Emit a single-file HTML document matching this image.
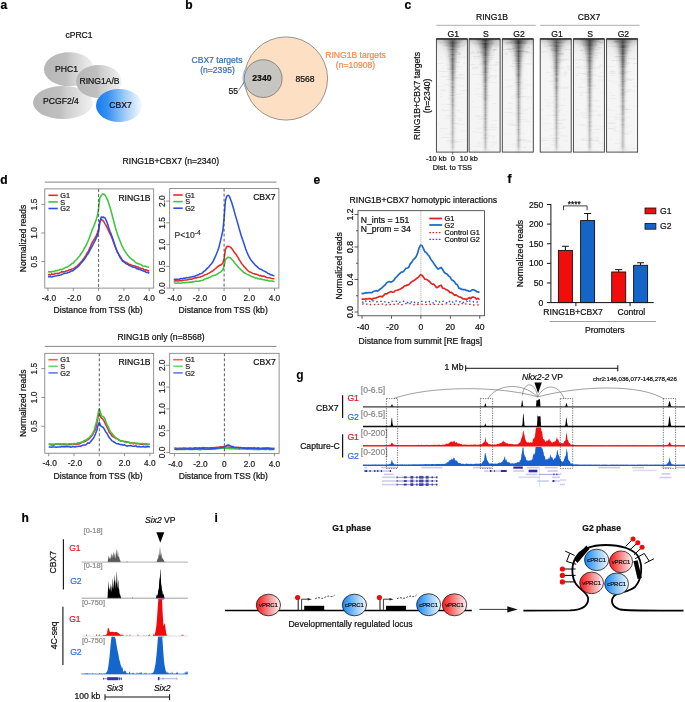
<!DOCTYPE html>
<html><head><meta charset="utf-8"><title>Figure</title>
<style>
html,body{margin:0;padding:0;background:#fff;}
svg{display:block;font-family:"Liberation Sans",sans-serif;will-change:transform;}
</style></head><body>
<svg width="685" height="702" viewBox="0 0 685 702">

<defs>
 <linearGradient id="gGray" x1="0" y1="0" x2="1" y2="0">
  <stop offset="0" stop-color="#b6b6b6"/>
  <stop offset="0.45" stop-color="#bfbfbf"/>
  <stop offset="0.55" stop-color="#cdcdcd"/>
  <stop offset="1" stop-color="#f2f2f2"/>
 </linearGradient>
 <linearGradient id="gBlue" x1="0" y1="0" x2="1" y2="0">
  <stop offset="0" stop-color="#157cf0"/>
  <stop offset="0.25" stop-color="#3590f2"/>
  <stop offset="0.65" stop-color="#a6cff8"/>
  <stop offset="1" stop-color="#f6faff"/>
 </linearGradient>
 <linearGradient id="gRedC" x1="0" y1="0" x2="1" y2="0">
  <stop offset="0" stop-color="#ff1a1a"/>
  <stop offset="0.12" stop-color="#fb2d2d"/>
  <stop offset="0.55" stop-color="#f49494"/>
  <stop offset="1" stop-color="#fff4f4"/>
 </linearGradient>
 <linearGradient id="gBlueC" x1="0" y1="0" x2="1" y2="0">
  <stop offset="0" stop-color="#1586f5"/>
  <stop offset="0.12" stop-color="#2a92f5"/>
  <stop offset="0.55" stop-color="#92c8f6"/>
  <stop offset="1" stop-color="#f2f9ff"/>
 </linearGradient>
 <linearGradient id="hmTop" x1="0" y1="0" x2="0" y2="1">
  <stop offset="0" stop-color="#555" stop-opacity="0.6"/>
  <stop offset="0.06" stop-color="#777" stop-opacity="0.3"/>
  <stop offset="0.3" stop-color="#999" stop-opacity="0.1"/>
  <stop offset="1" stop-color="#aaa" stop-opacity="0"/>
 </linearGradient>
 <linearGradient id="hmBand" x1="0" y1="0" x2="1" y2="0">
  <stop offset="0" stop-color="#333" stop-opacity="0"/>
  <stop offset="0.2" stop-color="#333" stop-opacity="0.1"/>
  <stop offset="0.35" stop-color="#2a2a2a" stop-opacity="0.45"/>
  <stop offset="0.5" stop-color="#1a1a1a" stop-opacity="0.92"/>
  <stop offset="0.65" stop-color="#2a2a2a" stop-opacity="0.45"/>
  <stop offset="0.8" stop-color="#333" stop-opacity="0.1"/>
  <stop offset="1" stop-color="#333" stop-opacity="0"/>
 </linearGradient>
 <linearGradient id="hmV" x1="0" y1="0" x2="0" y2="1">
  <stop offset="0" stop-color="#fff" stop-opacity="0"/>
  <stop offset="0.6" stop-color="#fff" stop-opacity="0.15"/>
  <stop offset="1" stop-color="#fff" stop-opacity="0.55"/>
 </linearGradient>
</defs>

<rect x="0" y="0" width="685" height="702" fill="#fff"/>
<text x="0.50" y="9.30" font-size="12" fill="#000" stroke="#000" stroke-width="0.22" font-weight="bold">a</text>
<text x="79.00" y="37.50" font-size="8.6" fill="#111" stroke="#111" stroke-width="0.22" text-anchor="middle">cPRC1</text>
<ellipse cx="69" cy="69.3" rx="25" ry="17" fill="url(#gGray)"/>
<ellipse cx="63" cy="102.5" rx="30" ry="16.5" fill="url(#gGray)"/>
<ellipse cx="98.8" cy="81.5" rx="22.8" ry="16.5" fill="url(#gGray)"/>
<ellipse cx="119" cy="105.5" rx="23" ry="16.5" fill="url(#gBlue)"/>
<text x="66.50" y="72.30" font-size="8.6" fill="#111" stroke="#111" stroke-width="0.22" text-anchor="middle">PHC1</text>
<text x="99.50" y="83.50" font-size="8.6" fill="#111" stroke="#111" stroke-width="0.22" text-anchor="middle">RING1A/B</text>
<text x="61.00" y="104.30" font-size="8.6" fill="#111" stroke="#111" stroke-width="0.22" text-anchor="middle">PCGF2/4</text>
<text x="120.60" y="107.60" font-size="8.6" fill="#111" stroke="#111" stroke-width="0.22" text-anchor="middle">CBX7</text>
<text x="185.20" y="9.30" font-size="12" fill="#000" stroke="#000" stroke-width="0.22" font-weight="bold">b</text>
<circle cx="286" cy="78.5" r="41.6" fill="#fddfc4" stroke="#555" stroke-width="0.6"/>
<path d="M 246 67.6 A 21 21 0 0 0 246 89" fill="#c2dcf0" stroke="#6f93b8" stroke-width="0.6"/>
<circle cx="263.2" cy="78.6" r="18.9" fill="#c6c5c1" stroke="#555" stroke-width="0.6"/>
<text x="261.90" y="80.90" font-size="8.6" fill="#111" stroke="#111" stroke-width="0.22" text-anchor="middle" font-weight="bold">2340</text>
<text x="305.00" y="81.80" font-size="8.6" fill="#111" stroke="#111" stroke-width="0.22" text-anchor="middle">8568</text>
<text x="233.30" y="93.70" font-size="8.6" fill="#111" stroke="#111" stroke-width="0.22" text-anchor="middle">55</text>
<line x1="238.60" y1="90.50" x2="244.20" y2="82.00" stroke="#333" stroke-width="0.6"/>
<text x="217.00" y="62.60" font-size="8.6" fill="#3a6fb5" stroke="#3a6fb5" stroke-width="0.22" text-anchor="middle">CBX7 targets</text>
<text x="217.50" y="73.30" font-size="8.6" fill="#3a6fb5" stroke="#3a6fb5" stroke-width="0.22" text-anchor="middle">(n=2395)</text>
<text x="355.50" y="57.50" font-size="8.6" fill="#f58a4a" stroke="#f58a4a" stroke-width="0.22" text-anchor="middle">RING1B targets</text>
<text x="355.50" y="68.30" font-size="8.6" fill="#f58a4a" stroke="#f58a4a" stroke-width="0.22" text-anchor="middle">(n=10908)</text>
<text x="404.50" y="9.30" font-size="12" fill="#000" stroke="#000" stroke-width="0.22" font-weight="bold">c</text>
<text x="492.00" y="19.80" font-size="8.6" fill="#111" stroke="#111" stroke-width="0.22" text-anchor="middle">RING1B</text>
<text x="589.00" y="19.80" font-size="8.6" fill="#111" stroke="#111" stroke-width="0.22" text-anchor="middle">CBX7</text>
<line x1="436.30" y1="25.30" x2="535.80" y2="25.30" stroke="#999" stroke-width="0.8"/>
<line x1="540.20" y1="25.30" x2="639.60" y2="25.30" stroke="#999" stroke-width="0.8"/>
<rect x="436.40" y="38.90" width="31.00" height="113.20" fill="#f5f5f5"/>
<rect x="446.4" y="133.8" width="7.3" height="0.8" fill="#666" opacity="0.04"/>
<rect x="456.6" y="96.8" width="4.8" height="0.8" fill="#666" opacity="0.05"/>
<rect x="458.6" y="92.9" width="6.1" height="0.8" fill="#666" opacity="0.06"/>
<rect x="450.9" y="71.2" width="7.3" height="0.8" fill="#666" opacity="0.07"/>
<rect x="454.0" y="141.1" width="8.9" height="0.8" fill="#666" opacity="0.08"/>
<rect x="457.5" y="74.4" width="7.1" height="0.8" fill="#666" opacity="0.09"/>
<rect x="448.8" y="92.4" width="2.7" height="0.8" fill="#666" opacity="0.06"/>
<rect x="447.0" y="141.4" width="8.8" height="0.8" fill="#666" opacity="0.07"/>
<rect x="449.2" y="68.9" width="7.6" height="0.8" fill="#666" opacity="0.06"/>
<rect x="457.7" y="119.9" width="4.8" height="0.8" fill="#666" opacity="0.06"/>
<rect x="458.2" y="40.0" width="5.5" height="0.8" fill="#666" opacity="0.14"/>
<rect x="441.1" y="76.1" width="8.1" height="0.8" fill="#666" opacity="0.08"/>
<rect x="453.9" y="66.4" width="8.8" height="0.8" fill="#666" opacity="0.09"/>
<rect x="450.0" y="48.8" width="4.2" height="0.8" fill="#666" opacity="0.15"/>
<rect x="454.0" y="52.0" width="5.9" height="0.8" fill="#666" opacity="0.13"/>
<rect x="460.2" y="130.5" width="5.8" height="0.8" fill="#666" opacity="0.06"/>
<rect x="451.7" y="105.2" width="5.1" height="0.8" fill="#666" opacity="0.05"/>
<rect x="441.8" y="103.9" width="4.0" height="0.8" fill="#666" opacity="0.04"/>
<rect x="448.1" y="108.0" width="6.6" height="0.8" fill="#666" opacity="0.03"/>
<rect x="457.1" y="124.1" width="8.1" height="0.8" fill="#666" opacity="0.07"/>
<rect x="448.5" y="139.8" width="8.5" height="0.8" fill="#666" opacity="0.05"/>
<rect x="458.1" y="118.3" width="3.9" height="0.8" fill="#666" opacity="0.07"/>
<rect x="459.6" y="139.4" width="6.1" height="0.8" fill="#666" opacity="0.06"/>
<rect x="460.2" y="90.0" width="6.6" height="0.8" fill="#666" opacity="0.08"/>
<rect x="453.7" y="128.1" width="2.6" height="0.8" fill="#666" opacity="0.05"/>
<rect x="442.3" y="110.0" width="7.9" height="0.8" fill="#666" opacity="0.07"/>
<rect x="457.9" y="52.9" width="3.5" height="0.8" fill="#666" opacity="0.12"/>
<rect x="440.9" y="130.6" width="2.7" height="0.8" fill="#666" opacity="0.06"/>
<rect x="458.7" y="44.9" width="6.0" height="0.8" fill="#666" opacity="0.14"/>
<rect x="454.6" y="115.6" width="2.2" height="0.8" fill="#666" opacity="0.06"/>
<rect x="446.3" y="103.9" width="4.7" height="0.8" fill="#666" opacity="0.08"/>
<rect x="463.7" y="43.9" width="2.2" height="0.8" fill="#666" opacity="0.13"/>
<rect x="458.1" y="53.7" width="3.5" height="0.8" fill="#666" opacity="0.14"/>
<rect x="439.4" y="42.4" width="5.0" height="0.8" fill="#666" opacity="0.14"/>
<rect x="445.1" y="64.5" width="6.5" height="0.8" fill="#666" opacity="0.08"/>
<rect x="439.7" y="95.9" width="2.3" height="0.8" fill="#666" opacity="0.08"/>
<rect x="455.5" y="62.1" width="4.5" height="0.8" fill="#666" opacity="0.12"/>
<rect x="454.9" y="142.0" width="3.2" height="0.8" fill="#666" opacity="0.08"/>
<rect x="456.6" y="46.4" width="6.7" height="0.8" fill="#666" opacity="0.13"/>
<rect x="447.4" y="67.8" width="6.2" height="0.8" fill="#666" opacity="0.07"/>
<rect x="451.2" y="92.3" width="4.9" height="0.8" fill="#666" opacity="0.06"/>
<rect x="458.3" y="74.5" width="4.5" height="0.8" fill="#666" opacity="0.06"/>
<rect x="457.6" y="102.2" width="2.1" height="0.8" fill="#666" opacity="0.05"/>
<rect x="443.2" y="45.0" width="4.0" height="0.8" fill="#666" opacity="0.16"/>
<rect x="446.2" y="79.1" width="4.0" height="0.8" fill="#666" opacity="0.09"/>
<rect x="453.8" y="110.4" width="6.3" height="0.8" fill="#666" opacity="0.05"/>
<rect x="436.9" y="86.0" width="6.6" height="0.8" fill="#666" opacity="0.04"/>
<rect x="453.7" y="77.1" width="3.7" height="0.8" fill="#666" opacity="0.06"/>
<rect x="446.9" y="137.2" width="6.0" height="0.8" fill="#666" opacity="0.05"/>
<rect x="453.5" y="117.9" width="4.9" height="0.8" fill="#666" opacity="0.03"/>
<rect x="441.0" y="89.4" width="3.8" height="0.8" fill="#666" opacity="0.06"/>
<rect x="455.1" y="94.1" width="5.9" height="0.8" fill="#666" opacity="0.07"/>
<rect x="449.0" y="94.9" width="4.2" height="0.8" fill="#666" opacity="0.07"/>
<rect x="441.1" y="137.2" width="7.7" height="0.8" fill="#666" opacity="0.08"/>
<rect x="456.8" y="110.3" width="2.6" height="0.8" fill="#666" opacity="0.08"/>
<rect x="444.3" y="84.6" width="6.7" height="0.8" fill="#666" opacity="0.04"/>
<rect x="459.9" y="119.7" width="2.0" height="0.8" fill="#666" opacity="0.06"/>
<rect x="454.5" y="50.8" width="2.8" height="0.8" fill="#666" opacity="0.15"/>
<rect x="439.0" y="71.0" width="8.8" height="0.8" fill="#666" opacity="0.10"/>
<rect x="444.4" y="84.0" width="2.6" height="0.8" fill="#666" opacity="0.05"/>
<rect x="439.8" y="128.0" width="8.0" height="0.8" fill="#666" opacity="0.06"/>
<rect x="459.2" y="112.3" width="4.4" height="0.8" fill="#666" opacity="0.04"/>
<rect x="455.8" y="42.0" width="2.3" height="0.8" fill="#666" opacity="0.15"/>
<rect x="456.4" y="145.2" width="8.6" height="0.8" fill="#666" opacity="0.03"/>
<rect x="452.0" y="123.2" width="6.9" height="0.8" fill="#666" opacity="0.07"/>
<rect x="445.7" y="140.3" width="6.5" height="0.8" fill="#666" opacity="0.06"/>
<rect x="437.1" y="63.0" width="6.1" height="0.8" fill="#666" opacity="0.08"/>
<rect x="453.0" y="77.0" width="7.5" height="0.8" fill="#666" opacity="0.06"/>
<rect x="441.4" y="108.9" width="2.3" height="0.8" fill="#666" opacity="0.08"/>
<rect x="450.7" y="72.1" width="4.8" height="0.8" fill="#666" opacity="0.07"/>
<rect x="438.2" y="93.1" width="3.7" height="0.8" fill="#666" opacity="0.04"/>
<rect x="448.0" y="98.1" width="2.5" height="0.8" fill="#666" opacity="0.05"/>
<rect x="461.7" y="86.0" width="2.7" height="0.8" fill="#666" opacity="0.05"/>
<rect x="444.2" y="133.4" width="8.8" height="0.8" fill="#666" opacity="0.05"/>
<rect x="444.5" y="117.7" width="5.0" height="0.8" fill="#666" opacity="0.07"/>
<rect x="450.4" y="139.4" width="8.4" height="0.8" fill="#666" opacity="0.05"/>
<rect x="438.4" y="148.3" width="6.5" height="0.8" fill="#666" opacity="0.03"/>
<rect x="437.1" y="123.3" width="2.4" height="0.8" fill="#666" opacity="0.05"/>
<rect x="449.0" y="97.6" width="5.1" height="0.8" fill="#666" opacity="0.06"/>
<rect x="446.1" y="115.4" width="5.0" height="0.8" fill="#666" opacity="0.08"/>
<rect x="446.6" y="68.9" width="7.4" height="0.8" fill="#666" opacity="0.08"/>
<rect x="452.3" y="47.0" width="8.0" height="0.8" fill="#666" opacity="0.16"/>
<rect x="439.7" y="90.1" width="6.7" height="0.8" fill="#666" opacity="0.05"/>
<rect x="463.2" y="62.9" width="2.3" height="0.8" fill="#666" opacity="0.09"/>
<rect x="447.0" y="56.2" width="3.4" height="0.8" fill="#666" opacity="0.12"/>
<rect x="457.6" y="56.7" width="8.9" height="0.8" fill="#666" opacity="0.10"/>
<rect x="457.3" y="85.0" width="6.8" height="0.8" fill="#666" opacity="0.05"/>
<rect x="449.7" y="141.9" width="4.3" height="0.8" fill="#666" opacity="0.05"/>
<rect x="453.1" y="114.4" width="3.4" height="0.8" fill="#666" opacity="0.04"/>
<rect x="456.0" y="77.7" width="8.7" height="0.8" fill="#666" opacity="0.09"/>
<rect x="436.40" y="38.90" width="31.00" height="24.90" fill="url(#hmTop)" opacity="0.90"/>
<rect x="433.20" y="38.90" width="39.00" height="1.05" fill="url(#hmBand)" opacity="0.71"/>
<rect x="434.48" y="39.90" width="36.44" height="1.05" fill="url(#hmBand)" opacity="0.73"/>
<rect x="435.64" y="40.90" width="34.13" height="1.05" fill="url(#hmBand)" opacity="0.75"/>
<rect x="436.68" y="41.90" width="32.04" height="1.05" fill="url(#hmBand)" opacity="0.86"/>
<rect x="437.63" y="42.90" width="30.14" height="1.05" fill="url(#hmBand)" opacity="0.86"/>
<rect x="438.48" y="43.90" width="28.43" height="1.05" fill="url(#hmBand)" opacity="0.79"/>
<rect x="439.26" y="44.90" width="26.88" height="1.05" fill="url(#hmBand)" opacity="0.81"/>
<rect x="439.96" y="45.90" width="25.48" height="1.05" fill="url(#hmBand)" opacity="0.82"/>
<rect x="440.60" y="46.90" width="24.21" height="1.05" fill="url(#hmBand)" opacity="0.64"/>
<rect x="441.18" y="47.90" width="23.05" height="1.05" fill="url(#hmBand)" opacity="0.64"/>
<rect x="441.70" y="48.90" width="22.00" height="1.05" fill="url(#hmBand)" opacity="0.80"/>
<rect x="442.18" y="49.90" width="21.04" height="1.05" fill="url(#hmBand)" opacity="0.61"/>
<rect x="442.62" y="50.90" width="20.17" height="1.05" fill="url(#hmBand)" opacity="0.64"/>
<rect x="443.01" y="51.90" width="19.37" height="1.05" fill="url(#hmBand)" opacity="0.60"/>
<rect x="443.38" y="52.90" width="18.65" height="1.05" fill="url(#hmBand)" opacity="0.58"/>
<rect x="443.71" y="53.90" width="17.98" height="1.05" fill="url(#hmBand)" opacity="0.74"/>
<rect x="444.01" y="54.90" width="17.38" height="1.05" fill="url(#hmBand)" opacity="0.63"/>
<rect x="444.29" y="55.90" width="16.82" height="1.05" fill="url(#hmBand)" opacity="0.59"/>
<rect x="444.54" y="56.90" width="16.31" height="1.05" fill="url(#hmBand)" opacity="0.58"/>
<rect x="444.78" y="57.90" width="15.84" height="1.05" fill="url(#hmBand)" opacity="0.67"/>
<rect x="444.99" y="58.90" width="15.41" height="1.05" fill="url(#hmBand)" opacity="0.72"/>
<rect x="445.19" y="59.90" width="15.01" height="1.05" fill="url(#hmBand)" opacity="0.62"/>
<rect x="445.38" y="60.90" width="14.65" height="1.05" fill="url(#hmBand)" opacity="0.69"/>
<rect x="445.55" y="61.90" width="14.31" height="1.05" fill="url(#hmBand)" opacity="0.61"/>
<rect x="445.70" y="62.90" width="13.99" height="1.05" fill="url(#hmBand)" opacity="0.61"/>
<rect x="445.85" y="63.90" width="13.70" height="1.05" fill="url(#hmBand)" opacity="0.62"/>
<rect x="445.98" y="64.90" width="13.43" height="1.05" fill="url(#hmBand)" opacity="0.64"/>
<rect x="446.11" y="65.90" width="13.18" height="1.05" fill="url(#hmBand)" opacity="0.62"/>
<rect x="446.23" y="66.90" width="12.95" height="1.05" fill="url(#hmBand)" opacity="0.65"/>
<rect x="446.34" y="67.90" width="12.73" height="1.05" fill="url(#hmBand)" opacity="0.60"/>
<rect x="446.44" y="68.90" width="12.52" height="1.05" fill="url(#hmBand)" opacity="0.62"/>
<rect x="446.54" y="69.90" width="12.33" height="1.05" fill="url(#hmBand)" opacity="0.50"/>
<rect x="446.62" y="70.90" width="12.15" height="1.05" fill="url(#hmBand)" opacity="0.54"/>
<rect x="446.71" y="71.90" width="11.98" height="1.05" fill="url(#hmBand)" opacity="0.55"/>
<rect x="446.79" y="72.90" width="11.82" height="1.05" fill="url(#hmBand)" opacity="0.58"/>
<rect x="446.86" y="73.90" width="11.67" height="1.05" fill="url(#hmBand)" opacity="0.52"/>
<rect x="446.93" y="74.90" width="11.53" height="1.05" fill="url(#hmBand)" opacity="0.56"/>
<rect x="447.00" y="75.90" width="11.40" height="1.05" fill="url(#hmBand)" opacity="0.49"/>
<rect x="447.06" y="76.90" width="11.27" height="1.05" fill="url(#hmBand)" opacity="0.51"/>
<rect x="447.12" y="77.90" width="11.15" height="1.05" fill="url(#hmBand)" opacity="0.54"/>
<rect x="447.18" y="78.90" width="11.04" height="1.05" fill="url(#hmBand)" opacity="0.53"/>
<rect x="447.24" y="79.90" width="10.93" height="1.05" fill="url(#hmBand)" opacity="0.50"/>
<rect x="447.29" y="80.90" width="10.83" height="1.05" fill="url(#hmBand)" opacity="0.40"/>
<rect x="447.34" y="81.90" width="10.73" height="1.05" fill="url(#hmBand)" opacity="0.42"/>
<rect x="447.38" y="82.90" width="10.63" height="1.05" fill="url(#hmBand)" opacity="0.46"/>
<rect x="447.43" y="83.90" width="10.54" height="1.05" fill="url(#hmBand)" opacity="0.42"/>
<rect x="447.47" y="84.90" width="10.46" height="1.05" fill="url(#hmBand)" opacity="0.39"/>
<rect x="447.51" y="85.90" width="10.38" height="1.05" fill="url(#hmBand)" opacity="0.49"/>
<rect x="447.55" y="86.90" width="10.30" height="1.05" fill="url(#hmBand)" opacity="0.50"/>
<rect x="447.59" y="87.90" width="10.22" height="1.05" fill="url(#hmBand)" opacity="0.41"/>
<rect x="447.62" y="88.90" width="10.15" height="1.05" fill="url(#hmBand)" opacity="0.42"/>
<rect x="447.66" y="89.90" width="10.08" height="1.05" fill="url(#hmBand)" opacity="0.46"/>
<rect x="447.69" y="90.90" width="10.02" height="1.05" fill="url(#hmBand)" opacity="0.37"/>
<rect x="447.72" y="91.90" width="9.95" height="1.05" fill="url(#hmBand)" opacity="0.43"/>
<rect x="447.75" y="92.90" width="9.89" height="1.05" fill="url(#hmBand)" opacity="0.36"/>
<rect x="447.78" y="93.90" width="9.83" height="1.05" fill="url(#hmBand)" opacity="0.38"/>
<rect x="447.81" y="94.90" width="9.78" height="1.05" fill="url(#hmBand)" opacity="0.44"/>
<rect x="447.84" y="95.90" width="9.72" height="1.05" fill="url(#hmBand)" opacity="0.34"/>
<rect x="447.87" y="96.90" width="9.67" height="1.05" fill="url(#hmBand)" opacity="0.34"/>
<rect x="447.89" y="97.90" width="9.62" height="1.05" fill="url(#hmBand)" opacity="0.38"/>
<rect x="447.92" y="98.90" width="9.57" height="1.05" fill="url(#hmBand)" opacity="0.38"/>
<rect x="447.94" y="99.90" width="9.52" height="1.05" fill="url(#hmBand)" opacity="0.42"/>
<rect x="447.96" y="100.90" width="9.47" height="1.05" fill="url(#hmBand)" opacity="0.40"/>
<rect x="447.99" y="101.90" width="9.43" height="1.05" fill="url(#hmBand)" opacity="0.39"/>
<rect x="448.01" y="102.90" width="9.39" height="1.05" fill="url(#hmBand)" opacity="0.33"/>
<rect x="448.03" y="103.90" width="9.34" height="1.05" fill="url(#hmBand)" opacity="0.41"/>
<rect x="448.05" y="104.90" width="9.30" height="1.05" fill="url(#hmBand)" opacity="0.35"/>
<rect x="448.07" y="105.90" width="9.26" height="1.05" fill="url(#hmBand)" opacity="0.37"/>
<rect x="448.09" y="106.90" width="9.23" height="1.05" fill="url(#hmBand)" opacity="0.34"/>
<rect x="448.10" y="107.90" width="9.19" height="1.05" fill="url(#hmBand)" opacity="0.30"/>
<rect x="448.12" y="108.90" width="9.16" height="1.05" fill="url(#hmBand)" opacity="0.34"/>
<rect x="448.14" y="109.90" width="9.12" height="1.05" fill="url(#hmBand)" opacity="0.30"/>
<rect x="448.16" y="110.90" width="9.09" height="1.05" fill="url(#hmBand)" opacity="0.29"/>
<rect x="448.17" y="111.90" width="9.06" height="1.05" fill="url(#hmBand)" opacity="0.34"/>
<rect x="448.19" y="112.90" width="9.02" height="1.05" fill="url(#hmBand)" opacity="0.34"/>
<rect x="448.20" y="113.90" width="8.99" height="1.05" fill="url(#hmBand)" opacity="0.29"/>
<rect x="448.22" y="114.90" width="8.97" height="1.05" fill="url(#hmBand)" opacity="0.33"/>
<rect x="448.23" y="115.90" width="8.94" height="1.05" fill="url(#hmBand)" opacity="0.30"/>
<rect x="448.25" y="116.90" width="8.91" height="1.05" fill="url(#hmBand)" opacity="0.30"/>
<rect x="448.26" y="117.90" width="8.88" height="1.05" fill="url(#hmBand)" opacity="0.34"/>
<rect x="448.27" y="118.90" width="8.86" height="1.05" fill="url(#hmBand)" opacity="0.31"/>
<rect x="448.28" y="119.90" width="8.83" height="1.05" fill="url(#hmBand)" opacity="0.34"/>
<rect x="448.30" y="120.90" width="8.81" height="1.05" fill="url(#hmBand)" opacity="0.31"/>
<rect x="448.31" y="121.90" width="8.78" height="1.05" fill="url(#hmBand)" opacity="0.29"/>
<rect x="448.32" y="122.90" width="8.76" height="1.05" fill="url(#hmBand)" opacity="0.31"/>
<rect x="448.33" y="123.90" width="8.74" height="1.05" fill="url(#hmBand)" opacity="0.28"/>
<rect x="448.34" y="124.90" width="8.72" height="1.05" fill="url(#hmBand)" opacity="0.26"/>
<rect x="448.35" y="125.90" width="8.70" height="1.05" fill="url(#hmBand)" opacity="0.30"/>
<rect x="448.36" y="126.90" width="8.68" height="1.05" fill="url(#hmBand)" opacity="0.29"/>
<rect x="448.37" y="127.90" width="8.66" height="1.05" fill="url(#hmBand)" opacity="0.30"/>
<rect x="448.38" y="128.90" width="8.64" height="1.05" fill="url(#hmBand)" opacity="0.25"/>
<rect x="448.39" y="129.90" width="8.62" height="1.05" fill="url(#hmBand)" opacity="0.31"/>
<rect x="448.40" y="130.90" width="8.60" height="1.05" fill="url(#hmBand)" opacity="0.30"/>
<rect x="448.41" y="131.90" width="8.58" height="1.05" fill="url(#hmBand)" opacity="0.30"/>
<rect x="448.42" y="132.90" width="8.57" height="1.05" fill="url(#hmBand)" opacity="0.30"/>
<rect x="448.43" y="133.90" width="8.55" height="1.05" fill="url(#hmBand)" opacity="0.28"/>
<rect x="448.43" y="134.90" width="8.53" height="1.05" fill="url(#hmBand)" opacity="0.29"/>
<rect x="448.44" y="135.90" width="8.52" height="1.05" fill="url(#hmBand)" opacity="0.26"/>
<rect x="448.45" y="136.90" width="8.50" height="1.05" fill="url(#hmBand)" opacity="0.28"/>
<rect x="448.46" y="137.90" width="8.49" height="1.05" fill="url(#hmBand)" opacity="0.23"/>
<rect x="448.46" y="138.90" width="8.47" height="1.05" fill="url(#hmBand)" opacity="0.27"/>
<rect x="448.47" y="139.90" width="8.46" height="1.05" fill="url(#hmBand)" opacity="0.25"/>
<rect x="448.48" y="140.90" width="8.45" height="1.05" fill="url(#hmBand)" opacity="0.27"/>
<rect x="448.48" y="141.90" width="8.43" height="1.05" fill="url(#hmBand)" opacity="0.24"/>
<rect x="448.49" y="142.90" width="8.42" height="1.05" fill="url(#hmBand)" opacity="0.26"/>
<rect x="448.50" y="143.90" width="8.41" height="1.05" fill="url(#hmBand)" opacity="0.21"/>
<rect x="448.50" y="144.90" width="8.40" height="1.05" fill="url(#hmBand)" opacity="0.21"/>
<rect x="448.51" y="145.90" width="8.39" height="1.05" fill="url(#hmBand)" opacity="0.26"/>
<rect x="448.51" y="146.90" width="8.37" height="1.05" fill="url(#hmBand)" opacity="0.20"/>
<rect x="448.52" y="147.90" width="8.36" height="1.05" fill="url(#hmBand)" opacity="0.19"/>
<rect x="448.52" y="148.90" width="8.35" height="1.05" fill="url(#hmBand)" opacity="0.16"/>
<rect x="448.53" y="149.90" width="8.34" height="1.05" fill="url(#hmBand)" opacity="0.11"/>
<rect x="448.53" y="150.90" width="8.33" height="1.05" fill="url(#hmBand)" opacity="0.08"/>
<rect x="448.54" y="151.90" width="8.32" height="1.05" fill="url(#hmBand)" opacity="0.05"/>
<rect x="436.40" y="38.90" width="31.00" height="113.20" fill="none" stroke="#3a3a3a" stroke-width="0.9"/>
<line x1="436.40" y1="38.90" x2="467.40" y2="38.90" stroke="#222" stroke-width="1.2"/>
<text x="453.20" y="36.80" font-size="8.6" fill="#111" stroke="#111" stroke-width="0.22" text-anchor="middle">G1</text>
<rect x="469.10" y="38.90" width="31.00" height="113.20" fill="#f5f5f5"/>
<rect x="486.5" y="54.8" width="7.9" height="0.8" fill="#666" opacity="0.11"/>
<rect x="485.8" y="95.0" width="5.1" height="0.8" fill="#666" opacity="0.07"/>
<rect x="492.8" y="50.3" width="2.2" height="0.8" fill="#666" opacity="0.13"/>
<rect x="482.1" y="124.7" width="2.0" height="0.8" fill="#666" opacity="0.07"/>
<rect x="488.9" y="65.3" width="8.6" height="0.8" fill="#666" opacity="0.07"/>
<rect x="492.3" y="42.7" width="5.8" height="0.8" fill="#666" opacity="0.14"/>
<rect x="470.3" y="64.0" width="5.0" height="0.8" fill="#666" opacity="0.09"/>
<rect x="475.3" y="88.6" width="5.5" height="0.8" fill="#666" opacity="0.04"/>
<rect x="476.8" y="64.2" width="5.2" height="0.8" fill="#666" opacity="0.08"/>
<rect x="485.1" y="133.0" width="5.9" height="0.8" fill="#666" opacity="0.04"/>
<rect x="472.3" y="150.3" width="8.0" height="0.8" fill="#666" opacity="0.05"/>
<rect x="491.2" y="120.1" width="7.0" height="0.8" fill="#666" opacity="0.05"/>
<rect x="476.7" y="132.2" width="6.7" height="0.8" fill="#666" opacity="0.06"/>
<rect x="480.8" y="138.0" width="7.9" height="0.8" fill="#666" opacity="0.06"/>
<rect x="490.6" y="43.7" width="3.7" height="0.8" fill="#666" opacity="0.14"/>
<rect x="486.6" y="59.1" width="5.8" height="0.8" fill="#666" opacity="0.12"/>
<rect x="482.3" y="81.6" width="5.1" height="0.8" fill="#666" opacity="0.07"/>
<rect x="482.0" y="97.8" width="4.8" height="0.8" fill="#666" opacity="0.03"/>
<rect x="492.3" y="44.7" width="6.9" height="0.8" fill="#666" opacity="0.15"/>
<rect x="483.1" y="83.7" width="3.2" height="0.8" fill="#666" opacity="0.08"/>
<rect x="490.4" y="125.6" width="5.8" height="0.8" fill="#666" opacity="0.04"/>
<rect x="481.9" y="97.0" width="8.7" height="0.8" fill="#666" opacity="0.05"/>
<rect x="492.7" y="69.8" width="5.8" height="0.8" fill="#666" opacity="0.06"/>
<rect x="489.3" y="127.0" width="7.7" height="0.8" fill="#666" opacity="0.07"/>
<rect x="483.3" y="129.9" width="5.6" height="0.8" fill="#666" opacity="0.05"/>
<rect x="482.1" y="46.1" width="8.1" height="0.8" fill="#666" opacity="0.12"/>
<rect x="478.4" y="96.0" width="5.4" height="0.8" fill="#666" opacity="0.05"/>
<rect x="484.1" y="99.8" width="6.4" height="0.8" fill="#666" opacity="0.05"/>
<rect x="474.3" y="43.0" width="3.6" height="0.8" fill="#666" opacity="0.15"/>
<rect x="487.5" y="135.6" width="7.6" height="0.8" fill="#666" opacity="0.07"/>
<rect x="484.5" y="68.3" width="7.9" height="0.8" fill="#666" opacity="0.07"/>
<rect x="490.7" y="41.8" width="2.1" height="0.8" fill="#666" opacity="0.14"/>
<rect x="477.7" y="52.1" width="6.4" height="0.8" fill="#666" opacity="0.10"/>
<rect x="473.7" y="57.7" width="5.7" height="0.8" fill="#666" opacity="0.10"/>
<rect x="477.6" y="119.0" width="5.2" height="0.8" fill="#666" opacity="0.05"/>
<rect x="480.2" y="42.5" width="4.7" height="0.8" fill="#666" opacity="0.13"/>
<rect x="480.7" y="52.0" width="8.3" height="0.8" fill="#666" opacity="0.11"/>
<rect x="470.1" y="107.2" width="7.7" height="0.8" fill="#666" opacity="0.03"/>
<rect x="473.3" y="56.2" width="7.0" height="0.8" fill="#666" opacity="0.13"/>
<rect x="474.9" y="115.3" width="5.8" height="0.8" fill="#666" opacity="0.08"/>
<rect x="475.0" y="128.6" width="5.6" height="0.8" fill="#666" opacity="0.06"/>
<rect x="477.3" y="83.8" width="6.0" height="0.8" fill="#666" opacity="0.06"/>
<rect x="494.7" y="46.4" width="4.1" height="0.8" fill="#666" opacity="0.16"/>
<rect x="476.4" y="74.0" width="8.0" height="0.8" fill="#666" opacity="0.10"/>
<rect x="475.9" y="122.6" width="4.9" height="0.8" fill="#666" opacity="0.03"/>
<rect x="492.3" y="137.6" width="2.3" height="0.8" fill="#666" opacity="0.08"/>
<rect x="492.9" y="103.3" width="3.2" height="0.8" fill="#666" opacity="0.08"/>
<rect x="478.8" y="118.2" width="5.6" height="0.8" fill="#666" opacity="0.05"/>
<rect x="479.7" y="62.8" width="6.7" height="0.8" fill="#666" opacity="0.09"/>
<rect x="476.5" y="51.5" width="6.7" height="0.8" fill="#666" opacity="0.13"/>
<rect x="489.3" y="76.1" width="8.1" height="0.8" fill="#666" opacity="0.05"/>
<rect x="495.0" y="62.2" width="4.3" height="0.8" fill="#666" opacity="0.12"/>
<rect x="487.5" y="77.6" width="3.5" height="0.8" fill="#666" opacity="0.09"/>
<rect x="492.2" y="143.6" width="4.4" height="0.8" fill="#666" opacity="0.06"/>
<rect x="474.6" y="93.8" width="8.9" height="0.8" fill="#666" opacity="0.07"/>
<rect x="494.0" y="49.3" width="3.2" height="0.8" fill="#666" opacity="0.12"/>
<rect x="489.6" y="124.3" width="6.2" height="0.8" fill="#666" opacity="0.05"/>
<rect x="492.1" y="77.7" width="4.0" height="0.8" fill="#666" opacity="0.07"/>
<rect x="472.5" y="146.0" width="8.2" height="0.8" fill="#666" opacity="0.06"/>
<rect x="471.6" y="51.5" width="2.3" height="0.8" fill="#666" opacity="0.15"/>
<rect x="477.2" y="127.5" width="7.8" height="0.8" fill="#666" opacity="0.06"/>
<rect x="484.1" y="126.8" width="4.6" height="0.8" fill="#666" opacity="0.04"/>
<rect x="492.9" y="49.0" width="3.9" height="0.8" fill="#666" opacity="0.14"/>
<rect x="476.5" y="142.8" width="5.2" height="0.8" fill="#666" opacity="0.07"/>
<rect x="488.3" y="131.9" width="2.1" height="0.8" fill="#666" opacity="0.03"/>
<rect x="470.5" y="52.7" width="8.2" height="0.8" fill="#666" opacity="0.11"/>
<rect x="472.5" y="149.8" width="4.9" height="0.8" fill="#666" opacity="0.04"/>
<rect x="471.9" y="66.7" width="7.2" height="0.8" fill="#666" opacity="0.11"/>
<rect x="488.9" y="82.0" width="8.8" height="0.8" fill="#666" opacity="0.05"/>
<rect x="472.1" y="68.1" width="5.3" height="0.8" fill="#666" opacity="0.10"/>
<rect x="497.0" y="44.3" width="2.1" height="0.8" fill="#666" opacity="0.13"/>
<rect x="477.4" y="106.2" width="5.1" height="0.8" fill="#666" opacity="0.03"/>
<rect x="490.2" y="141.5" width="8.8" height="0.8" fill="#666" opacity="0.04"/>
<rect x="492.8" y="63.8" width="6.3" height="0.8" fill="#666" opacity="0.10"/>
<rect x="475.7" y="116.4" width="6.6" height="0.8" fill="#666" opacity="0.06"/>
<rect x="471.7" y="74.1" width="3.7" height="0.8" fill="#666" opacity="0.07"/>
<rect x="485.8" y="149.3" width="5.1" height="0.8" fill="#666" opacity="0.06"/>
<rect x="477.4" y="144.5" width="4.7" height="0.8" fill="#666" opacity="0.05"/>
<rect x="489.3" y="75.1" width="7.9" height="0.8" fill="#666" opacity="0.07"/>
<rect x="483.6" y="77.1" width="5.8" height="0.8" fill="#666" opacity="0.08"/>
<rect x="476.4" y="67.2" width="2.1" height="0.8" fill="#666" opacity="0.07"/>
<rect x="471.7" y="101.2" width="2.5" height="0.8" fill="#666" opacity="0.06"/>
<rect x="480.7" y="72.2" width="7.5" height="0.8" fill="#666" opacity="0.10"/>
<rect x="489.1" y="57.0" width="5.5" height="0.8" fill="#666" opacity="0.09"/>
<rect x="490.4" y="145.5" width="3.2" height="0.8" fill="#666" opacity="0.08"/>
<rect x="472.4" y="131.3" width="4.2" height="0.8" fill="#666" opacity="0.06"/>
<rect x="492.8" y="142.1" width="4.1" height="0.8" fill="#666" opacity="0.04"/>
<rect x="478.4" y="141.1" width="2.2" height="0.8" fill="#666" opacity="0.08"/>
<rect x="487.8" y="129.3" width="8.4" height="0.8" fill="#666" opacity="0.07"/>
<rect x="481.2" y="116.6" width="3.2" height="0.8" fill="#666" opacity="0.04"/>
<rect x="469.10" y="38.90" width="31.00" height="24.90" fill="url(#hmTop)" opacity="1.00"/>
<rect x="465.90" y="38.90" width="39.00" height="1.05" fill="url(#hmBand)" opacity="0.98"/>
<rect x="467.18" y="39.90" width="36.44" height="1.05" fill="url(#hmBand)" opacity="0.95"/>
<rect x="468.34" y="40.90" width="34.13" height="1.05" fill="url(#hmBand)" opacity="0.83"/>
<rect x="469.38" y="41.90" width="32.04" height="1.05" fill="url(#hmBand)" opacity="0.77"/>
<rect x="470.33" y="42.90" width="30.14" height="1.05" fill="url(#hmBand)" opacity="0.99"/>
<rect x="471.18" y="43.90" width="28.43" height="1.05" fill="url(#hmBand)" opacity="0.94"/>
<rect x="471.96" y="44.90" width="26.88" height="1.05" fill="url(#hmBand)" opacity="0.86"/>
<rect x="472.66" y="45.90" width="25.48" height="1.05" fill="url(#hmBand)" opacity="0.85"/>
<rect x="473.30" y="46.90" width="24.21" height="1.05" fill="url(#hmBand)" opacity="0.91"/>
<rect x="473.88" y="47.90" width="23.05" height="1.05" fill="url(#hmBand)" opacity="0.80"/>
<rect x="474.40" y="48.90" width="22.00" height="1.05" fill="url(#hmBand)" opacity="0.78"/>
<rect x="474.88" y="49.90" width="21.04" height="1.05" fill="url(#hmBand)" opacity="0.75"/>
<rect x="475.32" y="50.90" width="20.17" height="1.05" fill="url(#hmBand)" opacity="0.72"/>
<rect x="475.71" y="51.90" width="19.37" height="1.05" fill="url(#hmBand)" opacity="0.66"/>
<rect x="476.08" y="52.90" width="18.65" height="1.05" fill="url(#hmBand)" opacity="0.79"/>
<rect x="476.41" y="53.90" width="17.98" height="1.05" fill="url(#hmBand)" opacity="0.73"/>
<rect x="476.71" y="54.90" width="17.38" height="1.05" fill="url(#hmBand)" opacity="0.75"/>
<rect x="476.99" y="55.90" width="16.82" height="1.05" fill="url(#hmBand)" opacity="0.63"/>
<rect x="477.24" y="56.90" width="16.31" height="1.05" fill="url(#hmBand)" opacity="0.69"/>
<rect x="477.48" y="57.90" width="15.84" height="1.05" fill="url(#hmBand)" opacity="0.63"/>
<rect x="477.69" y="58.90" width="15.41" height="1.05" fill="url(#hmBand)" opacity="0.62"/>
<rect x="477.89" y="59.90" width="15.01" height="1.05" fill="url(#hmBand)" opacity="0.64"/>
<rect x="478.08" y="60.90" width="14.65" height="1.05" fill="url(#hmBand)" opacity="0.75"/>
<rect x="478.25" y="61.90" width="14.31" height="1.05" fill="url(#hmBand)" opacity="0.65"/>
<rect x="478.40" y="62.90" width="13.99" height="1.05" fill="url(#hmBand)" opacity="0.64"/>
<rect x="478.55" y="63.90" width="13.70" height="1.05" fill="url(#hmBand)" opacity="0.68"/>
<rect x="478.68" y="64.90" width="13.43" height="1.05" fill="url(#hmBand)" opacity="0.60"/>
<rect x="478.81" y="65.90" width="13.18" height="1.05" fill="url(#hmBand)" opacity="0.54"/>
<rect x="478.93" y="66.90" width="12.95" height="1.05" fill="url(#hmBand)" opacity="0.64"/>
<rect x="479.04" y="67.90" width="12.73" height="1.05" fill="url(#hmBand)" opacity="0.62"/>
<rect x="479.14" y="68.90" width="12.52" height="1.05" fill="url(#hmBand)" opacity="0.64"/>
<rect x="479.24" y="69.90" width="12.33" height="1.05" fill="url(#hmBand)" opacity="0.60"/>
<rect x="479.32" y="70.90" width="12.15" height="1.05" fill="url(#hmBand)" opacity="0.63"/>
<rect x="479.41" y="71.90" width="11.98" height="1.05" fill="url(#hmBand)" opacity="0.63"/>
<rect x="479.49" y="72.90" width="11.82" height="1.05" fill="url(#hmBand)" opacity="0.54"/>
<rect x="479.56" y="73.90" width="11.67" height="1.05" fill="url(#hmBand)" opacity="0.58"/>
<rect x="479.63" y="74.90" width="11.53" height="1.05" fill="url(#hmBand)" opacity="0.57"/>
<rect x="479.70" y="75.90" width="11.40" height="1.05" fill="url(#hmBand)" opacity="0.52"/>
<rect x="479.76" y="76.90" width="11.27" height="1.05" fill="url(#hmBand)" opacity="0.54"/>
<rect x="479.82" y="77.90" width="11.15" height="1.05" fill="url(#hmBand)" opacity="0.56"/>
<rect x="479.88" y="78.90" width="11.04" height="1.05" fill="url(#hmBand)" opacity="0.61"/>
<rect x="479.94" y="79.90" width="10.93" height="1.05" fill="url(#hmBand)" opacity="0.60"/>
<rect x="479.99" y="80.90" width="10.83" height="1.05" fill="url(#hmBand)" opacity="0.49"/>
<rect x="480.04" y="81.90" width="10.73" height="1.05" fill="url(#hmBand)" opacity="0.54"/>
<rect x="480.08" y="82.90" width="10.63" height="1.05" fill="url(#hmBand)" opacity="0.44"/>
<rect x="480.13" y="83.90" width="10.54" height="1.05" fill="url(#hmBand)" opacity="0.44"/>
<rect x="480.17" y="84.90" width="10.46" height="1.05" fill="url(#hmBand)" opacity="0.50"/>
<rect x="480.21" y="85.90" width="10.38" height="1.05" fill="url(#hmBand)" opacity="0.55"/>
<rect x="480.25" y="86.90" width="10.30" height="1.05" fill="url(#hmBand)" opacity="0.44"/>
<rect x="480.29" y="87.90" width="10.22" height="1.05" fill="url(#hmBand)" opacity="0.52"/>
<rect x="480.32" y="88.90" width="10.15" height="1.05" fill="url(#hmBand)" opacity="0.53"/>
<rect x="480.36" y="89.90" width="10.08" height="1.05" fill="url(#hmBand)" opacity="0.45"/>
<rect x="480.39" y="90.90" width="10.02" height="1.05" fill="url(#hmBand)" opacity="0.49"/>
<rect x="480.42" y="91.90" width="9.95" height="1.05" fill="url(#hmBand)" opacity="0.51"/>
<rect x="480.45" y="92.90" width="9.89" height="1.05" fill="url(#hmBand)" opacity="0.44"/>
<rect x="480.48" y="93.90" width="9.83" height="1.05" fill="url(#hmBand)" opacity="0.48"/>
<rect x="480.51" y="94.90" width="9.78" height="1.05" fill="url(#hmBand)" opacity="0.48"/>
<rect x="480.54" y="95.90" width="9.72" height="1.05" fill="url(#hmBand)" opacity="0.45"/>
<rect x="480.57" y="96.90" width="9.67" height="1.05" fill="url(#hmBand)" opacity="0.48"/>
<rect x="480.59" y="97.90" width="9.62" height="1.05" fill="url(#hmBand)" opacity="0.48"/>
<rect x="480.62" y="98.90" width="9.57" height="1.05" fill="url(#hmBand)" opacity="0.48"/>
<rect x="480.64" y="99.90" width="9.52" height="1.05" fill="url(#hmBand)" opacity="0.43"/>
<rect x="480.66" y="100.90" width="9.47" height="1.05" fill="url(#hmBand)" opacity="0.38"/>
<rect x="480.69" y="101.90" width="9.43" height="1.05" fill="url(#hmBand)" opacity="0.38"/>
<rect x="480.71" y="102.90" width="9.39" height="1.05" fill="url(#hmBand)" opacity="0.37"/>
<rect x="480.73" y="103.90" width="9.34" height="1.05" fill="url(#hmBand)" opacity="0.41"/>
<rect x="480.75" y="104.90" width="9.30" height="1.05" fill="url(#hmBand)" opacity="0.43"/>
<rect x="480.77" y="105.90" width="9.26" height="1.05" fill="url(#hmBand)" opacity="0.34"/>
<rect x="480.79" y="106.90" width="9.23" height="1.05" fill="url(#hmBand)" opacity="0.41"/>
<rect x="480.80" y="107.90" width="9.19" height="1.05" fill="url(#hmBand)" opacity="0.41"/>
<rect x="480.82" y="108.90" width="9.16" height="1.05" fill="url(#hmBand)" opacity="0.36"/>
<rect x="480.84" y="109.90" width="9.12" height="1.05" fill="url(#hmBand)" opacity="0.38"/>
<rect x="480.86" y="110.90" width="9.09" height="1.05" fill="url(#hmBand)" opacity="0.33"/>
<rect x="480.87" y="111.90" width="9.06" height="1.05" fill="url(#hmBand)" opacity="0.39"/>
<rect x="480.89" y="112.90" width="9.02" height="1.05" fill="url(#hmBand)" opacity="0.31"/>
<rect x="480.90" y="113.90" width="8.99" height="1.05" fill="url(#hmBand)" opacity="0.41"/>
<rect x="480.92" y="114.90" width="8.97" height="1.05" fill="url(#hmBand)" opacity="0.39"/>
<rect x="480.93" y="115.90" width="8.94" height="1.05" fill="url(#hmBand)" opacity="0.37"/>
<rect x="480.95" y="116.90" width="8.91" height="1.05" fill="url(#hmBand)" opacity="0.32"/>
<rect x="480.96" y="117.90" width="8.88" height="1.05" fill="url(#hmBand)" opacity="0.39"/>
<rect x="480.97" y="118.90" width="8.86" height="1.05" fill="url(#hmBand)" opacity="0.39"/>
<rect x="480.98" y="119.90" width="8.83" height="1.05" fill="url(#hmBand)" opacity="0.30"/>
<rect x="481.00" y="120.90" width="8.81" height="1.05" fill="url(#hmBand)" opacity="0.36"/>
<rect x="481.01" y="121.90" width="8.78" height="1.05" fill="url(#hmBand)" opacity="0.36"/>
<rect x="481.02" y="122.90" width="8.76" height="1.05" fill="url(#hmBand)" opacity="0.34"/>
<rect x="481.03" y="123.90" width="8.74" height="1.05" fill="url(#hmBand)" opacity="0.34"/>
<rect x="481.04" y="124.90" width="8.72" height="1.05" fill="url(#hmBand)" opacity="0.32"/>
<rect x="481.05" y="125.90" width="8.70" height="1.05" fill="url(#hmBand)" opacity="0.36"/>
<rect x="481.06" y="126.90" width="8.68" height="1.05" fill="url(#hmBand)" opacity="0.36"/>
<rect x="481.07" y="127.90" width="8.66" height="1.05" fill="url(#hmBand)" opacity="0.30"/>
<rect x="481.08" y="128.90" width="8.64" height="1.05" fill="url(#hmBand)" opacity="0.34"/>
<rect x="481.09" y="129.90" width="8.62" height="1.05" fill="url(#hmBand)" opacity="0.30"/>
<rect x="481.10" y="130.90" width="8.60" height="1.05" fill="url(#hmBand)" opacity="0.27"/>
<rect x="481.11" y="131.90" width="8.58" height="1.05" fill="url(#hmBand)" opacity="0.28"/>
<rect x="481.12" y="132.90" width="8.57" height="1.05" fill="url(#hmBand)" opacity="0.26"/>
<rect x="481.13" y="133.90" width="8.55" height="1.05" fill="url(#hmBand)" opacity="0.33"/>
<rect x="481.13" y="134.90" width="8.53" height="1.05" fill="url(#hmBand)" opacity="0.33"/>
<rect x="481.14" y="135.90" width="8.52" height="1.05" fill="url(#hmBand)" opacity="0.26"/>
<rect x="481.15" y="136.90" width="8.50" height="1.05" fill="url(#hmBand)" opacity="0.29"/>
<rect x="481.16" y="137.90" width="8.49" height="1.05" fill="url(#hmBand)" opacity="0.28"/>
<rect x="481.16" y="138.90" width="8.47" height="1.05" fill="url(#hmBand)" opacity="0.25"/>
<rect x="481.17" y="139.90" width="8.46" height="1.05" fill="url(#hmBand)" opacity="0.26"/>
<rect x="481.18" y="140.90" width="8.45" height="1.05" fill="url(#hmBand)" opacity="0.25"/>
<rect x="481.18" y="141.90" width="8.43" height="1.05" fill="url(#hmBand)" opacity="0.29"/>
<rect x="481.19" y="142.90" width="8.42" height="1.05" fill="url(#hmBand)" opacity="0.23"/>
<rect x="481.20" y="143.90" width="8.41" height="1.05" fill="url(#hmBand)" opacity="0.24"/>
<rect x="481.20" y="144.90" width="8.40" height="1.05" fill="url(#hmBand)" opacity="0.26"/>
<rect x="481.21" y="145.90" width="8.39" height="1.05" fill="url(#hmBand)" opacity="0.22"/>
<rect x="481.21" y="146.90" width="8.37" height="1.05" fill="url(#hmBand)" opacity="0.23"/>
<rect x="481.22" y="147.90" width="8.36" height="1.05" fill="url(#hmBand)" opacity="0.20"/>
<rect x="481.22" y="148.90" width="8.35" height="1.05" fill="url(#hmBand)" opacity="0.17"/>
<rect x="481.23" y="149.90" width="8.34" height="1.05" fill="url(#hmBand)" opacity="0.11"/>
<rect x="481.23" y="150.90" width="8.33" height="1.05" fill="url(#hmBand)" opacity="0.08"/>
<rect x="481.24" y="151.90" width="8.32" height="1.05" fill="url(#hmBand)" opacity="0.06"/>
<rect x="469.10" y="38.90" width="31.00" height="113.20" fill="none" stroke="#3a3a3a" stroke-width="0.9"/>
<line x1="469.10" y1="38.90" x2="500.10" y2="38.90" stroke="#222" stroke-width="1.2"/>
<text x="485.90" y="36.80" font-size="8.6" fill="#111" stroke="#111" stroke-width="0.22" text-anchor="middle">S</text>
<rect x="502.30" y="38.90" width="31.00" height="113.20" fill="#f5f5f5"/>
<rect x="504.0" y="146.2" width="8.6" height="0.8" fill="#666" opacity="0.03"/>
<rect x="518.1" y="132.8" width="7.2" height="0.8" fill="#666" opacity="0.05"/>
<rect x="516.6" y="107.3" width="6.2" height="0.8" fill="#666" opacity="0.04"/>
<rect x="521.1" y="87.8" width="4.8" height="0.8" fill="#666" opacity="0.08"/>
<rect x="513.6" y="145.5" width="5.8" height="0.8" fill="#666" opacity="0.04"/>
<rect x="515.7" y="43.9" width="2.2" height="0.8" fill="#666" opacity="0.13"/>
<rect x="514.2" y="82.2" width="8.2" height="0.8" fill="#666" opacity="0.06"/>
<rect x="511.8" y="66.2" width="2.2" height="0.8" fill="#666" opacity="0.08"/>
<rect x="517.0" y="96.6" width="9.0" height="0.8" fill="#666" opacity="0.04"/>
<rect x="519.3" y="139.3" width="7.6" height="0.8" fill="#666" opacity="0.08"/>
<rect x="510.8" y="124.7" width="7.5" height="0.8" fill="#666" opacity="0.08"/>
<rect x="523.1" y="146.9" width="3.1" height="0.8" fill="#666" opacity="0.07"/>
<rect x="514.7" y="91.2" width="5.7" height="0.8" fill="#666" opacity="0.08"/>
<rect x="510.6" y="95.6" width="7.8" height="0.8" fill="#666" opacity="0.07"/>
<rect x="516.9" y="139.9" width="5.2" height="0.8" fill="#666" opacity="0.08"/>
<rect x="508.3" y="120.4" width="5.4" height="0.8" fill="#666" opacity="0.05"/>
<rect x="527.2" y="117.7" width="3.2" height="0.8" fill="#666" opacity="0.04"/>
<rect x="527.5" y="141.2" width="4.2" height="0.8" fill="#666" opacity="0.07"/>
<rect x="518.7" y="96.0" width="5.6" height="0.8" fill="#666" opacity="0.06"/>
<rect x="516.4" y="74.6" width="3.5" height="0.8" fill="#666" opacity="0.10"/>
<rect x="525.3" y="109.2" width="2.5" height="0.8" fill="#666" opacity="0.07"/>
<rect x="522.7" y="140.8" width="3.3" height="0.8" fill="#666" opacity="0.03"/>
<rect x="508.7" y="112.5" width="3.9" height="0.8" fill="#666" opacity="0.07"/>
<rect x="523.6" y="51.7" width="5.7" height="0.8" fill="#666" opacity="0.11"/>
<rect x="512.0" y="63.3" width="8.2" height="0.8" fill="#666" opacity="0.11"/>
<rect x="507.2" y="43.4" width="4.5" height="0.8" fill="#666" opacity="0.15"/>
<rect x="503.3" y="49.1" width="8.7" height="0.8" fill="#666" opacity="0.14"/>
<rect x="524.1" y="42.3" width="3.8" height="0.8" fill="#666" opacity="0.13"/>
<rect x="511.7" y="60.3" width="6.8" height="0.8" fill="#666" opacity="0.08"/>
<rect x="503.8" y="150.0" width="3.1" height="0.8" fill="#666" opacity="0.05"/>
<rect x="505.4" y="108.3" width="7.2" height="0.8" fill="#666" opacity="0.05"/>
<rect x="521.8" y="43.3" width="5.1" height="0.8" fill="#666" opacity="0.16"/>
<rect x="522.4" y="140.2" width="7.3" height="0.8" fill="#666" opacity="0.07"/>
<rect x="520.3" y="92.5" width="3.6" height="0.8" fill="#666" opacity="0.05"/>
<rect x="524.6" y="51.2" width="5.1" height="0.8" fill="#666" opacity="0.11"/>
<rect x="515.8" y="104.9" width="4.8" height="0.8" fill="#666" opacity="0.04"/>
<rect x="518.7" y="146.6" width="3.8" height="0.8" fill="#666" opacity="0.05"/>
<rect x="506.2" y="41.9" width="5.9" height="0.8" fill="#666" opacity="0.13"/>
<rect x="505.4" y="43.6" width="3.1" height="0.8" fill="#666" opacity="0.15"/>
<rect x="522.5" y="96.4" width="8.9" height="0.8" fill="#666" opacity="0.08"/>
<rect x="509.0" y="65.8" width="5.1" height="0.8" fill="#666" opacity="0.10"/>
<rect x="518.7" y="109.3" width="7.6" height="0.8" fill="#666" opacity="0.04"/>
<rect x="502.9" y="86.9" width="5.7" height="0.8" fill="#666" opacity="0.03"/>
<rect x="522.5" y="85.4" width="2.8" height="0.8" fill="#666" opacity="0.04"/>
<rect x="509.0" y="51.0" width="3.3" height="0.8" fill="#666" opacity="0.11"/>
<rect x="510.5" y="97.8" width="5.3" height="0.8" fill="#666" opacity="0.06"/>
<rect x="523.7" y="63.5" width="8.3" height="0.8" fill="#666" opacity="0.11"/>
<rect x="517.0" y="88.1" width="5.6" height="0.8" fill="#666" opacity="0.03"/>
<rect x="507.2" y="86.4" width="5.7" height="0.8" fill="#666" opacity="0.03"/>
<rect x="516.0" y="129.2" width="4.6" height="0.8" fill="#666" opacity="0.08"/>
<rect x="528.3" y="107.8" width="4.0" height="0.8" fill="#666" opacity="0.05"/>
<rect x="505.1" y="42.0" width="6.8" height="0.8" fill="#666" opacity="0.14"/>
<rect x="503.2" y="133.4" width="6.7" height="0.8" fill="#666" opacity="0.05"/>
<rect x="507.9" y="85.6" width="5.4" height="0.8" fill="#666" opacity="0.06"/>
<rect x="512.5" y="48.1" width="4.0" height="0.8" fill="#666" opacity="0.16"/>
<rect x="507.2" y="48.4" width="7.3" height="0.8" fill="#666" opacity="0.14"/>
<rect x="521.5" y="83.5" width="5.2" height="0.8" fill="#666" opacity="0.05"/>
<rect x="505.0" y="53.4" width="2.9" height="0.8" fill="#666" opacity="0.14"/>
<rect x="517.5" y="111.2" width="8.7" height="0.8" fill="#666" opacity="0.03"/>
<rect x="519.1" y="113.2" width="7.4" height="0.8" fill="#666" opacity="0.05"/>
<rect x="522.6" y="79.7" width="5.2" height="0.8" fill="#666" opacity="0.05"/>
<rect x="526.3" y="98.4" width="5.3" height="0.8" fill="#666" opacity="0.07"/>
<rect x="509.4" y="143.5" width="7.9" height="0.8" fill="#666" opacity="0.04"/>
<rect x="514.0" y="94.3" width="3.8" height="0.8" fill="#666" opacity="0.06"/>
<rect x="522.3" y="142.0" width="6.1" height="0.8" fill="#666" opacity="0.03"/>
<rect x="505.9" y="79.5" width="9.0" height="0.8" fill="#666" opacity="0.06"/>
<rect x="527.3" y="47.3" width="2.6" height="0.8" fill="#666" opacity="0.16"/>
<rect x="510.8" y="112.0" width="2.9" height="0.8" fill="#666" opacity="0.04"/>
<rect x="513.0" y="114.5" width="6.8" height="0.8" fill="#666" opacity="0.06"/>
<rect x="525.8" y="52.4" width="5.8" height="0.8" fill="#666" opacity="0.14"/>
<rect x="520.2" y="50.6" width="5.6" height="0.8" fill="#666" opacity="0.12"/>
<rect x="520.2" y="139.4" width="5.2" height="0.8" fill="#666" opacity="0.05"/>
<rect x="515.7" y="150.6" width="7.5" height="0.8" fill="#666" opacity="0.04"/>
<rect x="519.3" y="89.0" width="2.2" height="0.8" fill="#666" opacity="0.07"/>
<rect x="514.6" y="60.0" width="5.6" height="0.8" fill="#666" opacity="0.10"/>
<rect x="517.9" y="118.9" width="8.6" height="0.8" fill="#666" opacity="0.05"/>
<rect x="522.0" y="146.9" width="4.3" height="0.8" fill="#666" opacity="0.06"/>
<rect x="507.8" y="124.6" width="8.0" height="0.8" fill="#666" opacity="0.06"/>
<rect x="525.6" y="84.7" width="6.7" height="0.8" fill="#666" opacity="0.06"/>
<rect x="520.4" y="41.2" width="5.3" height="0.8" fill="#666" opacity="0.17"/>
<rect x="503.2" y="112.2" width="7.7" height="0.8" fill="#666" opacity="0.08"/>
<rect x="524.3" y="121.0" width="6.2" height="0.8" fill="#666" opacity="0.07"/>
<rect x="519.9" y="51.1" width="7.7" height="0.8" fill="#666" opacity="0.11"/>
<rect x="507.4" y="122.7" width="6.1" height="0.8" fill="#666" opacity="0.07"/>
<rect x="513.1" y="55.2" width="6.3" height="0.8" fill="#666" opacity="0.11"/>
<rect x="507.9" y="102.8" width="5.3" height="0.8" fill="#666" opacity="0.08"/>
<rect x="516.4" y="48.0" width="2.0" height="0.8" fill="#666" opacity="0.15"/>
<rect x="513.8" y="113.1" width="7.3" height="0.8" fill="#666" opacity="0.06"/>
<rect x="515.9" y="77.1" width="3.9" height="0.8" fill="#666" opacity="0.05"/>
<rect x="506.7" y="48.8" width="7.3" height="0.8" fill="#666" opacity="0.15"/>
<rect x="502.30" y="38.90" width="31.00" height="24.90" fill="url(#hmTop)" opacity="1.00"/>
<rect x="499.10" y="38.90" width="39.00" height="1.05" fill="url(#hmBand)" opacity="1.00"/>
<rect x="500.38" y="39.90" width="36.44" height="1.05" fill="url(#hmBand)" opacity="0.88"/>
<rect x="501.54" y="40.90" width="34.13" height="1.05" fill="url(#hmBand)" opacity="0.94"/>
<rect x="502.58" y="41.90" width="32.04" height="1.05" fill="url(#hmBand)" opacity="0.96"/>
<rect x="503.53" y="42.90" width="30.14" height="1.05" fill="url(#hmBand)" opacity="0.97"/>
<rect x="504.38" y="43.90" width="28.43" height="1.05" fill="url(#hmBand)" opacity="0.76"/>
<rect x="505.16" y="44.90" width="26.88" height="1.05" fill="url(#hmBand)" opacity="0.76"/>
<rect x="505.86" y="45.90" width="25.48" height="1.05" fill="url(#hmBand)" opacity="0.81"/>
<rect x="506.50" y="46.90" width="24.21" height="1.05" fill="url(#hmBand)" opacity="0.81"/>
<rect x="507.08" y="47.90" width="23.05" height="1.05" fill="url(#hmBand)" opacity="0.76"/>
<rect x="507.60" y="48.90" width="22.00" height="1.05" fill="url(#hmBand)" opacity="0.68"/>
<rect x="508.08" y="49.90" width="21.04" height="1.05" fill="url(#hmBand)" opacity="0.80"/>
<rect x="508.52" y="50.90" width="20.17" height="1.05" fill="url(#hmBand)" opacity="0.89"/>
<rect x="508.91" y="51.90" width="19.37" height="1.05" fill="url(#hmBand)" opacity="0.74"/>
<rect x="509.28" y="52.90" width="18.65" height="1.05" fill="url(#hmBand)" opacity="0.77"/>
<rect x="509.61" y="53.90" width="17.98" height="1.05" fill="url(#hmBand)" opacity="0.72"/>
<rect x="509.91" y="54.90" width="17.38" height="1.05" fill="url(#hmBand)" opacity="0.73"/>
<rect x="510.19" y="55.90" width="16.82" height="1.05" fill="url(#hmBand)" opacity="0.81"/>
<rect x="510.44" y="56.90" width="16.31" height="1.05" fill="url(#hmBand)" opacity="0.68"/>
<rect x="510.68" y="57.90" width="15.84" height="1.05" fill="url(#hmBand)" opacity="0.74"/>
<rect x="510.89" y="58.90" width="15.41" height="1.05" fill="url(#hmBand)" opacity="0.70"/>
<rect x="511.09" y="59.90" width="15.01" height="1.05" fill="url(#hmBand)" opacity="0.70"/>
<rect x="511.28" y="60.90" width="14.65" height="1.05" fill="url(#hmBand)" opacity="0.77"/>
<rect x="511.45" y="61.90" width="14.31" height="1.05" fill="url(#hmBand)" opacity="0.59"/>
<rect x="511.60" y="62.90" width="13.99" height="1.05" fill="url(#hmBand)" opacity="0.73"/>
<rect x="511.75" y="63.90" width="13.70" height="1.05" fill="url(#hmBand)" opacity="0.62"/>
<rect x="511.88" y="64.90" width="13.43" height="1.05" fill="url(#hmBand)" opacity="0.68"/>
<rect x="512.01" y="65.90" width="13.18" height="1.05" fill="url(#hmBand)" opacity="0.70"/>
<rect x="512.13" y="66.90" width="12.95" height="1.05" fill="url(#hmBand)" opacity="0.66"/>
<rect x="512.24" y="67.90" width="12.73" height="1.05" fill="url(#hmBand)" opacity="0.60"/>
<rect x="512.34" y="68.90" width="12.52" height="1.05" fill="url(#hmBand)" opacity="0.68"/>
<rect x="512.44" y="69.90" width="12.33" height="1.05" fill="url(#hmBand)" opacity="0.53"/>
<rect x="512.52" y="70.90" width="12.15" height="1.05" fill="url(#hmBand)" opacity="0.62"/>
<rect x="512.61" y="71.90" width="11.98" height="1.05" fill="url(#hmBand)" opacity="0.57"/>
<rect x="512.69" y="72.90" width="11.82" height="1.05" fill="url(#hmBand)" opacity="0.59"/>
<rect x="512.76" y="73.90" width="11.67" height="1.05" fill="url(#hmBand)" opacity="0.64"/>
<rect x="512.83" y="74.90" width="11.53" height="1.05" fill="url(#hmBand)" opacity="0.62"/>
<rect x="512.90" y="75.90" width="11.40" height="1.05" fill="url(#hmBand)" opacity="0.58"/>
<rect x="512.96" y="76.90" width="11.27" height="1.05" fill="url(#hmBand)" opacity="0.52"/>
<rect x="513.02" y="77.90" width="11.15" height="1.05" fill="url(#hmBand)" opacity="0.50"/>
<rect x="513.08" y="78.90" width="11.04" height="1.05" fill="url(#hmBand)" opacity="0.53"/>
<rect x="513.14" y="79.90" width="10.93" height="1.05" fill="url(#hmBand)" opacity="0.49"/>
<rect x="513.19" y="80.90" width="10.83" height="1.05" fill="url(#hmBand)" opacity="0.49"/>
<rect x="513.24" y="81.90" width="10.73" height="1.05" fill="url(#hmBand)" opacity="0.59"/>
<rect x="513.28" y="82.90" width="10.63" height="1.05" fill="url(#hmBand)" opacity="0.45"/>
<rect x="513.33" y="83.90" width="10.54" height="1.05" fill="url(#hmBand)" opacity="0.56"/>
<rect x="513.37" y="84.90" width="10.46" height="1.05" fill="url(#hmBand)" opacity="0.48"/>
<rect x="513.41" y="85.90" width="10.38" height="1.05" fill="url(#hmBand)" opacity="0.48"/>
<rect x="513.45" y="86.90" width="10.30" height="1.05" fill="url(#hmBand)" opacity="0.46"/>
<rect x="513.49" y="87.90" width="10.22" height="1.05" fill="url(#hmBand)" opacity="0.42"/>
<rect x="513.52" y="88.90" width="10.15" height="1.05" fill="url(#hmBand)" opacity="0.47"/>
<rect x="513.56" y="89.90" width="10.08" height="1.05" fill="url(#hmBand)" opacity="0.43"/>
<rect x="513.59" y="90.90" width="10.02" height="1.05" fill="url(#hmBand)" opacity="0.46"/>
<rect x="513.62" y="91.90" width="9.95" height="1.05" fill="url(#hmBand)" opacity="0.43"/>
<rect x="513.65" y="92.90" width="9.89" height="1.05" fill="url(#hmBand)" opacity="0.51"/>
<rect x="513.68" y="93.90" width="9.83" height="1.05" fill="url(#hmBand)" opacity="0.51"/>
<rect x="513.71" y="94.90" width="9.78" height="1.05" fill="url(#hmBand)" opacity="0.44"/>
<rect x="513.74" y="95.90" width="9.72" height="1.05" fill="url(#hmBand)" opacity="0.46"/>
<rect x="513.77" y="96.90" width="9.67" height="1.05" fill="url(#hmBand)" opacity="0.49"/>
<rect x="513.79" y="97.90" width="9.62" height="1.05" fill="url(#hmBand)" opacity="0.41"/>
<rect x="513.82" y="98.90" width="9.57" height="1.05" fill="url(#hmBand)" opacity="0.37"/>
<rect x="513.84" y="99.90" width="9.52" height="1.05" fill="url(#hmBand)" opacity="0.39"/>
<rect x="513.86" y="100.90" width="9.47" height="1.05" fill="url(#hmBand)" opacity="0.38"/>
<rect x="513.89" y="101.90" width="9.43" height="1.05" fill="url(#hmBand)" opacity="0.43"/>
<rect x="513.91" y="102.90" width="9.39" height="1.05" fill="url(#hmBand)" opacity="0.39"/>
<rect x="513.93" y="103.90" width="9.34" height="1.05" fill="url(#hmBand)" opacity="0.38"/>
<rect x="513.95" y="104.90" width="9.30" height="1.05" fill="url(#hmBand)" opacity="0.43"/>
<rect x="513.97" y="105.90" width="9.26" height="1.05" fill="url(#hmBand)" opacity="0.36"/>
<rect x="513.99" y="106.90" width="9.23" height="1.05" fill="url(#hmBand)" opacity="0.42"/>
<rect x="514.00" y="107.90" width="9.19" height="1.05" fill="url(#hmBand)" opacity="0.40"/>
<rect x="514.02" y="108.90" width="9.16" height="1.05" fill="url(#hmBand)" opacity="0.37"/>
<rect x="514.04" y="109.90" width="9.12" height="1.05" fill="url(#hmBand)" opacity="0.41"/>
<rect x="514.06" y="110.90" width="9.09" height="1.05" fill="url(#hmBand)" opacity="0.35"/>
<rect x="514.07" y="111.90" width="9.06" height="1.05" fill="url(#hmBand)" opacity="0.41"/>
<rect x="514.09" y="112.90" width="9.02" height="1.05" fill="url(#hmBand)" opacity="0.41"/>
<rect x="514.10" y="113.90" width="8.99" height="1.05" fill="url(#hmBand)" opacity="0.36"/>
<rect x="514.12" y="114.90" width="8.97" height="1.05" fill="url(#hmBand)" opacity="0.38"/>
<rect x="514.13" y="115.90" width="8.94" height="1.05" fill="url(#hmBand)" opacity="0.40"/>
<rect x="514.15" y="116.90" width="8.91" height="1.05" fill="url(#hmBand)" opacity="0.37"/>
<rect x="514.16" y="117.90" width="8.88" height="1.05" fill="url(#hmBand)" opacity="0.37"/>
<rect x="514.17" y="118.90" width="8.86" height="1.05" fill="url(#hmBand)" opacity="0.38"/>
<rect x="514.18" y="119.90" width="8.83" height="1.05" fill="url(#hmBand)" opacity="0.38"/>
<rect x="514.20" y="120.90" width="8.81" height="1.05" fill="url(#hmBand)" opacity="0.36"/>
<rect x="514.21" y="121.90" width="8.78" height="1.05" fill="url(#hmBand)" opacity="0.38"/>
<rect x="514.22" y="122.90" width="8.76" height="1.05" fill="url(#hmBand)" opacity="0.31"/>
<rect x="514.23" y="123.90" width="8.74" height="1.05" fill="url(#hmBand)" opacity="0.34"/>
<rect x="514.24" y="124.90" width="8.72" height="1.05" fill="url(#hmBand)" opacity="0.34"/>
<rect x="514.25" y="125.90" width="8.70" height="1.05" fill="url(#hmBand)" opacity="0.31"/>
<rect x="514.26" y="126.90" width="8.68" height="1.05" fill="url(#hmBand)" opacity="0.30"/>
<rect x="514.27" y="127.90" width="8.66" height="1.05" fill="url(#hmBand)" opacity="0.28"/>
<rect x="514.28" y="128.90" width="8.64" height="1.05" fill="url(#hmBand)" opacity="0.35"/>
<rect x="514.29" y="129.90" width="8.62" height="1.05" fill="url(#hmBand)" opacity="0.29"/>
<rect x="514.30" y="130.90" width="8.60" height="1.05" fill="url(#hmBand)" opacity="0.30"/>
<rect x="514.31" y="131.90" width="8.58" height="1.05" fill="url(#hmBand)" opacity="0.34"/>
<rect x="514.32" y="132.90" width="8.57" height="1.05" fill="url(#hmBand)" opacity="0.27"/>
<rect x="514.33" y="133.90" width="8.55" height="1.05" fill="url(#hmBand)" opacity="0.33"/>
<rect x="514.33" y="134.90" width="8.53" height="1.05" fill="url(#hmBand)" opacity="0.26"/>
<rect x="514.34" y="135.90" width="8.52" height="1.05" fill="url(#hmBand)" opacity="0.25"/>
<rect x="514.35" y="136.90" width="8.50" height="1.05" fill="url(#hmBand)" opacity="0.27"/>
<rect x="514.36" y="137.90" width="8.49" height="1.05" fill="url(#hmBand)" opacity="0.27"/>
<rect x="514.36" y="138.90" width="8.47" height="1.05" fill="url(#hmBand)" opacity="0.32"/>
<rect x="514.37" y="139.90" width="8.46" height="1.05" fill="url(#hmBand)" opacity="0.31"/>
<rect x="514.38" y="140.90" width="8.45" height="1.05" fill="url(#hmBand)" opacity="0.30"/>
<rect x="514.38" y="141.90" width="8.43" height="1.05" fill="url(#hmBand)" opacity="0.27"/>
<rect x="514.39" y="142.90" width="8.42" height="1.05" fill="url(#hmBand)" opacity="0.27"/>
<rect x="514.40" y="143.90" width="8.41" height="1.05" fill="url(#hmBand)" opacity="0.25"/>
<rect x="514.40" y="144.90" width="8.40" height="1.05" fill="url(#hmBand)" opacity="0.29"/>
<rect x="514.41" y="145.90" width="8.39" height="1.05" fill="url(#hmBand)" opacity="0.25"/>
<rect x="514.41" y="146.90" width="8.37" height="1.05" fill="url(#hmBand)" opacity="0.21"/>
<rect x="514.42" y="147.90" width="8.36" height="1.05" fill="url(#hmBand)" opacity="0.20"/>
<rect x="514.42" y="148.90" width="8.35" height="1.05" fill="url(#hmBand)" opacity="0.14"/>
<rect x="514.43" y="149.90" width="8.34" height="1.05" fill="url(#hmBand)" opacity="0.11"/>
<rect x="514.43" y="150.90" width="8.33" height="1.05" fill="url(#hmBand)" opacity="0.10"/>
<rect x="514.44" y="151.90" width="8.32" height="1.05" fill="url(#hmBand)" opacity="0.05"/>
<rect x="502.30" y="38.90" width="31.00" height="113.20" fill="none" stroke="#3a3a3a" stroke-width="0.9"/>
<line x1="502.30" y1="38.90" x2="533.30" y2="38.90" stroke="#222" stroke-width="1.2"/>
<text x="519.10" y="36.80" font-size="8.6" fill="#111" stroke="#111" stroke-width="0.22" text-anchor="middle">G2</text>
<rect x="540.20" y="38.90" width="31.00" height="113.20" fill="#f5f5f5"/>
<rect x="549.6" y="66.4" width="5.8" height="0.8" fill="#666" opacity="0.10"/>
<rect x="541.1" y="109.5" width="2.5" height="0.8" fill="#666" opacity="0.07"/>
<rect x="566.9" y="68.7" width="3.6" height="0.8" fill="#666" opacity="0.09"/>
<rect x="556.5" y="132.9" width="5.3" height="0.8" fill="#666" opacity="0.04"/>
<rect x="552.2" y="110.5" width="8.1" height="0.8" fill="#666" opacity="0.07"/>
<rect x="561.6" y="114.6" width="2.4" height="0.8" fill="#666" opacity="0.06"/>
<rect x="564.7" y="73.4" width="2.2" height="0.8" fill="#666" opacity="0.08"/>
<rect x="556.3" y="119.8" width="8.2" height="0.8" fill="#666" opacity="0.08"/>
<rect x="550.7" y="83.8" width="7.6" height="0.8" fill="#666" opacity="0.08"/>
<rect x="544.4" y="137.6" width="2.7" height="0.8" fill="#666" opacity="0.04"/>
<rect x="556.3" y="147.3" width="5.1" height="0.8" fill="#666" opacity="0.05"/>
<rect x="549.6" y="96.3" width="4.7" height="0.8" fill="#666" opacity="0.06"/>
<rect x="555.5" y="104.9" width="8.3" height="0.8" fill="#666" opacity="0.08"/>
<rect x="554.8" y="135.1" width="8.9" height="0.8" fill="#666" opacity="0.04"/>
<rect x="559.9" y="135.6" width="8.8" height="0.8" fill="#666" opacity="0.06"/>
<rect x="562.8" y="119.3" width="3.5" height="0.8" fill="#666" opacity="0.06"/>
<rect x="564.2" y="71.6" width="2.4" height="0.8" fill="#666" opacity="0.11"/>
<rect x="549.9" y="49.7" width="7.6" height="0.8" fill="#666" opacity="0.11"/>
<rect x="560.4" y="72.6" width="7.4" height="0.8" fill="#666" opacity="0.06"/>
<rect x="560.6" y="108.2" width="2.3" height="0.8" fill="#666" opacity="0.05"/>
<rect x="551.4" y="137.9" width="8.9" height="0.8" fill="#666" opacity="0.08"/>
<rect x="557.2" y="74.3" width="2.5" height="0.8" fill="#666" opacity="0.05"/>
<rect x="556.0" y="61.8" width="4.9" height="0.8" fill="#666" opacity="0.09"/>
<rect x="547.6" y="44.6" width="8.1" height="0.8" fill="#666" opacity="0.17"/>
<rect x="552.4" y="139.6" width="4.6" height="0.8" fill="#666" opacity="0.06"/>
<rect x="554.0" y="111.5" width="6.2" height="0.8" fill="#666" opacity="0.06"/>
<rect x="551.2" y="144.5" width="5.5" height="0.8" fill="#666" opacity="0.07"/>
<rect x="566.0" y="66.3" width="4.1" height="0.8" fill="#666" opacity="0.10"/>
<rect x="552.3" y="100.9" width="2.1" height="0.8" fill="#666" opacity="0.06"/>
<rect x="555.7" y="42.1" width="6.3" height="0.8" fill="#666" opacity="0.13"/>
<rect x="557.5" y="109.7" width="5.3" height="0.8" fill="#666" opacity="0.05"/>
<rect x="541.2" y="118.5" width="7.2" height="0.8" fill="#666" opacity="0.03"/>
<rect x="546.0" y="115.1" width="8.7" height="0.8" fill="#666" opacity="0.05"/>
<rect x="550.1" y="105.8" width="4.2" height="0.8" fill="#666" opacity="0.05"/>
<rect x="547.9" y="80.9" width="6.2" height="0.8" fill="#666" opacity="0.06"/>
<rect x="556.5" y="125.8" width="2.2" height="0.8" fill="#666" opacity="0.07"/>
<rect x="562.0" y="74.4" width="3.6" height="0.8" fill="#666" opacity="0.06"/>
<rect x="558.1" y="60.7" width="5.0" height="0.8" fill="#666" opacity="0.09"/>
<rect x="562.1" y="75.7" width="4.3" height="0.8" fill="#666" opacity="0.07"/>
<rect x="549.7" y="135.0" width="3.2" height="0.8" fill="#666" opacity="0.06"/>
<rect x="546.3" y="138.3" width="5.2" height="0.8" fill="#666" opacity="0.04"/>
<rect x="562.2" y="98.8" width="3.3" height="0.8" fill="#666" opacity="0.07"/>
<rect x="561.7" y="60.3" width="4.0" height="0.8" fill="#666" opacity="0.11"/>
<rect x="544.0" y="129.6" width="4.4" height="0.8" fill="#666" opacity="0.04"/>
<rect x="549.7" y="128.2" width="3.9" height="0.8" fill="#666" opacity="0.05"/>
<rect x="563.8" y="86.6" width="4.9" height="0.8" fill="#666" opacity="0.04"/>
<rect x="559.5" y="40.4" width="8.6" height="0.8" fill="#666" opacity="0.18"/>
<rect x="560.5" y="88.2" width="8.7" height="0.8" fill="#666" opacity="0.04"/>
<rect x="555.4" y="122.8" width="7.9" height="0.8" fill="#666" opacity="0.06"/>
<rect x="546.5" y="72.0" width="4.4" height="0.8" fill="#666" opacity="0.06"/>
<rect x="561.8" y="105.4" width="4.0" height="0.8" fill="#666" opacity="0.03"/>
<rect x="562.1" y="140.4" width="6.9" height="0.8" fill="#666" opacity="0.07"/>
<rect x="541.0" y="139.9" width="6.0" height="0.8" fill="#666" opacity="0.07"/>
<rect x="557.9" y="59.0" width="4.1" height="0.8" fill="#666" opacity="0.11"/>
<rect x="553.8" y="85.9" width="8.6" height="0.8" fill="#666" opacity="0.05"/>
<rect x="551.2" y="68.0" width="8.0" height="0.8" fill="#666" opacity="0.10"/>
<rect x="554.9" y="79.0" width="3.4" height="0.8" fill="#666" opacity="0.08"/>
<rect x="561.4" y="58.9" width="7.5" height="0.8" fill="#666" opacity="0.13"/>
<rect x="558.3" y="131.5" width="2.1" height="0.8" fill="#666" opacity="0.07"/>
<rect x="547.7" y="45.5" width="3.9" height="0.8" fill="#666" opacity="0.14"/>
<rect x="559.9" y="86.9" width="5.3" height="0.8" fill="#666" opacity="0.03"/>
<rect x="544.1" y="46.0" width="2.9" height="0.8" fill="#666" opacity="0.12"/>
<rect x="542.6" y="148.3" width="8.0" height="0.8" fill="#666" opacity="0.06"/>
<rect x="549.8" y="75.0" width="4.2" height="0.8" fill="#666" opacity="0.08"/>
<rect x="545.6" y="105.1" width="4.5" height="0.8" fill="#666" opacity="0.05"/>
<rect x="558.0" y="53.7" width="5.9" height="0.8" fill="#666" opacity="0.12"/>
<rect x="550.7" y="48.8" width="3.2" height="0.8" fill="#666" opacity="0.14"/>
<rect x="561.0" y="126.9" width="4.7" height="0.8" fill="#666" opacity="0.06"/>
<rect x="553.3" y="87.9" width="4.6" height="0.8" fill="#666" opacity="0.07"/>
<rect x="551.4" y="86.7" width="6.9" height="0.8" fill="#666" opacity="0.04"/>
<rect x="542.4" y="99.5" width="6.9" height="0.8" fill="#666" opacity="0.05"/>
<rect x="561.2" y="87.3" width="8.2" height="0.8" fill="#666" opacity="0.05"/>
<rect x="546.6" y="139.7" width="7.5" height="0.8" fill="#666" opacity="0.05"/>
<rect x="555.5" y="53.6" width="7.7" height="0.8" fill="#666" opacity="0.14"/>
<rect x="557.8" y="128.0" width="6.7" height="0.8" fill="#666" opacity="0.06"/>
<rect x="540.8" y="51.4" width="6.1" height="0.8" fill="#666" opacity="0.11"/>
<rect x="543.2" y="126.0" width="2.3" height="0.8" fill="#666" opacity="0.03"/>
<rect x="541.3" y="137.8" width="3.3" height="0.8" fill="#666" opacity="0.07"/>
<rect x="555.6" y="53.4" width="7.9" height="0.8" fill="#666" opacity="0.14"/>
<rect x="559.8" y="145.8" width="6.1" height="0.8" fill="#666" opacity="0.03"/>
<rect x="558.2" y="125.2" width="5.6" height="0.8" fill="#666" opacity="0.04"/>
<rect x="542.0" y="123.2" width="8.5" height="0.8" fill="#666" opacity="0.05"/>
<rect x="546.1" y="102.6" width="7.8" height="0.8" fill="#666" opacity="0.04"/>
<rect x="558.6" y="67.7" width="6.3" height="0.8" fill="#666" opacity="0.09"/>
<rect x="549.5" y="80.8" width="4.8" height="0.8" fill="#666" opacity="0.06"/>
<rect x="564.5" y="49.2" width="5.5" height="0.8" fill="#666" opacity="0.13"/>
<rect x="559.3" y="123.0" width="3.1" height="0.8" fill="#666" opacity="0.07"/>
<rect x="552.5" y="114.8" width="5.6" height="0.8" fill="#666" opacity="0.06"/>
<rect x="543.3" y="139.7" width="3.0" height="0.8" fill="#666" opacity="0.07"/>
<rect x="551.5" y="141.8" width="5.6" height="0.8" fill="#666" opacity="0.07"/>
<rect x="540.20" y="38.90" width="31.00" height="24.90" fill="url(#hmTop)" opacity="0.85"/>
<rect x="537.00" y="38.90" width="39.00" height="1.05" fill="url(#hmBand)" opacity="0.71"/>
<rect x="538.28" y="39.90" width="36.44" height="1.05" fill="url(#hmBand)" opacity="0.72"/>
<rect x="539.44" y="40.90" width="34.13" height="1.05" fill="url(#hmBand)" opacity="0.69"/>
<rect x="540.48" y="41.90" width="32.04" height="1.05" fill="url(#hmBand)" opacity="0.77"/>
<rect x="541.43" y="42.90" width="30.14" height="1.05" fill="url(#hmBand)" opacity="0.70"/>
<rect x="542.28" y="43.90" width="28.43" height="1.05" fill="url(#hmBand)" opacity="0.67"/>
<rect x="543.06" y="44.90" width="26.88" height="1.05" fill="url(#hmBand)" opacity="0.76"/>
<rect x="543.76" y="45.90" width="25.48" height="1.05" fill="url(#hmBand)" opacity="0.81"/>
<rect x="544.40" y="46.90" width="24.21" height="1.05" fill="url(#hmBand)" opacity="0.66"/>
<rect x="544.98" y="47.90" width="23.05" height="1.05" fill="url(#hmBand)" opacity="0.73"/>
<rect x="545.50" y="48.90" width="22.00" height="1.05" fill="url(#hmBand)" opacity="0.66"/>
<rect x="545.98" y="49.90" width="21.04" height="1.05" fill="url(#hmBand)" opacity="0.74"/>
<rect x="546.42" y="50.90" width="20.17" height="1.05" fill="url(#hmBand)" opacity="0.68"/>
<rect x="546.81" y="51.90" width="19.37" height="1.05" fill="url(#hmBand)" opacity="0.61"/>
<rect x="547.18" y="52.90" width="18.65" height="1.05" fill="url(#hmBand)" opacity="0.59"/>
<rect x="547.51" y="53.90" width="17.98" height="1.05" fill="url(#hmBand)" opacity="0.55"/>
<rect x="547.81" y="54.90" width="17.38" height="1.05" fill="url(#hmBand)" opacity="0.62"/>
<rect x="548.09" y="55.90" width="16.82" height="1.05" fill="url(#hmBand)" opacity="0.60"/>
<rect x="548.34" y="56.90" width="16.31" height="1.05" fill="url(#hmBand)" opacity="0.55"/>
<rect x="548.58" y="57.90" width="15.84" height="1.05" fill="url(#hmBand)" opacity="0.58"/>
<rect x="548.79" y="58.90" width="15.41" height="1.05" fill="url(#hmBand)" opacity="0.56"/>
<rect x="548.99" y="59.90" width="15.01" height="1.05" fill="url(#hmBand)" opacity="0.64"/>
<rect x="549.18" y="60.90" width="14.65" height="1.05" fill="url(#hmBand)" opacity="0.52"/>
<rect x="549.35" y="61.90" width="14.31" height="1.05" fill="url(#hmBand)" opacity="0.66"/>
<rect x="549.50" y="62.90" width="13.99" height="1.05" fill="url(#hmBand)" opacity="0.56"/>
<rect x="549.65" y="63.90" width="13.70" height="1.05" fill="url(#hmBand)" opacity="0.57"/>
<rect x="549.78" y="64.90" width="13.43" height="1.05" fill="url(#hmBand)" opacity="0.54"/>
<rect x="549.91" y="65.90" width="13.18" height="1.05" fill="url(#hmBand)" opacity="0.60"/>
<rect x="550.03" y="66.90" width="12.95" height="1.05" fill="url(#hmBand)" opacity="0.59"/>
<rect x="550.14" y="67.90" width="12.73" height="1.05" fill="url(#hmBand)" opacity="0.54"/>
<rect x="550.24" y="68.90" width="12.52" height="1.05" fill="url(#hmBand)" opacity="0.52"/>
<rect x="550.34" y="69.90" width="12.33" height="1.05" fill="url(#hmBand)" opacity="0.55"/>
<rect x="550.42" y="70.90" width="12.15" height="1.05" fill="url(#hmBand)" opacity="0.56"/>
<rect x="550.51" y="71.90" width="11.98" height="1.05" fill="url(#hmBand)" opacity="0.49"/>
<rect x="550.59" y="72.90" width="11.82" height="1.05" fill="url(#hmBand)" opacity="0.53"/>
<rect x="550.66" y="73.90" width="11.67" height="1.05" fill="url(#hmBand)" opacity="0.56"/>
<rect x="550.73" y="74.90" width="11.53" height="1.05" fill="url(#hmBand)" opacity="0.48"/>
<rect x="550.80" y="75.90" width="11.40" height="1.05" fill="url(#hmBand)" opacity="0.44"/>
<rect x="550.86" y="76.90" width="11.27" height="1.05" fill="url(#hmBand)" opacity="0.43"/>
<rect x="550.92" y="77.90" width="11.15" height="1.05" fill="url(#hmBand)" opacity="0.50"/>
<rect x="550.98" y="78.90" width="11.04" height="1.05" fill="url(#hmBand)" opacity="0.48"/>
<rect x="551.04" y="79.90" width="10.93" height="1.05" fill="url(#hmBand)" opacity="0.52"/>
<rect x="551.09" y="80.90" width="10.83" height="1.05" fill="url(#hmBand)" opacity="0.50"/>
<rect x="551.14" y="81.90" width="10.73" height="1.05" fill="url(#hmBand)" opacity="0.41"/>
<rect x="551.18" y="82.90" width="10.63" height="1.05" fill="url(#hmBand)" opacity="0.40"/>
<rect x="551.23" y="83.90" width="10.54" height="1.05" fill="url(#hmBand)" opacity="0.40"/>
<rect x="551.27" y="84.90" width="10.46" height="1.05" fill="url(#hmBand)" opacity="0.39"/>
<rect x="551.31" y="85.90" width="10.38" height="1.05" fill="url(#hmBand)" opacity="0.45"/>
<rect x="551.35" y="86.90" width="10.30" height="1.05" fill="url(#hmBand)" opacity="0.46"/>
<rect x="551.39" y="87.90" width="10.22" height="1.05" fill="url(#hmBand)" opacity="0.46"/>
<rect x="551.42" y="88.90" width="10.15" height="1.05" fill="url(#hmBand)" opacity="0.38"/>
<rect x="551.46" y="89.90" width="10.08" height="1.05" fill="url(#hmBand)" opacity="0.45"/>
<rect x="551.49" y="90.90" width="10.02" height="1.05" fill="url(#hmBand)" opacity="0.37"/>
<rect x="551.52" y="91.90" width="9.95" height="1.05" fill="url(#hmBand)" opacity="0.38"/>
<rect x="551.55" y="92.90" width="9.89" height="1.05" fill="url(#hmBand)" opacity="0.41"/>
<rect x="551.58" y="93.90" width="9.83" height="1.05" fill="url(#hmBand)" opacity="0.34"/>
<rect x="551.61" y="94.90" width="9.78" height="1.05" fill="url(#hmBand)" opacity="0.33"/>
<rect x="551.64" y="95.90" width="9.72" height="1.05" fill="url(#hmBand)" opacity="0.41"/>
<rect x="551.67" y="96.90" width="9.67" height="1.05" fill="url(#hmBand)" opacity="0.35"/>
<rect x="551.69" y="97.90" width="9.62" height="1.05" fill="url(#hmBand)" opacity="0.35"/>
<rect x="551.72" y="98.90" width="9.57" height="1.05" fill="url(#hmBand)" opacity="0.37"/>
<rect x="551.74" y="99.90" width="9.52" height="1.05" fill="url(#hmBand)" opacity="0.38"/>
<rect x="551.76" y="100.90" width="9.47" height="1.05" fill="url(#hmBand)" opacity="0.30"/>
<rect x="551.79" y="101.90" width="9.43" height="1.05" fill="url(#hmBand)" opacity="0.33"/>
<rect x="551.81" y="102.90" width="9.39" height="1.05" fill="url(#hmBand)" opacity="0.34"/>
<rect x="551.83" y="103.90" width="9.34" height="1.05" fill="url(#hmBand)" opacity="0.34"/>
<rect x="551.85" y="104.90" width="9.30" height="1.05" fill="url(#hmBand)" opacity="0.31"/>
<rect x="551.87" y="105.90" width="9.26" height="1.05" fill="url(#hmBand)" opacity="0.34"/>
<rect x="551.89" y="106.90" width="9.23" height="1.05" fill="url(#hmBand)" opacity="0.38"/>
<rect x="551.90" y="107.90" width="9.19" height="1.05" fill="url(#hmBand)" opacity="0.32"/>
<rect x="551.92" y="108.90" width="9.16" height="1.05" fill="url(#hmBand)" opacity="0.33"/>
<rect x="551.94" y="109.90" width="9.12" height="1.05" fill="url(#hmBand)" opacity="0.28"/>
<rect x="551.96" y="110.90" width="9.09" height="1.05" fill="url(#hmBand)" opacity="0.29"/>
<rect x="551.97" y="111.90" width="9.06" height="1.05" fill="url(#hmBand)" opacity="0.33"/>
<rect x="551.99" y="112.90" width="9.02" height="1.05" fill="url(#hmBand)" opacity="0.27"/>
<rect x="552.00" y="113.90" width="8.99" height="1.05" fill="url(#hmBand)" opacity="0.34"/>
<rect x="552.02" y="114.90" width="8.97" height="1.05" fill="url(#hmBand)" opacity="0.34"/>
<rect x="552.03" y="115.90" width="8.94" height="1.05" fill="url(#hmBand)" opacity="0.26"/>
<rect x="552.05" y="116.90" width="8.91" height="1.05" fill="url(#hmBand)" opacity="0.34"/>
<rect x="552.06" y="117.90" width="8.88" height="1.05" fill="url(#hmBand)" opacity="0.28"/>
<rect x="552.07" y="118.90" width="8.86" height="1.05" fill="url(#hmBand)" opacity="0.31"/>
<rect x="552.08" y="119.90" width="8.83" height="1.05" fill="url(#hmBand)" opacity="0.31"/>
<rect x="552.10" y="120.90" width="8.81" height="1.05" fill="url(#hmBand)" opacity="0.27"/>
<rect x="552.11" y="121.90" width="8.78" height="1.05" fill="url(#hmBand)" opacity="0.30"/>
<rect x="552.12" y="122.90" width="8.76" height="1.05" fill="url(#hmBand)" opacity="0.29"/>
<rect x="552.13" y="123.90" width="8.74" height="1.05" fill="url(#hmBand)" opacity="0.30"/>
<rect x="552.14" y="124.90" width="8.72" height="1.05" fill="url(#hmBand)" opacity="0.25"/>
<rect x="552.15" y="125.90" width="8.70" height="1.05" fill="url(#hmBand)" opacity="0.29"/>
<rect x="552.16" y="126.90" width="8.68" height="1.05" fill="url(#hmBand)" opacity="0.30"/>
<rect x="552.17" y="127.90" width="8.66" height="1.05" fill="url(#hmBand)" opacity="0.28"/>
<rect x="552.18" y="128.90" width="8.64" height="1.05" fill="url(#hmBand)" opacity="0.27"/>
<rect x="552.19" y="129.90" width="8.62" height="1.05" fill="url(#hmBand)" opacity="0.23"/>
<rect x="552.20" y="130.90" width="8.60" height="1.05" fill="url(#hmBand)" opacity="0.26"/>
<rect x="552.21" y="131.90" width="8.58" height="1.05" fill="url(#hmBand)" opacity="0.24"/>
<rect x="552.22" y="132.90" width="8.57" height="1.05" fill="url(#hmBand)" opacity="0.27"/>
<rect x="552.23" y="133.90" width="8.55" height="1.05" fill="url(#hmBand)" opacity="0.26"/>
<rect x="552.23" y="134.90" width="8.53" height="1.05" fill="url(#hmBand)" opacity="0.25"/>
<rect x="552.24" y="135.90" width="8.52" height="1.05" fill="url(#hmBand)" opacity="0.22"/>
<rect x="552.25" y="136.90" width="8.50" height="1.05" fill="url(#hmBand)" opacity="0.25"/>
<rect x="552.26" y="137.90" width="8.49" height="1.05" fill="url(#hmBand)" opacity="0.25"/>
<rect x="552.26" y="138.90" width="8.47" height="1.05" fill="url(#hmBand)" opacity="0.22"/>
<rect x="552.27" y="139.90" width="8.46" height="1.05" fill="url(#hmBand)" opacity="0.26"/>
<rect x="552.28" y="140.90" width="8.45" height="1.05" fill="url(#hmBand)" opacity="0.25"/>
<rect x="552.28" y="141.90" width="8.43" height="1.05" fill="url(#hmBand)" opacity="0.21"/>
<rect x="552.29" y="142.90" width="8.42" height="1.05" fill="url(#hmBand)" opacity="0.26"/>
<rect x="552.30" y="143.90" width="8.41" height="1.05" fill="url(#hmBand)" opacity="0.20"/>
<rect x="552.30" y="144.90" width="8.40" height="1.05" fill="url(#hmBand)" opacity="0.21"/>
<rect x="552.31" y="145.90" width="8.39" height="1.05" fill="url(#hmBand)" opacity="0.23"/>
<rect x="552.31" y="146.90" width="8.37" height="1.05" fill="url(#hmBand)" opacity="0.20"/>
<rect x="552.32" y="147.90" width="8.36" height="1.05" fill="url(#hmBand)" opacity="0.16"/>
<rect x="552.32" y="148.90" width="8.35" height="1.05" fill="url(#hmBand)" opacity="0.14"/>
<rect x="552.33" y="149.90" width="8.34" height="1.05" fill="url(#hmBand)" opacity="0.10"/>
<rect x="552.33" y="150.90" width="8.33" height="1.05" fill="url(#hmBand)" opacity="0.07"/>
<rect x="552.34" y="151.90" width="8.32" height="1.05" fill="url(#hmBand)" opacity="0.04"/>
<rect x="540.20" y="38.90" width="31.00" height="113.20" fill="none" stroke="#3a3a3a" stroke-width="0.9"/>
<line x1="540.20" y1="38.90" x2="571.20" y2="38.90" stroke="#222" stroke-width="1.2"/>
<text x="557.00" y="36.80" font-size="8.6" fill="#111" stroke="#111" stroke-width="0.22" text-anchor="middle">G1</text>
<rect x="573.40" y="38.90" width="31.00" height="113.20" fill="#f5f5f5"/>
<rect x="584.7" y="66.1" width="2.7" height="0.8" fill="#666" opacity="0.08"/>
<rect x="597.0" y="47.3" width="4.8" height="0.8" fill="#666" opacity="0.15"/>
<rect x="588.1" y="125.0" width="3.6" height="0.8" fill="#666" opacity="0.04"/>
<rect x="579.7" y="59.1" width="2.7" height="0.8" fill="#666" opacity="0.13"/>
<rect x="591.8" y="132.1" width="7.6" height="0.8" fill="#666" opacity="0.04"/>
<rect x="591.2" y="74.4" width="6.4" height="0.8" fill="#666" opacity="0.09"/>
<rect x="590.5" y="137.8" width="2.6" height="0.8" fill="#666" opacity="0.06"/>
<rect x="586.6" y="96.2" width="3.2" height="0.8" fill="#666" opacity="0.03"/>
<rect x="585.9" y="143.8" width="8.1" height="0.8" fill="#666" opacity="0.05"/>
<rect x="595.1" y="141.0" width="6.0" height="0.8" fill="#666" opacity="0.07"/>
<rect x="588.9" y="96.4" width="4.9" height="0.8" fill="#666" opacity="0.05"/>
<rect x="594.9" y="57.8" width="4.1" height="0.8" fill="#666" opacity="0.09"/>
<rect x="580.5" y="45.1" width="6.4" height="0.8" fill="#666" opacity="0.14"/>
<rect x="599.4" y="92.3" width="4.4" height="0.8" fill="#666" opacity="0.04"/>
<rect x="590.7" y="85.8" width="3.4" height="0.8" fill="#666" opacity="0.04"/>
<rect x="581.2" y="79.5" width="7.2" height="0.8" fill="#666" opacity="0.07"/>
<rect x="575.6" y="140.5" width="2.7" height="0.8" fill="#666" opacity="0.04"/>
<rect x="579.5" y="125.0" width="6.3" height="0.8" fill="#666" opacity="0.05"/>
<rect x="575.0" y="59.6" width="5.2" height="0.8" fill="#666" opacity="0.12"/>
<rect x="589.6" y="139.5" width="8.7" height="0.8" fill="#666" opacity="0.08"/>
<rect x="599.0" y="41.9" width="4.0" height="0.8" fill="#666" opacity="0.16"/>
<rect x="587.2" y="85.5" width="8.6" height="0.8" fill="#666" opacity="0.07"/>
<rect x="585.7" y="72.5" width="3.3" height="0.8" fill="#666" opacity="0.06"/>
<rect x="580.9" y="82.3" width="8.7" height="0.8" fill="#666" opacity="0.03"/>
<rect x="594.9" y="44.9" width="3.2" height="0.8" fill="#666" opacity="0.13"/>
<rect x="600.7" y="72.2" width="2.7" height="0.8" fill="#666" opacity="0.08"/>
<rect x="575.4" y="63.0" width="2.4" height="0.8" fill="#666" opacity="0.09"/>
<rect x="575.0" y="115.2" width="3.0" height="0.8" fill="#666" opacity="0.05"/>
<rect x="576.5" y="67.6" width="9.0" height="0.8" fill="#666" opacity="0.09"/>
<rect x="598.7" y="125.9" width="4.9" height="0.8" fill="#666" opacity="0.05"/>
<rect x="574.8" y="66.8" width="4.9" height="0.8" fill="#666" opacity="0.09"/>
<rect x="592.0" y="67.5" width="8.2" height="0.8" fill="#666" opacity="0.09"/>
<rect x="580.3" y="43.4" width="3.8" height="0.8" fill="#666" opacity="0.13"/>
<rect x="577.0" y="65.6" width="8.1" height="0.8" fill="#666" opacity="0.07"/>
<rect x="597.7" y="143.1" width="6.0" height="0.8" fill="#666" opacity="0.05"/>
<rect x="592.4" y="140.1" width="6.6" height="0.8" fill="#666" opacity="0.07"/>
<rect x="579.7" y="94.9" width="2.7" height="0.8" fill="#666" opacity="0.07"/>
<rect x="581.1" y="140.0" width="8.5" height="0.8" fill="#666" opacity="0.06"/>
<rect x="593.1" y="128.8" width="6.5" height="0.8" fill="#666" opacity="0.06"/>
<rect x="580.1" y="112.7" width="6.8" height="0.8" fill="#666" opacity="0.08"/>
<rect x="600.6" y="146.2" width="2.5" height="0.8" fill="#666" opacity="0.08"/>
<rect x="598.8" y="114.2" width="2.3" height="0.8" fill="#666" opacity="0.04"/>
<rect x="575.3" y="147.6" width="6.7" height="0.8" fill="#666" opacity="0.04"/>
<rect x="591.8" y="110.5" width="6.0" height="0.8" fill="#666" opacity="0.08"/>
<rect x="599.7" y="64.2" width="2.0" height="0.8" fill="#666" opacity="0.07"/>
<rect x="595.9" y="137.4" width="2.8" height="0.8" fill="#666" opacity="0.07"/>
<rect x="595.1" y="137.5" width="5.9" height="0.8" fill="#666" opacity="0.04"/>
<rect x="596.8" y="114.6" width="4.3" height="0.8" fill="#666" opacity="0.07"/>
<rect x="574.5" y="92.3" width="5.7" height="0.8" fill="#666" opacity="0.03"/>
<rect x="595.2" y="106.0" width="5.4" height="0.8" fill="#666" opacity="0.06"/>
<rect x="593.4" y="55.3" width="4.5" height="0.8" fill="#666" opacity="0.12"/>
<rect x="592.2" y="41.1" width="7.9" height="0.8" fill="#666" opacity="0.13"/>
<rect x="593.8" y="100.3" width="4.7" height="0.8" fill="#666" opacity="0.05"/>
<rect x="597.7" y="65.9" width="5.4" height="0.8" fill="#666" opacity="0.08"/>
<rect x="594.8" y="52.6" width="6.3" height="0.8" fill="#666" opacity="0.13"/>
<rect x="591.0" y="88.2" width="8.0" height="0.8" fill="#666" opacity="0.03"/>
<rect x="582.0" y="137.9" width="3.4" height="0.8" fill="#666" opacity="0.07"/>
<rect x="577.7" y="86.9" width="7.6" height="0.8" fill="#666" opacity="0.07"/>
<rect x="587.2" y="59.5" width="3.0" height="0.8" fill="#666" opacity="0.10"/>
<rect x="589.3" y="100.2" width="8.3" height="0.8" fill="#666" opacity="0.03"/>
<rect x="585.7" y="74.6" width="5.8" height="0.8" fill="#666" opacity="0.09"/>
<rect x="580.6" y="93.7" width="2.5" height="0.8" fill="#666" opacity="0.07"/>
<rect x="596.2" y="79.6" width="7.4" height="0.8" fill="#666" opacity="0.07"/>
<rect x="581.3" y="115.2" width="6.3" height="0.8" fill="#666" opacity="0.08"/>
<rect x="580.5" y="91.8" width="8.4" height="0.8" fill="#666" opacity="0.07"/>
<rect x="584.4" y="127.4" width="6.3" height="0.8" fill="#666" opacity="0.04"/>
<rect x="590.8" y="125.6" width="4.5" height="0.8" fill="#666" opacity="0.04"/>
<rect x="595.7" y="49.1" width="3.0" height="0.8" fill="#666" opacity="0.12"/>
<rect x="588.5" y="140.2" width="4.6" height="0.8" fill="#666" opacity="0.05"/>
<rect x="584.9" y="108.9" width="2.7" height="0.8" fill="#666" opacity="0.08"/>
<rect x="581.6" y="59.9" width="6.6" height="0.8" fill="#666" opacity="0.10"/>
<rect x="600.3" y="42.5" width="2.1" height="0.8" fill="#666" opacity="0.16"/>
<rect x="595.2" y="129.0" width="7.7" height="0.8" fill="#666" opacity="0.04"/>
<rect x="588.0" y="104.9" width="5.5" height="0.8" fill="#666" opacity="0.08"/>
<rect x="576.4" y="124.4" width="8.8" height="0.8" fill="#666" opacity="0.06"/>
<rect x="588.0" y="115.0" width="7.2" height="0.8" fill="#666" opacity="0.07"/>
<rect x="582.6" y="73.6" width="8.5" height="0.8" fill="#666" opacity="0.08"/>
<rect x="581.0" y="139.6" width="6.9" height="0.8" fill="#666" opacity="0.04"/>
<rect x="597.4" y="76.2" width="6.4" height="0.8" fill="#666" opacity="0.09"/>
<rect x="594.5" y="84.4" width="4.8" height="0.8" fill="#666" opacity="0.04"/>
<rect x="579.0" y="85.7" width="2.1" height="0.8" fill="#666" opacity="0.06"/>
<rect x="582.5" y="117.0" width="6.3" height="0.8" fill="#666" opacity="0.08"/>
<rect x="575.7" y="109.2" width="3.1" height="0.8" fill="#666" opacity="0.08"/>
<rect x="586.9" y="149.7" width="8.4" height="0.8" fill="#666" opacity="0.05"/>
<rect x="579.7" y="50.1" width="3.8" height="0.8" fill="#666" opacity="0.15"/>
<rect x="577.3" y="139.2" width="7.4" height="0.8" fill="#666" opacity="0.04"/>
<rect x="577.4" y="73.2" width="8.6" height="0.8" fill="#666" opacity="0.09"/>
<rect x="597.1" y="115.6" width="5.8" height="0.8" fill="#666" opacity="0.04"/>
<rect x="576.5" y="98.2" width="3.1" height="0.8" fill="#666" opacity="0.03"/>
<rect x="575.6" y="75.1" width="2.9" height="0.8" fill="#666" opacity="0.10"/>
<rect x="573.40" y="38.90" width="31.00" height="24.90" fill="url(#hmTop)" opacity="0.90"/>
<rect x="570.20" y="38.90" width="39.00" height="1.05" fill="url(#hmBand)" opacity="0.78"/>
<rect x="571.48" y="39.90" width="36.44" height="1.05" fill="url(#hmBand)" opacity="0.91"/>
<rect x="572.64" y="40.90" width="34.13" height="1.05" fill="url(#hmBand)" opacity="0.85"/>
<rect x="573.68" y="41.90" width="32.04" height="1.05" fill="url(#hmBand)" opacity="0.85"/>
<rect x="574.63" y="42.90" width="30.14" height="1.05" fill="url(#hmBand)" opacity="0.82"/>
<rect x="575.48" y="43.90" width="28.43" height="1.05" fill="url(#hmBand)" opacity="0.88"/>
<rect x="576.26" y="44.90" width="26.88" height="1.05" fill="url(#hmBand)" opacity="0.85"/>
<rect x="576.96" y="45.90" width="25.48" height="1.05" fill="url(#hmBand)" opacity="0.80"/>
<rect x="577.60" y="46.90" width="24.21" height="1.05" fill="url(#hmBand)" opacity="0.75"/>
<rect x="578.18" y="47.90" width="23.05" height="1.05" fill="url(#hmBand)" opacity="0.77"/>
<rect x="578.70" y="48.90" width="22.00" height="1.05" fill="url(#hmBand)" opacity="0.77"/>
<rect x="579.18" y="49.90" width="21.04" height="1.05" fill="url(#hmBand)" opacity="0.72"/>
<rect x="579.62" y="50.90" width="20.17" height="1.05" fill="url(#hmBand)" opacity="0.70"/>
<rect x="580.01" y="51.90" width="19.37" height="1.05" fill="url(#hmBand)" opacity="0.62"/>
<rect x="580.38" y="52.90" width="18.65" height="1.05" fill="url(#hmBand)" opacity="0.75"/>
<rect x="580.71" y="53.90" width="17.98" height="1.05" fill="url(#hmBand)" opacity="0.67"/>
<rect x="581.01" y="54.90" width="17.38" height="1.05" fill="url(#hmBand)" opacity="0.58"/>
<rect x="581.29" y="55.90" width="16.82" height="1.05" fill="url(#hmBand)" opacity="0.59"/>
<rect x="581.54" y="56.90" width="16.31" height="1.05" fill="url(#hmBand)" opacity="0.72"/>
<rect x="581.78" y="57.90" width="15.84" height="1.05" fill="url(#hmBand)" opacity="0.59"/>
<rect x="581.99" y="58.90" width="15.41" height="1.05" fill="url(#hmBand)" opacity="0.61"/>
<rect x="582.19" y="59.90" width="15.01" height="1.05" fill="url(#hmBand)" opacity="0.66"/>
<rect x="582.38" y="60.90" width="14.65" height="1.05" fill="url(#hmBand)" opacity="0.68"/>
<rect x="582.55" y="61.90" width="14.31" height="1.05" fill="url(#hmBand)" opacity="0.57"/>
<rect x="582.70" y="62.90" width="13.99" height="1.05" fill="url(#hmBand)" opacity="0.58"/>
<rect x="582.85" y="63.90" width="13.70" height="1.05" fill="url(#hmBand)" opacity="0.58"/>
<rect x="582.98" y="64.90" width="13.43" height="1.05" fill="url(#hmBand)" opacity="0.50"/>
<rect x="583.11" y="65.90" width="13.18" height="1.05" fill="url(#hmBand)" opacity="0.64"/>
<rect x="583.23" y="66.90" width="12.95" height="1.05" fill="url(#hmBand)" opacity="0.49"/>
<rect x="583.34" y="67.90" width="12.73" height="1.05" fill="url(#hmBand)" opacity="0.64"/>
<rect x="583.44" y="68.90" width="12.52" height="1.05" fill="url(#hmBand)" opacity="0.50"/>
<rect x="583.54" y="69.90" width="12.33" height="1.05" fill="url(#hmBand)" opacity="0.49"/>
<rect x="583.62" y="70.90" width="12.15" height="1.05" fill="url(#hmBand)" opacity="0.59"/>
<rect x="583.71" y="71.90" width="11.98" height="1.05" fill="url(#hmBand)" opacity="0.58"/>
<rect x="583.79" y="72.90" width="11.82" height="1.05" fill="url(#hmBand)" opacity="0.48"/>
<rect x="583.86" y="73.90" width="11.67" height="1.05" fill="url(#hmBand)" opacity="0.53"/>
<rect x="583.93" y="74.90" width="11.53" height="1.05" fill="url(#hmBand)" opacity="0.51"/>
<rect x="584.00" y="75.90" width="11.40" height="1.05" fill="url(#hmBand)" opacity="0.54"/>
<rect x="584.06" y="76.90" width="11.27" height="1.05" fill="url(#hmBand)" opacity="0.45"/>
<rect x="584.12" y="77.90" width="11.15" height="1.05" fill="url(#hmBand)" opacity="0.54"/>
<rect x="584.18" y="78.90" width="11.04" height="1.05" fill="url(#hmBand)" opacity="0.56"/>
<rect x="584.24" y="79.90" width="10.93" height="1.05" fill="url(#hmBand)" opacity="0.51"/>
<rect x="584.29" y="80.90" width="10.83" height="1.05" fill="url(#hmBand)" opacity="0.53"/>
<rect x="584.34" y="81.90" width="10.73" height="1.05" fill="url(#hmBand)" opacity="0.53"/>
<rect x="584.38" y="82.90" width="10.63" height="1.05" fill="url(#hmBand)" opacity="0.45"/>
<rect x="584.43" y="83.90" width="10.54" height="1.05" fill="url(#hmBand)" opacity="0.51"/>
<rect x="584.47" y="84.90" width="10.46" height="1.05" fill="url(#hmBand)" opacity="0.50"/>
<rect x="584.51" y="85.90" width="10.38" height="1.05" fill="url(#hmBand)" opacity="0.46"/>
<rect x="584.55" y="86.90" width="10.30" height="1.05" fill="url(#hmBand)" opacity="0.39"/>
<rect x="584.59" y="87.90" width="10.22" height="1.05" fill="url(#hmBand)" opacity="0.45"/>
<rect x="584.62" y="88.90" width="10.15" height="1.05" fill="url(#hmBand)" opacity="0.48"/>
<rect x="584.66" y="89.90" width="10.08" height="1.05" fill="url(#hmBand)" opacity="0.40"/>
<rect x="584.69" y="90.90" width="10.02" height="1.05" fill="url(#hmBand)" opacity="0.44"/>
<rect x="584.72" y="91.90" width="9.95" height="1.05" fill="url(#hmBand)" opacity="0.46"/>
<rect x="584.75" y="92.90" width="9.89" height="1.05" fill="url(#hmBand)" opacity="0.42"/>
<rect x="584.78" y="93.90" width="9.83" height="1.05" fill="url(#hmBand)" opacity="0.35"/>
<rect x="584.81" y="94.90" width="9.78" height="1.05" fill="url(#hmBand)" opacity="0.42"/>
<rect x="584.84" y="95.90" width="9.72" height="1.05" fill="url(#hmBand)" opacity="0.37"/>
<rect x="584.87" y="96.90" width="9.67" height="1.05" fill="url(#hmBand)" opacity="0.43"/>
<rect x="584.89" y="97.90" width="9.62" height="1.05" fill="url(#hmBand)" opacity="0.41"/>
<rect x="584.92" y="98.90" width="9.57" height="1.05" fill="url(#hmBand)" opacity="0.36"/>
<rect x="584.94" y="99.90" width="9.52" height="1.05" fill="url(#hmBand)" opacity="0.42"/>
<rect x="584.96" y="100.90" width="9.47" height="1.05" fill="url(#hmBand)" opacity="0.39"/>
<rect x="584.99" y="101.90" width="9.43" height="1.05" fill="url(#hmBand)" opacity="0.35"/>
<rect x="585.01" y="102.90" width="9.39" height="1.05" fill="url(#hmBand)" opacity="0.40"/>
<rect x="585.03" y="103.90" width="9.34" height="1.05" fill="url(#hmBand)" opacity="0.40"/>
<rect x="585.05" y="104.90" width="9.30" height="1.05" fill="url(#hmBand)" opacity="0.40"/>
<rect x="585.07" y="105.90" width="9.26" height="1.05" fill="url(#hmBand)" opacity="0.39"/>
<rect x="585.09" y="106.90" width="9.23" height="1.05" fill="url(#hmBand)" opacity="0.37"/>
<rect x="585.10" y="107.90" width="9.19" height="1.05" fill="url(#hmBand)" opacity="0.37"/>
<rect x="585.12" y="108.90" width="9.16" height="1.05" fill="url(#hmBand)" opacity="0.35"/>
<rect x="585.14" y="109.90" width="9.12" height="1.05" fill="url(#hmBand)" opacity="0.34"/>
<rect x="585.16" y="110.90" width="9.09" height="1.05" fill="url(#hmBand)" opacity="0.38"/>
<rect x="585.17" y="111.90" width="9.06" height="1.05" fill="url(#hmBand)" opacity="0.32"/>
<rect x="585.19" y="112.90" width="9.02" height="1.05" fill="url(#hmBand)" opacity="0.29"/>
<rect x="585.20" y="113.90" width="8.99" height="1.05" fill="url(#hmBand)" opacity="0.34"/>
<rect x="585.22" y="114.90" width="8.97" height="1.05" fill="url(#hmBand)" opacity="0.32"/>
<rect x="585.23" y="115.90" width="8.94" height="1.05" fill="url(#hmBand)" opacity="0.32"/>
<rect x="585.25" y="116.90" width="8.91" height="1.05" fill="url(#hmBand)" opacity="0.32"/>
<rect x="585.26" y="117.90" width="8.88" height="1.05" fill="url(#hmBand)" opacity="0.29"/>
<rect x="585.27" y="118.90" width="8.86" height="1.05" fill="url(#hmBand)" opacity="0.28"/>
<rect x="585.28" y="119.90" width="8.83" height="1.05" fill="url(#hmBand)" opacity="0.26"/>
<rect x="585.30" y="120.90" width="8.81" height="1.05" fill="url(#hmBand)" opacity="0.33"/>
<rect x="585.31" y="121.90" width="8.78" height="1.05" fill="url(#hmBand)" opacity="0.33"/>
<rect x="585.32" y="122.90" width="8.76" height="1.05" fill="url(#hmBand)" opacity="0.31"/>
<rect x="585.33" y="123.90" width="8.74" height="1.05" fill="url(#hmBand)" opacity="0.26"/>
<rect x="585.34" y="124.90" width="8.72" height="1.05" fill="url(#hmBand)" opacity="0.33"/>
<rect x="585.35" y="125.90" width="8.70" height="1.05" fill="url(#hmBand)" opacity="0.31"/>
<rect x="585.36" y="126.90" width="8.68" height="1.05" fill="url(#hmBand)" opacity="0.28"/>
<rect x="585.37" y="127.90" width="8.66" height="1.05" fill="url(#hmBand)" opacity="0.24"/>
<rect x="585.38" y="128.90" width="8.64" height="1.05" fill="url(#hmBand)" opacity="0.31"/>
<rect x="585.39" y="129.90" width="8.62" height="1.05" fill="url(#hmBand)" opacity="0.29"/>
<rect x="585.40" y="130.90" width="8.60" height="1.05" fill="url(#hmBand)" opacity="0.28"/>
<rect x="585.41" y="131.90" width="8.58" height="1.05" fill="url(#hmBand)" opacity="0.23"/>
<rect x="585.42" y="132.90" width="8.57" height="1.05" fill="url(#hmBand)" opacity="0.29"/>
<rect x="585.43" y="133.90" width="8.55" height="1.05" fill="url(#hmBand)" opacity="0.23"/>
<rect x="585.43" y="134.90" width="8.53" height="1.05" fill="url(#hmBand)" opacity="0.26"/>
<rect x="585.44" y="135.90" width="8.52" height="1.05" fill="url(#hmBand)" opacity="0.23"/>
<rect x="585.45" y="136.90" width="8.50" height="1.05" fill="url(#hmBand)" opacity="0.25"/>
<rect x="585.46" y="137.90" width="8.49" height="1.05" fill="url(#hmBand)" opacity="0.28"/>
<rect x="585.46" y="138.90" width="8.47" height="1.05" fill="url(#hmBand)" opacity="0.27"/>
<rect x="585.47" y="139.90" width="8.46" height="1.05" fill="url(#hmBand)" opacity="0.27"/>
<rect x="585.48" y="140.90" width="8.45" height="1.05" fill="url(#hmBand)" opacity="0.23"/>
<rect x="585.48" y="141.90" width="8.43" height="1.05" fill="url(#hmBand)" opacity="0.24"/>
<rect x="585.49" y="142.90" width="8.42" height="1.05" fill="url(#hmBand)" opacity="0.25"/>
<rect x="585.50" y="143.90" width="8.41" height="1.05" fill="url(#hmBand)" opacity="0.21"/>
<rect x="585.50" y="144.90" width="8.40" height="1.05" fill="url(#hmBand)" opacity="0.23"/>
<rect x="585.51" y="145.90" width="8.39" height="1.05" fill="url(#hmBand)" opacity="0.27"/>
<rect x="585.51" y="146.90" width="8.37" height="1.05" fill="url(#hmBand)" opacity="0.22"/>
<rect x="585.52" y="147.90" width="8.36" height="1.05" fill="url(#hmBand)" opacity="0.19"/>
<rect x="585.52" y="148.90" width="8.35" height="1.05" fill="url(#hmBand)" opacity="0.13"/>
<rect x="585.53" y="149.90" width="8.34" height="1.05" fill="url(#hmBand)" opacity="0.12"/>
<rect x="585.53" y="150.90" width="8.33" height="1.05" fill="url(#hmBand)" opacity="0.09"/>
<rect x="585.54" y="151.90" width="8.32" height="1.05" fill="url(#hmBand)" opacity="0.05"/>
<rect x="573.40" y="38.90" width="31.00" height="113.20" fill="none" stroke="#3a3a3a" stroke-width="0.9"/>
<line x1="573.40" y1="38.90" x2="604.40" y2="38.90" stroke="#222" stroke-width="1.2"/>
<text x="590.20" y="36.80" font-size="8.6" fill="#111" stroke="#111" stroke-width="0.22" text-anchor="middle">S</text>
<rect x="606.60" y="38.90" width="31.00" height="113.20" fill="#f5f5f5"/>
<rect x="625.2" y="109.2" width="7.2" height="0.8" fill="#666" opacity="0.08"/>
<rect x="607.7" y="122.2" width="8.5" height="0.8" fill="#666" opacity="0.05"/>
<rect x="628.2" y="144.8" width="6.5" height="0.8" fill="#666" opacity="0.04"/>
<rect x="621.4" y="92.1" width="3.7" height="0.8" fill="#666" opacity="0.06"/>
<rect x="614.5" y="41.4" width="3.5" height="0.8" fill="#666" opacity="0.17"/>
<rect x="628.5" y="125.0" width="3.1" height="0.8" fill="#666" opacity="0.04"/>
<rect x="607.1" y="108.6" width="2.9" height="0.8" fill="#666" opacity="0.07"/>
<rect x="633.1" y="63.2" width="3.5" height="0.8" fill="#666" opacity="0.12"/>
<rect x="618.6" y="72.1" width="8.7" height="0.8" fill="#666" opacity="0.09"/>
<rect x="621.9" y="62.7" width="8.6" height="0.8" fill="#666" opacity="0.13"/>
<rect x="616.5" y="139.3" width="4.1" height="0.8" fill="#666" opacity="0.04"/>
<rect x="615.4" y="56.1" width="2.5" height="0.8" fill="#666" opacity="0.12"/>
<rect x="615.0" y="40.3" width="6.7" height="0.8" fill="#666" opacity="0.14"/>
<rect x="614.9" y="130.9" width="5.4" height="0.8" fill="#666" opacity="0.05"/>
<rect x="634.0" y="118.3" width="2.4" height="0.8" fill="#666" opacity="0.03"/>
<rect x="607.5" y="123.3" width="7.9" height="0.8" fill="#666" opacity="0.07"/>
<rect x="607.3" y="80.6" width="6.0" height="0.8" fill="#666" opacity="0.04"/>
<rect x="611.3" y="60.0" width="8.7" height="0.8" fill="#666" opacity="0.12"/>
<rect x="614.5" y="143.3" width="8.6" height="0.8" fill="#666" opacity="0.05"/>
<rect x="609.5" y="98.2" width="7.4" height="0.8" fill="#666" opacity="0.07"/>
<rect x="607.9" y="128.6" width="8.0" height="0.8" fill="#666" opacity="0.08"/>
<rect x="622.7" y="50.0" width="4.4" height="0.8" fill="#666" opacity="0.15"/>
<rect x="618.8" y="77.7" width="8.5" height="0.8" fill="#666" opacity="0.06"/>
<rect x="609.2" y="75.1" width="3.2" height="0.8" fill="#666" opacity="0.06"/>
<rect x="610.5" y="116.5" width="9.0" height="0.8" fill="#666" opacity="0.03"/>
<rect x="616.9" y="149.6" width="5.7" height="0.8" fill="#666" opacity="0.04"/>
<rect x="617.2" y="105.9" width="7.8" height="0.8" fill="#666" opacity="0.05"/>
<rect x="607.8" y="46.1" width="8.4" height="0.8" fill="#666" opacity="0.14"/>
<rect x="626.9" y="133.1" width="2.9" height="0.8" fill="#666" opacity="0.08"/>
<rect x="609.5" y="110.0" width="7.5" height="0.8" fill="#666" opacity="0.05"/>
<rect x="613.6" y="56.5" width="7.9" height="0.8" fill="#666" opacity="0.11"/>
<rect x="628.6" y="151.0" width="8.0" height="0.8" fill="#666" opacity="0.05"/>
<rect x="618.1" y="94.2" width="7.1" height="0.8" fill="#666" opacity="0.04"/>
<rect x="617.3" y="84.8" width="3.0" height="0.8" fill="#666" opacity="0.08"/>
<rect x="618.9" y="146.6" width="6.4" height="0.8" fill="#666" opacity="0.05"/>
<rect x="627.5" y="49.8" width="3.9" height="0.8" fill="#666" opacity="0.15"/>
<rect x="624.5" y="80.1" width="7.5" height="0.8" fill="#666" opacity="0.07"/>
<rect x="615.3" y="113.7" width="7.3" height="0.8" fill="#666" opacity="0.07"/>
<rect x="626.0" y="71.1" width="5.4" height="0.8" fill="#666" opacity="0.09"/>
<rect x="621.0" y="72.6" width="8.6" height="0.8" fill="#666" opacity="0.08"/>
<rect x="613.2" y="41.2" width="5.8" height="0.8" fill="#666" opacity="0.16"/>
<rect x="621.5" y="91.4" width="7.7" height="0.8" fill="#666" opacity="0.07"/>
<rect x="624.4" y="78.6" width="6.5" height="0.8" fill="#666" opacity="0.08"/>
<rect x="626.3" y="78.8" width="7.9" height="0.8" fill="#666" opacity="0.08"/>
<rect x="618.1" y="148.4" width="8.7" height="0.8" fill="#666" opacity="0.06"/>
<rect x="627.9" y="58.4" width="7.9" height="0.8" fill="#666" opacity="0.11"/>
<rect x="623.9" y="116.8" width="7.0" height="0.8" fill="#666" opacity="0.04"/>
<rect x="623.0" y="126.7" width="6.1" height="0.8" fill="#666" opacity="0.05"/>
<rect x="621.5" y="109.3" width="7.4" height="0.8" fill="#666" opacity="0.07"/>
<rect x="619.0" y="43.0" width="3.1" height="0.8" fill="#666" opacity="0.15"/>
<rect x="621.7" y="64.3" width="6.8" height="0.8" fill="#666" opacity="0.08"/>
<rect x="608.5" y="92.3" width="3.6" height="0.8" fill="#666" opacity="0.04"/>
<rect x="612.3" y="75.2" width="3.3" height="0.8" fill="#666" opacity="0.05"/>
<rect x="622.6" y="91.6" width="4.7" height="0.8" fill="#666" opacity="0.06"/>
<rect x="607.1" y="66.3" width="8.3" height="0.8" fill="#666" opacity="0.09"/>
<rect x="610.0" y="70.9" width="4.9" height="0.8" fill="#666" opacity="0.10"/>
<rect x="624.1" y="81.5" width="2.3" height="0.8" fill="#666" opacity="0.04"/>
<rect x="622.0" y="100.5" width="4.4" height="0.8" fill="#666" opacity="0.08"/>
<rect x="627.5" y="130.9" width="4.9" height="0.8" fill="#666" opacity="0.06"/>
<rect x="623.2" y="81.0" width="3.0" height="0.8" fill="#666" opacity="0.07"/>
<rect x="620.0" y="146.3" width="8.8" height="0.8" fill="#666" opacity="0.05"/>
<rect x="610.1" y="139.3" width="2.0" height="0.8" fill="#666" opacity="0.06"/>
<rect x="624.1" y="108.3" width="3.0" height="0.8" fill="#666" opacity="0.07"/>
<rect x="612.8" y="81.7" width="5.0" height="0.8" fill="#666" opacity="0.05"/>
<rect x="631.5" y="148.0" width="4.7" height="0.8" fill="#666" opacity="0.08"/>
<rect x="632.8" y="106.2" width="3.8" height="0.8" fill="#666" opacity="0.05"/>
<rect x="632.5" y="86.1" width="4.2" height="0.8" fill="#666" opacity="0.05"/>
<rect x="610.1" y="71.7" width="5.3" height="0.8" fill="#666" opacity="0.09"/>
<rect x="627.4" y="89.2" width="4.1" height="0.8" fill="#666" opacity="0.07"/>
<rect x="613.7" y="41.4" width="5.7" height="0.8" fill="#666" opacity="0.17"/>
<rect x="614.1" y="126.8" width="3.7" height="0.8" fill="#666" opacity="0.04"/>
<rect x="622.9" y="149.9" width="4.1" height="0.8" fill="#666" opacity="0.05"/>
<rect x="624.8" y="111.6" width="6.2" height="0.8" fill="#666" opacity="0.04"/>
<rect x="620.9" y="124.5" width="4.1" height="0.8" fill="#666" opacity="0.05"/>
<rect x="618.4" y="72.9" width="5.7" height="0.8" fill="#666" opacity="0.07"/>
<rect x="608.0" y="122.7" width="6.1" height="0.8" fill="#666" opacity="0.04"/>
<rect x="626.3" y="90.6" width="8.4" height="0.8" fill="#666" opacity="0.06"/>
<rect x="616.7" y="41.5" width="7.4" height="0.8" fill="#666" opacity="0.15"/>
<rect x="618.5" y="118.6" width="6.4" height="0.8" fill="#666" opacity="0.08"/>
<rect x="628.6" y="82.8" width="4.7" height="0.8" fill="#666" opacity="0.04"/>
<rect x="608.6" y="72.9" width="7.8" height="0.8" fill="#666" opacity="0.10"/>
<rect x="614.3" y="117.1" width="5.0" height="0.8" fill="#666" opacity="0.07"/>
<rect x="620.0" y="141.2" width="3.0" height="0.8" fill="#666" opacity="0.06"/>
<rect x="611.0" y="95.2" width="4.3" height="0.8" fill="#666" opacity="0.06"/>
<rect x="613.4" y="130.2" width="2.5" height="0.8" fill="#666" opacity="0.07"/>
<rect x="607.7" y="127.9" width="6.6" height="0.8" fill="#666" opacity="0.07"/>
<rect x="621.8" y="148.7" width="9.0" height="0.8" fill="#666" opacity="0.03"/>
<rect x="624.2" y="133.5" width="3.5" height="0.8" fill="#666" opacity="0.08"/>
<rect x="615.0" y="119.1" width="2.9" height="0.8" fill="#666" opacity="0.08"/>
<rect x="616.9" y="56.5" width="6.3" height="0.8" fill="#666" opacity="0.10"/>
<rect x="606.60" y="38.90" width="31.00" height="24.90" fill="url(#hmTop)" opacity="1.00"/>
<rect x="603.40" y="38.90" width="39.00" height="1.05" fill="url(#hmBand)" opacity="0.95"/>
<rect x="604.68" y="39.90" width="36.44" height="1.05" fill="url(#hmBand)" opacity="0.78"/>
<rect x="605.84" y="40.90" width="34.13" height="1.05" fill="url(#hmBand)" opacity="0.79"/>
<rect x="606.88" y="41.90" width="32.04" height="1.05" fill="url(#hmBand)" opacity="0.85"/>
<rect x="607.83" y="42.90" width="30.14" height="1.05" fill="url(#hmBand)" opacity="0.76"/>
<rect x="608.68" y="43.90" width="28.43" height="1.05" fill="url(#hmBand)" opacity="0.74"/>
<rect x="609.46" y="44.90" width="26.88" height="1.05" fill="url(#hmBand)" opacity="0.87"/>
<rect x="610.16" y="45.90" width="25.48" height="1.05" fill="url(#hmBand)" opacity="0.90"/>
<rect x="610.80" y="46.90" width="24.21" height="1.05" fill="url(#hmBand)" opacity="0.92"/>
<rect x="611.38" y="47.90" width="23.05" height="1.05" fill="url(#hmBand)" opacity="0.72"/>
<rect x="611.90" y="48.90" width="22.00" height="1.05" fill="url(#hmBand)" opacity="0.78"/>
<rect x="612.38" y="49.90" width="21.04" height="1.05" fill="url(#hmBand)" opacity="0.75"/>
<rect x="612.82" y="50.90" width="20.17" height="1.05" fill="url(#hmBand)" opacity="0.80"/>
<rect x="613.21" y="51.90" width="19.37" height="1.05" fill="url(#hmBand)" opacity="0.77"/>
<rect x="613.58" y="52.90" width="18.65" height="1.05" fill="url(#hmBand)" opacity="0.86"/>
<rect x="613.91" y="53.90" width="17.98" height="1.05" fill="url(#hmBand)" opacity="0.72"/>
<rect x="614.21" y="54.90" width="17.38" height="1.05" fill="url(#hmBand)" opacity="0.64"/>
<rect x="614.49" y="55.90" width="16.82" height="1.05" fill="url(#hmBand)" opacity="0.77"/>
<rect x="614.74" y="56.90" width="16.31" height="1.05" fill="url(#hmBand)" opacity="0.64"/>
<rect x="614.98" y="57.90" width="15.84" height="1.05" fill="url(#hmBand)" opacity="0.74"/>
<rect x="615.19" y="58.90" width="15.41" height="1.05" fill="url(#hmBand)" opacity="0.70"/>
<rect x="615.39" y="59.90" width="15.01" height="1.05" fill="url(#hmBand)" opacity="0.78"/>
<rect x="615.58" y="60.90" width="14.65" height="1.05" fill="url(#hmBand)" opacity="0.69"/>
<rect x="615.75" y="61.90" width="14.31" height="1.05" fill="url(#hmBand)" opacity="0.70"/>
<rect x="615.90" y="62.90" width="13.99" height="1.05" fill="url(#hmBand)" opacity="0.62"/>
<rect x="616.05" y="63.90" width="13.70" height="1.05" fill="url(#hmBand)" opacity="0.67"/>
<rect x="616.18" y="64.90" width="13.43" height="1.05" fill="url(#hmBand)" opacity="0.60"/>
<rect x="616.31" y="65.90" width="13.18" height="1.05" fill="url(#hmBand)" opacity="0.69"/>
<rect x="616.43" y="66.90" width="12.95" height="1.05" fill="url(#hmBand)" opacity="0.63"/>
<rect x="616.54" y="67.90" width="12.73" height="1.05" fill="url(#hmBand)" opacity="0.55"/>
<rect x="616.64" y="68.90" width="12.52" height="1.05" fill="url(#hmBand)" opacity="0.57"/>
<rect x="616.74" y="69.90" width="12.33" height="1.05" fill="url(#hmBand)" opacity="0.58"/>
<rect x="616.82" y="70.90" width="12.15" height="1.05" fill="url(#hmBand)" opacity="0.64"/>
<rect x="616.91" y="71.90" width="11.98" height="1.05" fill="url(#hmBand)" opacity="0.53"/>
<rect x="616.99" y="72.90" width="11.82" height="1.05" fill="url(#hmBand)" opacity="0.62"/>
<rect x="617.06" y="73.90" width="11.67" height="1.05" fill="url(#hmBand)" opacity="0.60"/>
<rect x="617.13" y="74.90" width="11.53" height="1.05" fill="url(#hmBand)" opacity="0.50"/>
<rect x="617.20" y="75.90" width="11.40" height="1.05" fill="url(#hmBand)" opacity="0.59"/>
<rect x="617.26" y="76.90" width="11.27" height="1.05" fill="url(#hmBand)" opacity="0.49"/>
<rect x="617.32" y="77.90" width="11.15" height="1.05" fill="url(#hmBand)" opacity="0.49"/>
<rect x="617.38" y="78.90" width="11.04" height="1.05" fill="url(#hmBand)" opacity="0.56"/>
<rect x="617.44" y="79.90" width="10.93" height="1.05" fill="url(#hmBand)" opacity="0.49"/>
<rect x="617.49" y="80.90" width="10.83" height="1.05" fill="url(#hmBand)" opacity="0.59"/>
<rect x="617.54" y="81.90" width="10.73" height="1.05" fill="url(#hmBand)" opacity="0.52"/>
<rect x="617.58" y="82.90" width="10.63" height="1.05" fill="url(#hmBand)" opacity="0.49"/>
<rect x="617.63" y="83.90" width="10.54" height="1.05" fill="url(#hmBand)" opacity="0.55"/>
<rect x="617.67" y="84.90" width="10.46" height="1.05" fill="url(#hmBand)" opacity="0.43"/>
<rect x="617.71" y="85.90" width="10.38" height="1.05" fill="url(#hmBand)" opacity="0.53"/>
<rect x="617.75" y="86.90" width="10.30" height="1.05" fill="url(#hmBand)" opacity="0.42"/>
<rect x="617.79" y="87.90" width="10.22" height="1.05" fill="url(#hmBand)" opacity="0.43"/>
<rect x="617.82" y="88.90" width="10.15" height="1.05" fill="url(#hmBand)" opacity="0.54"/>
<rect x="617.86" y="89.90" width="10.08" height="1.05" fill="url(#hmBand)" opacity="0.50"/>
<rect x="617.89" y="90.90" width="10.02" height="1.05" fill="url(#hmBand)" opacity="0.43"/>
<rect x="617.92" y="91.90" width="9.95" height="1.05" fill="url(#hmBand)" opacity="0.41"/>
<rect x="617.95" y="92.90" width="9.89" height="1.05" fill="url(#hmBand)" opacity="0.52"/>
<rect x="617.98" y="93.90" width="9.83" height="1.05" fill="url(#hmBand)" opacity="0.47"/>
<rect x="618.01" y="94.90" width="9.78" height="1.05" fill="url(#hmBand)" opacity="0.49"/>
<rect x="618.04" y="95.90" width="9.72" height="1.05" fill="url(#hmBand)" opacity="0.39"/>
<rect x="618.07" y="96.90" width="9.67" height="1.05" fill="url(#hmBand)" opacity="0.45"/>
<rect x="618.09" y="97.90" width="9.62" height="1.05" fill="url(#hmBand)" opacity="0.41"/>
<rect x="618.12" y="98.90" width="9.57" height="1.05" fill="url(#hmBand)" opacity="0.39"/>
<rect x="618.14" y="99.90" width="9.52" height="1.05" fill="url(#hmBand)" opacity="0.40"/>
<rect x="618.16" y="100.90" width="9.47" height="1.05" fill="url(#hmBand)" opacity="0.43"/>
<rect x="618.19" y="101.90" width="9.43" height="1.05" fill="url(#hmBand)" opacity="0.39"/>
<rect x="618.21" y="102.90" width="9.39" height="1.05" fill="url(#hmBand)" opacity="0.39"/>
<rect x="618.23" y="103.90" width="9.34" height="1.05" fill="url(#hmBand)" opacity="0.36"/>
<rect x="618.25" y="104.90" width="9.30" height="1.05" fill="url(#hmBand)" opacity="0.44"/>
<rect x="618.27" y="105.90" width="9.26" height="1.05" fill="url(#hmBand)" opacity="0.41"/>
<rect x="618.29" y="106.90" width="9.23" height="1.05" fill="url(#hmBand)" opacity="0.42"/>
<rect x="618.30" y="107.90" width="9.19" height="1.05" fill="url(#hmBand)" opacity="0.38"/>
<rect x="618.32" y="108.90" width="9.16" height="1.05" fill="url(#hmBand)" opacity="0.42"/>
<rect x="618.34" y="109.90" width="9.12" height="1.05" fill="url(#hmBand)" opacity="0.38"/>
<rect x="618.36" y="110.90" width="9.09" height="1.05" fill="url(#hmBand)" opacity="0.38"/>
<rect x="618.37" y="111.90" width="9.06" height="1.05" fill="url(#hmBand)" opacity="0.38"/>
<rect x="618.39" y="112.90" width="9.02" height="1.05" fill="url(#hmBand)" opacity="0.39"/>
<rect x="618.40" y="113.90" width="8.99" height="1.05" fill="url(#hmBand)" opacity="0.35"/>
<rect x="618.42" y="114.90" width="8.97" height="1.05" fill="url(#hmBand)" opacity="0.31"/>
<rect x="618.43" y="115.90" width="8.94" height="1.05" fill="url(#hmBand)" opacity="0.30"/>
<rect x="618.45" y="116.90" width="8.91" height="1.05" fill="url(#hmBand)" opacity="0.32"/>
<rect x="618.46" y="117.90" width="8.88" height="1.05" fill="url(#hmBand)" opacity="0.30"/>
<rect x="618.47" y="118.90" width="8.86" height="1.05" fill="url(#hmBand)" opacity="0.38"/>
<rect x="618.48" y="119.90" width="8.83" height="1.05" fill="url(#hmBand)" opacity="0.34"/>
<rect x="618.50" y="120.90" width="8.81" height="1.05" fill="url(#hmBand)" opacity="0.36"/>
<rect x="618.51" y="121.90" width="8.78" height="1.05" fill="url(#hmBand)" opacity="0.28"/>
<rect x="618.52" y="122.90" width="8.76" height="1.05" fill="url(#hmBand)" opacity="0.32"/>
<rect x="618.53" y="123.90" width="8.74" height="1.05" fill="url(#hmBand)" opacity="0.36"/>
<rect x="618.54" y="124.90" width="8.72" height="1.05" fill="url(#hmBand)" opacity="0.33"/>
<rect x="618.55" y="125.90" width="8.70" height="1.05" fill="url(#hmBand)" opacity="0.31"/>
<rect x="618.56" y="126.90" width="8.68" height="1.05" fill="url(#hmBand)" opacity="0.31"/>
<rect x="618.57" y="127.90" width="8.66" height="1.05" fill="url(#hmBand)" opacity="0.27"/>
<rect x="618.58" y="128.90" width="8.64" height="1.05" fill="url(#hmBand)" opacity="0.28"/>
<rect x="618.59" y="129.90" width="8.62" height="1.05" fill="url(#hmBand)" opacity="0.27"/>
<rect x="618.60" y="130.90" width="8.60" height="1.05" fill="url(#hmBand)" opacity="0.29"/>
<rect x="618.61" y="131.90" width="8.58" height="1.05" fill="url(#hmBand)" opacity="0.29"/>
<rect x="618.62" y="132.90" width="8.57" height="1.05" fill="url(#hmBand)" opacity="0.33"/>
<rect x="618.63" y="133.90" width="8.55" height="1.05" fill="url(#hmBand)" opacity="0.26"/>
<rect x="618.63" y="134.90" width="8.53" height="1.05" fill="url(#hmBand)" opacity="0.27"/>
<rect x="618.64" y="135.90" width="8.52" height="1.05" fill="url(#hmBand)" opacity="0.27"/>
<rect x="618.65" y="136.90" width="8.50" height="1.05" fill="url(#hmBand)" opacity="0.26"/>
<rect x="618.66" y="137.90" width="8.49" height="1.05" fill="url(#hmBand)" opacity="0.27"/>
<rect x="618.66" y="138.90" width="8.47" height="1.05" fill="url(#hmBand)" opacity="0.26"/>
<rect x="618.67" y="139.90" width="8.46" height="1.05" fill="url(#hmBand)" opacity="0.28"/>
<rect x="618.68" y="140.90" width="8.45" height="1.05" fill="url(#hmBand)" opacity="0.24"/>
<rect x="618.68" y="141.90" width="8.43" height="1.05" fill="url(#hmBand)" opacity="0.31"/>
<rect x="618.69" y="142.90" width="8.42" height="1.05" fill="url(#hmBand)" opacity="0.26"/>
<rect x="618.70" y="143.90" width="8.41" height="1.05" fill="url(#hmBand)" opacity="0.30"/>
<rect x="618.70" y="144.90" width="8.40" height="1.05" fill="url(#hmBand)" opacity="0.28"/>
<rect x="618.71" y="145.90" width="8.39" height="1.05" fill="url(#hmBand)" opacity="0.27"/>
<rect x="618.71" y="146.90" width="8.37" height="1.05" fill="url(#hmBand)" opacity="0.22"/>
<rect x="618.72" y="147.90" width="8.36" height="1.05" fill="url(#hmBand)" opacity="0.21"/>
<rect x="618.72" y="148.90" width="8.35" height="1.05" fill="url(#hmBand)" opacity="0.14"/>
<rect x="618.73" y="149.90" width="8.34" height="1.05" fill="url(#hmBand)" opacity="0.13"/>
<rect x="618.73" y="150.90" width="8.33" height="1.05" fill="url(#hmBand)" opacity="0.08"/>
<rect x="618.74" y="151.90" width="8.32" height="1.05" fill="url(#hmBand)" opacity="0.06"/>
<rect x="606.60" y="38.90" width="31.00" height="113.20" fill="none" stroke="#3a3a3a" stroke-width="0.9"/>
<line x1="606.60" y1="38.90" x2="637.60" y2="38.90" stroke="#222" stroke-width="1.2"/>
<text x="623.40" y="36.80" font-size="8.6" fill="#111" stroke="#111" stroke-width="0.22" text-anchor="middle">G2</text>
<line x1="452.60" y1="152.10" x2="452.60" y2="154.50" stroke="#222" stroke-width="0.7"/>
<text x="426.00" y="161.30" font-size="7.4" fill="#111" stroke="#111" stroke-width="0.22">-10 kb</text>
<text x="450.80" y="161.30" font-size="7.4" fill="#111" stroke="#111" stroke-width="0.22">0</text>
<text x="459.80" y="161.30" font-size="7.4" fill="#111" stroke="#111" stroke-width="0.22">10 kb</text>
<text x="452.40" y="169.50" font-size="7.4" fill="#111" stroke="#111" stroke-width="0.22" text-anchor="middle">Dist. to TSS</text>
<text x="420.20" y="96.00" font-size="8.6" fill="#111" stroke="#111" stroke-width="0.22" text-anchor="middle" transform="rotate(-90 420.20 96.00)">RING1B+CBX7 targets</text>
<text x="430.30" y="96.00" font-size="8.6" fill="#111" stroke="#111" stroke-width="0.22" text-anchor="middle" transform="rotate(-90 430.30 96.00)">(n=2340)</text>
<text x="0.20" y="184.30" font-size="12" fill="#000" stroke="#000" stroke-width="0.22" font-weight="bold">d</text>
<text x="170.80" y="164.30" font-size="8.6" fill="#111" stroke="#111" stroke-width="0.22" text-anchor="middle">RING1B+CBX7 (n=2340)</text>
<line x1="44.80" y1="182.10" x2="276.50" y2="182.10" stroke="#666" stroke-width="0.8"/>
<text x="161.00" y="340.00" font-size="8.6" fill="#111" stroke="#111" stroke-width="0.22" text-anchor="middle">RING1B only (n=8568)</text>
<line x1="44.80" y1="346.40" x2="276.50" y2="346.40" stroke="#666" stroke-width="0.8"/>
<polyline points="47.96,274.85 49.23,274.62 50.49,274.92 51.76,273.86 53.02,274.43 54.29,273.99 55.56,273.44 56.82,273.59 58.09,273.27 59.35,272.96 60.62,272.34 61.89,271.65 63.15,271.87 64.42,271.82 65.68,271.11 66.95,271.01 68.22,270.48 69.48,269.78 70.75,269.74 72.01,269.05 73.28,268.66 74.55,267.80 75.81,266.82 77.08,266.07 78.34,264.75 79.61,263.41 80.88,262.07 82.14,260.67 83.41,259.10 84.67,257.11 85.94,255.37 87.21,252.75 88.47,251.36 89.74,248.09 91.00,245.28 92.27,242.41 93.54,240.29 94.80,238.47 96.07,235.99 97.33,233.06 98.60,229.13 99.87,220.86 101.13,219.88 102.40,220.02 103.66,221.40 104.93,223.62 106.20,225.61 107.46,228.24 108.73,231.12 109.99,233.67 111.26,236.20 112.53,239.55 113.79,243.02 115.06,246.51 116.32,249.68 117.59,252.16 118.86,254.77 120.12,256.52 121.39,258.38 122.65,260.34 123.92,261.12 125.19,261.91 126.45,262.64 127.72,263.23 128.98,264.36 130.25,264.42 131.52,265.08 132.78,265.72 134.05,265.72 135.31,266.12 136.58,266.90 137.85,267.02 139.11,267.75 140.38,268.09 141.64,268.79 142.91,268.58 144.18,269.95 145.44,269.74 146.71,269.92 147.97,270.89 149.24,270.80" fill="none" stroke="#e52a2a" stroke-width="1.55" stroke-linejoin="round"/>
<polyline points="47.96,271.52 49.23,272.00 50.49,271.89 51.76,271.86 53.02,271.22 54.29,271.71 55.56,270.51 56.82,270.78 58.09,270.21 59.35,270.01 60.62,269.27 61.89,269.70 63.15,268.84 64.42,268.33 65.68,267.38 66.95,267.22 68.22,266.28 69.48,265.65 70.75,264.59 72.01,263.57 73.28,263.00 74.55,261.42 75.81,260.24 77.08,258.94 78.34,257.31 79.61,255.99 80.88,254.04 82.14,252.29 83.41,250.08 84.67,247.73 85.94,245.74 87.21,243.07 88.47,240.06 89.74,236.72 91.00,233.18 92.27,229.57 93.54,226.77 94.80,223.63 96.07,220.08 97.33,216.07 98.60,208.40 99.87,197.74 101.13,195.81 102.40,194.10 103.66,194.09 104.93,195.14 106.20,197.17 107.46,199.60 108.73,203.15 109.99,207.20 111.26,211.77 112.53,216.48 113.79,221.52 115.06,226.22 116.32,230.77 117.59,234.58 118.86,238.04 120.12,241.30 121.39,244.47 122.65,247.04 123.92,249.76 125.19,251.36 126.45,253.43 127.72,255.33 128.98,256.68 130.25,258.16 131.52,259.04 132.78,259.99 134.05,260.75 135.31,262.38 136.58,263.07 137.85,263.48 139.11,263.94 140.38,264.36 141.64,265.04 142.91,266.08 144.18,266.15 145.44,266.30 146.71,266.79 147.97,266.94 149.24,267.37" fill="none" stroke="#3fc43f" stroke-width="1.55" stroke-linejoin="round"/>
<polyline points="47.96,276.63 49.23,276.81 50.49,276.74 51.76,277.00 53.02,276.43 54.29,276.22 55.56,275.91 56.82,275.77 58.09,275.36 59.35,275.17 60.62,275.06 61.89,274.24 63.15,273.91 64.42,273.36 65.68,273.35 66.95,273.03 68.22,272.60 69.48,272.33 70.75,271.20 72.01,271.08 73.28,270.45 74.55,269.46 75.81,268.15 77.08,267.37 78.34,266.46 79.61,265.07 80.88,263.34 82.14,262.01 83.41,260.56 84.67,258.78 85.94,256.85 87.21,254.67 88.47,253.23 89.74,250.71 91.00,248.26 92.27,246.14 93.54,243.48 94.80,241.28 96.07,238.34 97.33,235.63 98.60,231.70 99.87,222.28 101.13,217.07 102.40,217.38 103.66,217.12 104.93,217.98 106.20,220.34 107.46,223.42 108.73,227.76 109.99,231.22 111.26,234.48 112.53,238.03 113.79,241.83 115.06,245.69 116.32,249.17 117.59,252.70 118.86,254.71 120.12,257.62 121.39,259.37 122.65,261.36 123.92,261.93 125.19,262.81 126.45,263.99 127.72,264.27 128.98,265.48 130.25,265.88 131.52,266.42 132.78,267.20 134.05,267.35 135.31,267.51 136.58,268.70 137.85,268.78 139.11,269.53 140.38,269.59 141.64,270.37 142.91,270.79 144.18,271.26 145.44,271.78 146.71,272.58 147.97,272.34 149.24,273.35" fill="none" stroke="#2b50e6" stroke-width="1.55" stroke-linejoin="round"/>
<line x1="98.60" y1="188.90" x2="98.60" y2="288.10" stroke="#333" stroke-width="0.8" stroke-dasharray="3,2"/>
<rect x="44.80" y="188.90" width="108.90" height="99.20" fill="none" stroke="#777" stroke-width="0.8"/>
<line x1="47.96" y1="288.10" x2="47.96" y2="291.10" stroke="#777" stroke-width="0.8"/>
<text x="48.96" y="301.20" font-size="8.3" fill="#222" stroke="#222" stroke-width="0.22" text-anchor="middle">-4.0</text>
<line x1="73.28" y1="288.10" x2="73.28" y2="291.10" stroke="#777" stroke-width="0.8"/>
<text x="74.28" y="301.20" font-size="8.3" fill="#222" stroke="#222" stroke-width="0.22" text-anchor="middle">-2.0</text>
<line x1="98.60" y1="288.10" x2="98.60" y2="291.10" stroke="#777" stroke-width="0.8"/>
<text x="98.60" y="301.20" font-size="8.3" fill="#222" stroke="#222" stroke-width="0.22" text-anchor="middle">0</text>
<line x1="123.92" y1="288.10" x2="123.92" y2="291.10" stroke="#777" stroke-width="0.8"/>
<text x="123.92" y="301.20" font-size="8.3" fill="#222" stroke="#222" stroke-width="0.22" text-anchor="middle">2.0</text>
<line x1="149.24" y1="288.10" x2="149.24" y2="291.10" stroke="#777" stroke-width="0.8"/>
<text x="149.24" y="301.20" font-size="8.3" fill="#222" stroke="#222" stroke-width="0.22" text-anchor="middle">4.0</text>
<text x="98.15" y="313.40" font-size="8.6" fill="#111" stroke="#111" stroke-width="0.22" text-anchor="middle">Distance from TSS (kb)</text>
<line x1="44.80" y1="261.60" x2="41.30" y2="261.60" stroke="#777" stroke-width="0.8"/>
<text x="37.20" y="261.60" font-size="8.3" fill="#222" stroke="#222" stroke-width="0.22" text-anchor="middle" transform="rotate(-90 37.20 261.60)">0.5</text>
<line x1="44.80" y1="233.00" x2="41.30" y2="233.00" stroke="#777" stroke-width="0.8"/>
<text x="37.20" y="233.00" font-size="8.3" fill="#222" stroke="#222" stroke-width="0.22" text-anchor="middle" transform="rotate(-90 37.20 233.00)">1.0</text>
<line x1="44.80" y1="204.40" x2="41.30" y2="204.40" stroke="#777" stroke-width="0.8"/>
<text x="37.20" y="204.40" font-size="8.3" fill="#222" stroke="#222" stroke-width="0.22" text-anchor="middle" transform="rotate(-90 37.20 204.40)">1.5</text>
<text x="25.50" y="238.50" font-size="8.6" fill="#111" stroke="#111" stroke-width="0.22" text-anchor="middle" transform="rotate(-90 25.50 238.50)">Normalized reads</text>
<line x1="48.40" y1="195.30" x2="57.80" y2="195.30" stroke="#e52a2a" stroke-width="1.6" opacity="1.0"/>
<text x="60.30" y="197.90" font-size="7.3" fill="#222" stroke="#222" stroke-width="0.22">G1</text>
<line x1="48.40" y1="201.90" x2="57.80" y2="201.90" stroke="#3fc43f" stroke-width="1.6" opacity="1.0"/>
<text x="60.30" y="204.50" font-size="7.3" fill="#222" stroke="#222" stroke-width="0.22">S</text>
<line x1="48.40" y1="208.50" x2="57.80" y2="208.50" stroke="#2b50e6" stroke-width="1.6" opacity="1.0"/>
<text x="60.30" y="211.10" font-size="7.3" fill="#222" stroke="#222" stroke-width="0.22">G2</text>
<text x="150.40" y="200.50" font-size="8.6" fill="#111" stroke="#111" stroke-width="0.22" text-anchor="end">RING1B</text>
<polyline points="173.74,280.91 175.00,281.03 176.26,280.52 177.52,280.91 178.78,280.76 180.03,280.40 181.29,280.70 182.55,280.49 183.81,280.19 185.07,280.09 186.33,280.03 187.59,279.65 188.85,279.44 190.11,279.03 191.37,279.16 192.62,278.73 193.88,278.14 195.14,277.74 196.40,278.02 197.66,277.36 198.92,277.34 200.18,276.99 201.44,276.60 202.70,276.08 203.96,275.34 205.22,274.84 206.47,274.37 207.73,273.81 208.99,273.08 210.25,272.40 211.51,271.53 212.77,270.93 214.03,269.82 215.29,268.75 216.55,267.63 217.81,266.53 219.06,265.76 220.32,264.99 221.58,264.51 222.84,263.00 224.10,258.97 225.36,249.84 226.62,246.64 227.88,246.22 229.14,246.60 230.40,247.14 231.65,248.38 232.91,250.06 234.17,251.98 235.43,253.79 236.69,255.31 237.95,257.36 239.21,259.68 240.47,261.69 241.73,263.67 242.99,265.10 244.24,266.86 245.50,267.94 246.76,269.56 248.02,270.79 249.28,271.73 250.54,272.13 251.80,272.89 253.06,273.49 254.32,273.69 255.58,274.18 256.83,274.35 258.09,274.91 259.35,275.71 260.61,275.43 261.87,276.22 263.13,275.98 264.39,276.27 265.65,276.98 266.91,277.42 268.17,277.77 269.42,277.67 270.68,278.14 271.94,278.47 273.20,278.67 274.46,278.51" fill="none" stroke="#e52a2a" stroke-width="1.55" stroke-linejoin="round"/>
<polyline points="173.74,283.10 175.00,283.02 176.26,283.25 177.52,282.93 178.78,283.08 180.03,283.22 181.29,282.99 182.55,282.70 183.81,282.66 185.07,282.81 186.33,282.41 187.59,282.41 188.85,282.20 190.11,282.08 191.37,282.19 192.62,281.78 193.88,281.79 195.14,281.26 196.40,281.23 197.66,281.16 198.92,281.15 200.18,280.75 201.44,280.43 202.70,280.29 203.96,279.28 205.22,279.10 206.47,278.36 207.73,278.28 208.99,277.24 210.25,277.15 211.51,276.43 212.77,275.70 214.03,275.33 215.29,275.31 216.55,274.63 217.81,273.75 219.06,272.83 220.32,272.11 221.58,271.12 222.84,269.42 224.10,266.13 225.36,259.79 226.62,258.40 227.88,257.35 229.14,257.36 230.40,257.86 231.65,259.21 232.91,260.44 234.17,262.31 235.43,263.75 236.69,265.17 237.95,266.92 239.21,267.98 240.47,269.33 241.73,270.72 242.99,271.63 244.24,272.83 245.50,273.33 246.76,274.11 248.02,274.83 249.28,275.06 250.54,275.95 251.80,276.50 253.06,277.11 254.32,277.38 255.58,278.01 256.83,278.02 258.09,278.71 259.35,278.90 260.61,278.89 261.87,279.31 263.13,279.72 264.39,279.77 265.65,280.25 266.91,280.33 268.17,280.67 269.42,281.02 270.68,280.97 271.94,281.03 273.20,281.37 274.46,281.60" fill="none" stroke="#3fc43f" stroke-width="1.55" stroke-linejoin="round"/>
<polyline points="173.74,279.56 175.00,279.31 176.26,279.31 177.52,279.39 178.78,279.53 180.03,278.80 181.29,278.60 182.55,278.87 183.81,278.14 185.07,278.30 186.33,277.57 187.59,277.70 188.85,277.63 190.11,277.10 191.37,277.01 192.62,276.69 193.88,276.36 195.14,276.02 196.40,275.47 197.66,274.99 198.92,274.57 200.18,273.74 201.44,273.57 202.70,272.59 203.96,271.42 205.22,270.70 206.47,269.06 207.73,267.93 208.99,266.70 210.25,265.09 211.51,263.70 212.77,262.00 214.03,259.33 215.29,256.65 216.55,253.78 217.81,250.46 219.06,246.78 220.32,241.64 221.58,236.12 222.84,230.75 224.10,218.23 225.36,201.21 226.62,196.32 227.88,195.28 229.14,195.84 230.40,199.01 231.65,202.34 232.91,206.52 234.17,210.89 235.43,215.62 236.69,219.87 237.95,224.12 239.21,228.79 240.47,233.03 241.73,237.35 242.99,240.74 244.24,244.55 245.50,248.51 246.76,251.69 248.02,254.62 249.28,257.17 250.54,259.40 251.80,261.09 253.06,262.52 254.32,263.97 255.58,265.45 256.83,266.35 258.09,267.61 259.35,268.72 260.61,269.16 261.87,269.80 263.13,270.62 264.39,271.17 265.65,271.81 266.91,272.71 268.17,273.51 269.42,274.00 270.68,274.79 271.94,275.06 273.20,275.52 274.46,275.87" fill="none" stroke="#2b50e6" stroke-width="1.55" stroke-linejoin="round"/>
<line x1="224.10" y1="188.60" x2="224.10" y2="288.10" stroke="#333" stroke-width="0.8" stroke-dasharray="3,2"/>
<rect x="169.70" y="188.60" width="109.20" height="99.50" fill="none" stroke="#777" stroke-width="0.8"/>
<line x1="173.74" y1="288.10" x2="173.74" y2="291.10" stroke="#777" stroke-width="0.8"/>
<text x="174.74" y="301.20" font-size="8.3" fill="#222" stroke="#222" stroke-width="0.22" text-anchor="middle">-4.0</text>
<line x1="198.92" y1="288.10" x2="198.92" y2="291.10" stroke="#777" stroke-width="0.8"/>
<text x="199.92" y="301.20" font-size="8.3" fill="#222" stroke="#222" stroke-width="0.22" text-anchor="middle">-2.0</text>
<line x1="224.10" y1="288.10" x2="224.10" y2="291.10" stroke="#777" stroke-width="0.8"/>
<text x="224.10" y="301.20" font-size="8.3" fill="#222" stroke="#222" stroke-width="0.22" text-anchor="middle">0</text>
<line x1="249.28" y1="288.10" x2="249.28" y2="291.10" stroke="#777" stroke-width="0.8"/>
<text x="249.28" y="301.20" font-size="8.3" fill="#222" stroke="#222" stroke-width="0.22" text-anchor="middle">2.0</text>
<line x1="274.46" y1="288.10" x2="274.46" y2="291.10" stroke="#777" stroke-width="0.8"/>
<text x="274.46" y="301.20" font-size="8.3" fill="#222" stroke="#222" stroke-width="0.22" text-anchor="middle">4.0</text>
<text x="223.20" y="313.40" font-size="8.6" fill="#111" stroke="#111" stroke-width="0.22" text-anchor="middle">Distance from TSS (kb)</text>
<line x1="169.70" y1="288.10" x2="166.20" y2="288.10" stroke="#777" stroke-width="0.8"/>
<text x="165.40" y="288.10" font-size="8.3" fill="#222" stroke="#222" stroke-width="0.22" text-anchor="middle" transform="rotate(-90 165.40 288.10)">0.0</text>
<line x1="169.70" y1="266.35" x2="166.20" y2="266.35" stroke="#777" stroke-width="0.8"/>
<text x="165.40" y="266.35" font-size="8.3" fill="#222" stroke="#222" stroke-width="0.22" text-anchor="middle" transform="rotate(-90 165.40 266.35)">0.5</text>
<line x1="169.70" y1="244.60" x2="166.20" y2="244.60" stroke="#777" stroke-width="0.8"/>
<text x="165.40" y="244.60" font-size="8.3" fill="#222" stroke="#222" stroke-width="0.22" text-anchor="middle" transform="rotate(-90 165.40 244.60)">1.0</text>
<line x1="169.70" y1="222.85" x2="166.20" y2="222.85" stroke="#777" stroke-width="0.8"/>
<text x="165.40" y="222.85" font-size="8.3" fill="#222" stroke="#222" stroke-width="0.22" text-anchor="middle" transform="rotate(-90 165.40 222.85)">1.5</text>
<line x1="169.70" y1="201.10" x2="166.20" y2="201.10" stroke="#777" stroke-width="0.8"/>
<text x="165.40" y="201.10" font-size="8.3" fill="#222" stroke="#222" stroke-width="0.22" text-anchor="middle" transform="rotate(-90 165.40 201.10)">2.0</text>
<line x1="173.30" y1="195.00" x2="182.70" y2="195.00" stroke="#e52a2a" stroke-width="1.6" opacity="1.0"/>
<text x="185.20" y="197.60" font-size="7.3" fill="#222" stroke="#222" stroke-width="0.22">G1</text>
<line x1="173.30" y1="201.60" x2="182.70" y2="201.60" stroke="#3fc43f" stroke-width="1.6" opacity="1.0"/>
<text x="185.20" y="204.20" font-size="7.3" fill="#222" stroke="#222" stroke-width="0.22">S</text>
<line x1="173.30" y1="208.20" x2="182.70" y2="208.20" stroke="#2b50e6" stroke-width="1.6" opacity="1.0"/>
<text x="185.20" y="210.80" font-size="7.3" fill="#222" stroke="#222" stroke-width="0.22">G2</text>
<text x="275.60" y="200.20" font-size="8.6" fill="#111" stroke="#111" stroke-width="0.22" text-anchor="end">CBX7</text>
<text x="174.50" y="238.20" font-size="8.6" fill="#333" stroke="#333" stroke-width="0.22">P&lt;10<tspan dy="-3.2" font-size="6.6">-4</tspan></text>
<polyline points="48.74,444.61 50.00,444.38 51.27,445.08 52.53,444.95 53.80,445.15 55.06,444.06 56.32,444.21 57.59,444.09 58.85,444.41 60.12,444.35 61.38,444.84 62.64,444.11 63.91,444.79 65.17,444.67 66.44,444.58 67.70,444.66 68.96,444.26 70.23,444.48 71.49,444.42 72.76,444.42 74.02,444.03 75.28,444.41 76.55,444.16 77.81,443.79 79.08,443.97 80.34,443.34 81.60,442.68 82.87,442.05 84.13,441.75 85.40,441.37 86.66,440.27 87.92,439.88 89.19,438.77 90.45,437.40 91.72,435.82 92.98,434.00 94.24,431.52 95.51,429.35 96.77,423.81 98.04,416.62 99.30,413.17 100.56,416.96 101.83,418.19 103.09,419.27 104.36,421.60 105.62,424.45 106.88,426.96 108.15,429.49 109.41,432.75 110.68,433.74 111.94,435.85 113.20,436.82 114.47,437.30 115.73,438.47 117.00,438.55 118.26,439.41 119.52,440.35 120.79,441.05 122.05,441.03 123.32,441.18 124.58,441.73 125.84,441.57 127.11,442.12 128.37,442.29 129.64,442.77 130.90,442.82 132.16,443.17 133.43,443.74 134.69,442.92 135.96,443.70 137.22,443.80 138.48,443.66 139.75,444.08 141.01,444.17 142.28,444.23 143.54,444.68 144.80,444.14 146.07,444.47 147.33,444.74 148.60,444.41 149.86,444.55" fill="none" stroke="#e52a2a" stroke-width="1.55" stroke-linejoin="round"/>
<polyline points="48.74,443.67 50.00,444.16 51.27,444.05 52.53,443.96 53.80,444.23 55.06,444.04 56.32,444.03 57.59,444.43 58.85,443.78 60.12,443.86 61.38,444.13 62.64,444.01 63.91,443.84 65.17,444.00 66.44,443.98 67.70,444.24 68.96,443.75 70.23,443.82 71.49,443.76 72.76,444.15 74.02,443.39 75.28,443.65 76.55,443.59 77.81,442.76 79.08,442.88 80.34,442.78 81.60,442.04 82.87,441.92 84.13,440.54 85.40,440.23 86.66,439.62 87.92,438.37 89.19,437.91 90.45,436.03 91.72,434.97 92.98,432.69 94.24,429.95 95.51,425.31 96.77,420.61 98.04,413.85 99.30,408.73 100.56,412.71 101.83,416.28 103.09,416.58 104.36,417.42 105.62,421.07 106.88,424.38 108.15,426.63 109.41,429.60 110.68,432.00 111.94,433.25 113.20,435.12 114.47,436.50 115.73,437.63 117.00,438.71 118.26,439.52 119.52,440.41 120.79,440.52 122.05,441.13 123.32,441.21 124.58,441.84 125.84,442.40 127.11,442.18 128.37,441.95 129.64,442.62 130.90,442.91 132.16,443.14 133.43,443.26 134.69,443.24 135.96,443.57 137.22,443.08 138.48,443.61 139.75,443.62 141.01,443.41 142.28,443.48 143.54,443.94 144.80,443.87 146.07,443.83 147.33,444.07 148.60,444.46 149.86,443.91" fill="none" stroke="#3fc43f" stroke-width="1.55" stroke-linejoin="round"/>
<polyline points="48.74,446.94 50.00,447.00 51.27,447.19 52.53,446.94 53.80,447.02 55.06,447.05 56.32,447.29 57.59,447.05 58.85,446.99 60.12,447.09 61.38,446.79 62.64,446.54 63.91,446.87 65.17,446.77 66.44,446.52 67.70,446.84 68.96,446.58 70.23,447.14 71.49,446.97 72.76,446.64 74.02,446.78 75.28,446.89 76.55,446.58 77.81,446.53 79.08,446.27 80.34,446.18 81.60,445.71 82.87,445.31 84.13,445.09 85.40,445.01 86.66,444.08 87.92,442.89 89.19,443.25 90.45,441.80 91.72,440.38 92.98,438.81 94.24,436.58 95.51,433.81 96.77,430.51 98.04,425.33 99.30,422.32 100.56,425.64 101.83,426.68 103.09,427.25 104.36,429.19 105.62,431.67 106.88,433.25 108.15,435.73 109.41,437.85 110.68,439.24 111.94,440.88 113.20,441.47 114.47,442.21 115.73,443.12 117.00,443.82 118.26,443.71 119.52,444.27 120.79,444.63 122.05,444.60 123.32,445.23 124.58,444.82 125.84,445.75 127.11,446.16 128.37,445.71 129.64,445.70 130.90,445.54 132.16,446.16 133.43,446.25 134.69,446.31 135.96,445.81 137.22,446.88 138.48,446.47 139.75,446.64 141.01,446.92 142.28,446.85 143.54,446.79 144.80,447.05 146.07,446.89 147.33,446.76 148.60,446.76 149.86,447.04" fill="none" stroke="#2b50e6" stroke-width="1.55" stroke-linejoin="round"/>
<line x1="99.30" y1="353.30" x2="99.30" y2="453.20" stroke="#333" stroke-width="0.8" stroke-dasharray="3,2"/>
<rect x="44.80" y="353.30" width="108.90" height="99.90" fill="none" stroke="#777" stroke-width="0.8"/>
<line x1="48.74" y1="453.20" x2="48.74" y2="456.20" stroke="#777" stroke-width="0.8"/>
<text x="49.74" y="466.30" font-size="8.3" fill="#222" stroke="#222" stroke-width="0.22" text-anchor="middle">-4.0</text>
<line x1="74.02" y1="453.20" x2="74.02" y2="456.20" stroke="#777" stroke-width="0.8"/>
<text x="75.02" y="466.30" font-size="8.3" fill="#222" stroke="#222" stroke-width="0.22" text-anchor="middle">-2.0</text>
<line x1="99.30" y1="453.20" x2="99.30" y2="456.20" stroke="#777" stroke-width="0.8"/>
<text x="99.30" y="466.30" font-size="8.3" fill="#222" stroke="#222" stroke-width="0.22" text-anchor="middle">0</text>
<line x1="124.58" y1="453.20" x2="124.58" y2="456.20" stroke="#777" stroke-width="0.8"/>
<text x="124.58" y="466.30" font-size="8.3" fill="#222" stroke="#222" stroke-width="0.22" text-anchor="middle">2.0</text>
<line x1="149.86" y1="453.20" x2="149.86" y2="456.20" stroke="#777" stroke-width="0.8"/>
<text x="149.86" y="466.30" font-size="8.3" fill="#222" stroke="#222" stroke-width="0.22" text-anchor="middle">4.0</text>
<text x="98.15" y="478.50" font-size="8.6" fill="#111" stroke="#111" stroke-width="0.22" text-anchor="middle">Distance from TSS (kb)</text>
<line x1="44.80" y1="426.20" x2="41.30" y2="426.20" stroke="#777" stroke-width="0.8"/>
<text x="37.20" y="426.20" font-size="8.3" fill="#222" stroke="#222" stroke-width="0.22" text-anchor="middle" transform="rotate(-90 37.20 426.20)">0.5</text>
<line x1="44.80" y1="397.40" x2="41.30" y2="397.40" stroke="#777" stroke-width="0.8"/>
<text x="37.20" y="397.40" font-size="8.3" fill="#222" stroke="#222" stroke-width="0.22" text-anchor="middle" transform="rotate(-90 37.20 397.40)">1.0</text>
<line x1="44.80" y1="368.60" x2="41.30" y2="368.60" stroke="#777" stroke-width="0.8"/>
<text x="37.20" y="368.60" font-size="8.3" fill="#222" stroke="#222" stroke-width="0.22" text-anchor="middle" transform="rotate(-90 37.20 368.60)">1.5</text>
<text x="25.50" y="403.25" font-size="8.6" fill="#111" stroke="#111" stroke-width="0.22" text-anchor="middle" transform="rotate(-90 25.50 403.25)">Normalized reads</text>
<line x1="48.40" y1="359.70" x2="57.80" y2="359.70" stroke="#e52a2a" stroke-width="1.6" opacity="0.75"/>
<text x="60.30" y="362.30" font-size="7.3" fill="#222" stroke="#222" stroke-width="0.22">G1</text>
<line x1="48.40" y1="366.30" x2="57.80" y2="366.30" stroke="#3fc43f" stroke-width="1.6" opacity="0.75"/>
<text x="60.30" y="368.90" font-size="7.3" fill="#222" stroke="#222" stroke-width="0.22">S</text>
<line x1="48.40" y1="372.90" x2="57.80" y2="372.90" stroke="#2b50e6" stroke-width="1.6" opacity="0.75"/>
<text x="60.30" y="375.50" font-size="7.3" fill="#222" stroke="#222" stroke-width="0.22">G2</text>
<text x="150.40" y="364.90" font-size="8.6" fill="#111" stroke="#111" stroke-width="0.22" text-anchor="end">RING1B</text>
<polyline points="174.40,447.83 175.65,448.19 176.90,448.22 178.15,448.60 179.40,448.13 180.65,448.18 181.90,448.22 183.15,448.06 184.40,448.03 185.65,448.29 186.90,448.24 188.15,448.16 189.40,447.95 190.65,447.96 191.90,448.27 193.15,448.22 194.40,447.88 195.65,447.72 196.90,447.99 198.15,448.08 199.40,447.75 200.65,447.98 201.90,447.78 203.15,447.61 204.40,447.75 205.65,447.82 206.90,447.68 208.15,447.90 209.40,447.79 210.65,447.83 211.90,447.74 213.15,447.74 214.40,447.61 215.65,447.54 216.90,447.34 218.15,447.22 219.40,447.06 220.65,446.76 221.90,447.18 223.15,446.63 224.40,446.87 225.65,447.08 226.90,446.97 228.15,447.04 229.40,446.98 230.65,447.45 231.90,447.33 233.15,447.45 234.40,447.86 235.65,447.86 236.90,447.60 238.15,447.61 239.40,447.57 240.65,447.70 241.90,447.75 243.15,447.82 244.40,447.65 245.65,448.03 246.90,447.93 248.15,447.86 249.40,448.23 250.65,447.74 251.90,448.13 253.15,448.02 254.40,447.64 255.65,448.18 256.90,448.14 258.15,447.79 259.40,448.26 260.65,448.16 261.90,448.00 263.15,448.02 264.40,448.01 265.65,448.05 266.90,447.89 268.15,447.95 269.40,448.03 270.65,448.25 271.90,448.26 273.15,448.47 274.40,448.02" fill="none" stroke="#e52a2a" stroke-width="1.55" stroke-linejoin="round"/>
<polyline points="174.40,449.22 175.65,449.32 176.90,449.72 178.15,449.45 179.40,449.34 180.65,449.57 181.90,449.39 183.15,449.42 184.40,449.43 185.65,449.46 186.90,449.35 188.15,449.21 189.40,449.59 190.65,449.23 191.90,449.37 193.15,449.32 194.40,449.59 195.65,449.36 196.90,449.12 198.15,449.56 199.40,449.70 200.65,449.65 201.90,449.29 203.15,448.91 204.40,449.12 205.65,449.01 206.90,449.27 208.15,449.03 209.40,449.31 210.65,449.14 211.90,449.28 213.15,449.28 214.40,449.07 215.65,449.05 216.90,448.60 218.15,448.63 219.40,448.44 220.65,448.42 221.90,448.03 223.15,448.30 224.40,448.02 225.65,448.23 226.90,448.42 228.15,448.45 229.40,448.62 230.65,448.61 231.90,448.73 233.15,448.72 234.40,448.78 235.65,448.99 236.90,449.02 238.15,448.99 239.40,449.16 240.65,448.97 241.90,448.98 243.15,449.11 244.40,448.75 245.65,449.04 246.90,449.24 248.15,449.30 249.40,449.30 250.65,449.36 251.90,449.10 253.15,449.43 254.40,449.34 255.65,449.43 256.90,449.17 258.15,449.62 259.40,449.44 260.65,449.41 261.90,449.35 263.15,449.33 264.40,449.46 265.65,449.25 266.90,449.38 268.15,449.01 269.40,449.70 270.65,449.34 271.90,449.63 273.15,449.59 274.40,449.10" fill="none" stroke="#3fc43f" stroke-width="1.55" stroke-linejoin="round"/>
<polyline points="174.40,448.93 175.65,449.13 176.90,448.97 178.15,449.30 179.40,448.87 180.65,449.27 181.90,449.00 183.15,449.01 184.40,449.13 185.65,448.48 186.90,449.07 188.15,448.88 189.40,448.76 190.65,449.15 191.90,448.69 193.15,448.93 194.40,448.72 195.65,449.04 196.90,449.04 198.15,448.64 199.40,448.74 200.65,448.78 201.90,448.68 203.15,448.67 204.40,448.94 205.65,449.10 206.90,448.98 208.15,448.98 209.40,449.02 210.65,448.72 211.90,448.67 213.15,448.54 214.40,448.41 215.65,448.41 216.90,448.25 218.15,448.02 219.40,448.02 220.65,447.75 221.90,447.38 223.15,447.24 224.40,446.93 225.65,446.27 226.90,445.24 228.15,445.03 229.40,445.37 230.65,445.94 231.90,446.44 233.15,446.44 234.40,447.62 235.65,447.21 236.90,447.46 238.15,447.53 239.40,448.04 240.65,447.60 241.90,447.90 243.15,448.15 244.40,448.16 245.65,448.36 246.90,448.28 248.15,448.36 249.40,448.21 250.65,448.35 251.90,448.47 253.15,448.37 254.40,448.43 255.65,448.52 256.90,448.85 258.15,448.44 259.40,448.84 260.65,448.84 261.90,448.71 263.15,448.62 264.40,448.48 265.65,449.04 266.90,448.50 268.15,448.48 269.40,448.86 270.65,448.82 271.90,448.89 273.15,448.90 274.40,449.03" fill="none" stroke="#2b50e6" stroke-width="1.55" stroke-linejoin="round"/>
<line x1="224.40" y1="353.30" x2="224.40" y2="453.40" stroke="#333" stroke-width="0.8" stroke-dasharray="3,2"/>
<rect x="169.70" y="353.30" width="109.40" height="100.10" fill="none" stroke="#777" stroke-width="0.8"/>
<line x1="174.40" y1="453.40" x2="174.40" y2="456.40" stroke="#777" stroke-width="0.8"/>
<text x="175.40" y="466.50" font-size="8.3" fill="#222" stroke="#222" stroke-width="0.22" text-anchor="middle">-4.0</text>
<line x1="199.40" y1="453.40" x2="199.40" y2="456.40" stroke="#777" stroke-width="0.8"/>
<text x="200.40" y="466.50" font-size="8.3" fill="#222" stroke="#222" stroke-width="0.22" text-anchor="middle">-2.0</text>
<line x1="224.40" y1="453.40" x2="224.40" y2="456.40" stroke="#777" stroke-width="0.8"/>
<text x="224.40" y="466.50" font-size="8.3" fill="#222" stroke="#222" stroke-width="0.22" text-anchor="middle">0</text>
<line x1="249.40" y1="453.40" x2="249.40" y2="456.40" stroke="#777" stroke-width="0.8"/>
<text x="249.40" y="466.50" font-size="8.3" fill="#222" stroke="#222" stroke-width="0.22" text-anchor="middle">2.0</text>
<line x1="274.40" y1="453.40" x2="274.40" y2="456.40" stroke="#777" stroke-width="0.8"/>
<text x="274.40" y="466.50" font-size="8.3" fill="#222" stroke="#222" stroke-width="0.22" text-anchor="middle">4.0</text>
<text x="223.30" y="478.70" font-size="8.6" fill="#111" stroke="#111" stroke-width="0.22" text-anchor="middle">Distance from TSS (kb)</text>
<line x1="169.70" y1="452.50" x2="166.20" y2="452.50" stroke="#777" stroke-width="0.8"/>
<text x="165.40" y="452.50" font-size="8.3" fill="#222" stroke="#222" stroke-width="0.22" text-anchor="middle" transform="rotate(-90 165.40 452.50)">0.0</text>
<line x1="169.70" y1="430.70" x2="166.20" y2="430.70" stroke="#777" stroke-width="0.8"/>
<text x="165.40" y="430.70" font-size="8.3" fill="#222" stroke="#222" stroke-width="0.22" text-anchor="middle" transform="rotate(-90 165.40 430.70)">0.5</text>
<line x1="169.70" y1="408.90" x2="166.20" y2="408.90" stroke="#777" stroke-width="0.8"/>
<text x="165.40" y="408.90" font-size="8.3" fill="#222" stroke="#222" stroke-width="0.22" text-anchor="middle" transform="rotate(-90 165.40 408.90)">1.0</text>
<line x1="169.70" y1="387.10" x2="166.20" y2="387.10" stroke="#777" stroke-width="0.8"/>
<text x="165.40" y="387.10" font-size="8.3" fill="#222" stroke="#222" stroke-width="0.22" text-anchor="middle" transform="rotate(-90 165.40 387.10)">1.5</text>
<line x1="169.70" y1="365.30" x2="166.20" y2="365.30" stroke="#777" stroke-width="0.8"/>
<text x="165.40" y="365.30" font-size="8.3" fill="#222" stroke="#222" stroke-width="0.22" text-anchor="middle" transform="rotate(-90 165.40 365.30)">2.0</text>
<line x1="173.30" y1="359.70" x2="182.70" y2="359.70" stroke="#e52a2a" stroke-width="1.6" opacity="0.75"/>
<text x="185.20" y="362.30" font-size="7.3" fill="#222" stroke="#222" stroke-width="0.22">G1</text>
<line x1="173.30" y1="366.30" x2="182.70" y2="366.30" stroke="#3fc43f" stroke-width="1.6" opacity="0.75"/>
<text x="185.20" y="368.90" font-size="7.3" fill="#222" stroke="#222" stroke-width="0.22">S</text>
<line x1="173.30" y1="372.90" x2="182.70" y2="372.90" stroke="#2b50e6" stroke-width="1.6" opacity="0.75"/>
<text x="185.20" y="375.50" font-size="7.3" fill="#222" stroke="#222" stroke-width="0.22">G2</text>
<text x="275.80" y="364.90" font-size="8.6" fill="#111" stroke="#111" stroke-width="0.22" text-anchor="end">CBX7</text>
<text x="313.60" y="184.00" font-size="12" fill="#000" stroke="#000" stroke-width="0.22" font-weight="bold">e</text>
<text x="423.30" y="202.70" font-size="8.6" fill="#111" stroke="#111" stroke-width="0.22" text-anchor="middle">RING1B+CBX7 homotypic interactions</text>
<polyline points="362.05,304.20 363.52,303.94 364.99,304.62 366.46,304.26 367.93,303.64 369.40,303.64 370.88,304.89 372.35,304.76 373.82,305.01 375.29,304.38 376.76,305.05 378.23,304.35 379.70,304.04 381.17,304.64 382.65,303.99 384.12,304.13 385.59,305.05 387.06,304.19 388.53,304.67 390.00,304.42 391.47,304.63 392.95,303.97 394.42,304.38 395.89,304.84 397.36,304.21 398.83,303.83 400.30,304.60 401.77,304.73 403.24,304.46 404.72,303.57 406.19,303.51 407.66,304.00 409.13,303.63 410.60,303.72 412.07,304.48 413.54,304.94 415.01,304.03 416.49,304.19 417.96,304.51 419.43,304.73 420.90,304.43 422.37,304.33 423.84,304.66 425.31,304.62 426.79,304.35 428.26,303.70 429.73,304.14 431.20,304.63 432.67,304.64 434.14,304.35 435.61,304.76 437.08,304.77 438.56,304.26 440.03,304.95 441.50,304.31 442.97,304.51 444.44,303.94 445.91,303.88 447.38,303.97 448.85,303.97 450.33,304.49 451.80,304.01 453.27,304.54 454.74,304.16 456.21,304.56 457.68,304.37 459.15,304.99 460.63,304.70 462.10,303.51 463.57,304.72 465.04,303.97 466.51,304.04 467.98,303.92 469.45,304.32 470.92,304.12 472.40,304.98 473.87,304.98 475.34,304.77 476.81,304.85 478.28,304.93 479.75,304.88" fill="none" stroke="#e3231f" stroke-width="1.3" stroke-linejoin="round" stroke-dasharray="1.6,2.6"/>
<polyline points="362.05,301.71 363.52,302.60 364.99,300.74 366.46,301.40 367.93,301.74 369.40,301.34 370.88,302.42 372.35,300.80 373.82,301.02 375.29,301.29 376.76,301.89 378.23,301.01 379.70,301.25 381.17,301.45 382.65,300.83 384.12,301.52 385.59,302.17 387.06,301.71 388.53,302.58 390.00,302.59 391.47,301.29 392.95,301.15 394.42,300.69 395.89,300.99 397.36,301.74 398.83,302.84 400.30,301.87 401.77,300.80 403.24,301.14 404.72,301.88 406.19,301.95 407.66,302.53 409.13,302.63 410.60,302.88 412.07,300.89 413.54,301.50 415.01,302.71 416.49,302.05 417.96,302.94 419.43,302.55 420.90,301.28 422.37,301.48 423.84,301.89 425.31,302.39 426.79,301.47 428.26,300.73 429.73,302.00 431.20,302.89 432.67,302.92 434.14,302.86 435.61,300.72 437.08,301.74 438.56,301.02 440.03,302.65 441.50,302.43 442.97,301.38 444.44,300.88 445.91,302.23 447.38,302.90 448.85,300.96 450.33,302.35 451.80,301.26 453.27,302.68 454.74,301.37 456.21,301.01 457.68,301.29 459.15,302.19 460.63,301.29 462.10,302.72 463.57,302.30 465.04,302.04 466.51,300.92 467.98,302.69 469.45,300.92 470.92,301.12 472.40,300.69 473.87,302.17 475.34,302.56 476.81,302.48 478.28,301.04 479.75,300.71" fill="none" stroke="#2a4de0" stroke-width="1.3" stroke-linejoin="round" stroke-dasharray="1.6,2.6"/>
<polyline points="361.53,299.13 363.01,299.11 364.48,299.24 365.96,298.79 367.43,298.98 368.91,298.62 370.38,298.50 371.86,299.56 373.33,298.27 374.81,298.14 376.28,297.89 377.75,297.29 379.23,296.51 380.70,296.24 382.18,296.90 383.65,295.47 385.13,293.95 386.60,293.96 388.08,293.02 389.55,292.30 391.03,291.57 392.50,292.24 393.97,292.00 395.45,290.47 396.92,290.24 398.40,289.83 399.87,289.22 401.35,288.51 402.82,287.59 404.30,286.02 405.77,285.60 407.25,285.08 408.72,284.68 410.19,283.24 411.67,281.92 413.14,280.88 414.62,280.19 416.09,278.87 417.57,277.79 419.04,276.57 420.52,274.65 421.99,275.37 423.47,277.12 424.94,279.20 426.41,279.35 427.89,280.33 429.36,281.24 430.84,283.10 432.31,284.14 433.79,284.22 435.26,286.09 436.74,287.65 438.21,286.96 439.69,285.79 441.16,285.24 442.63,288.20 444.11,288.40 445.58,289.37 447.06,290.04 448.53,290.79 450.01,292.72 451.48,292.38 452.96,293.64 454.43,295.29 455.91,294.83 457.38,295.89 458.85,296.76 460.33,297.09 461.80,297.92 463.28,299.00 464.75,298.77 466.23,299.43 467.70,298.63 469.18,297.62 470.65,298.70 472.13,297.17 473.60,297.21 475.07,297.73 476.55,299.07 478.02,298.26 479.50,299.66" fill="none" stroke="#e3231f" stroke-width="1.7" stroke-linejoin="round"/>
<polyline points="361.53,293.32 363.01,293.63 364.48,293.15 365.96,292.69 367.43,292.81 368.91,292.52 370.38,292.70 371.86,292.56 373.33,291.47 374.81,290.98 376.28,290.69 377.75,291.06 379.23,290.01 380.70,288.71 382.18,287.56 383.65,286.23 385.13,284.90 386.60,282.84 388.08,281.85 389.55,281.52 391.03,282.20 392.50,281.38 393.97,280.05 395.45,277.83 396.92,276.56 398.40,274.83 399.87,273.37 401.35,272.04 402.82,271.82 404.30,270.53 405.77,268.39 407.25,267.94 408.72,267.43 410.19,263.91 411.67,262.36 413.14,259.87 414.62,258.64 416.09,256.73 417.57,253.37 419.04,248.10 420.52,245.14 421.99,245.48 423.47,248.72 424.94,251.81 426.41,252.68 427.89,254.77 429.36,256.35 430.84,259.48 432.31,261.13 433.79,263.40 435.26,265.51 436.74,267.64 438.21,269.13 439.69,268.29 441.16,267.41 442.63,269.54 444.11,272.03 445.58,273.47 447.06,274.07 448.53,275.84 450.01,276.92 451.48,279.68 452.96,280.43 454.43,281.86 455.91,283.91 457.38,284.76 458.85,288.17 460.33,288.56 461.80,289.46 463.28,289.66 464.75,289.61 466.23,290.41 467.70,290.62 469.18,291.42 470.65,291.01 472.13,289.86 473.60,289.74 475.07,290.51 476.55,291.55 478.02,291.86 479.50,292.57" fill="none" stroke="#1d6cc8" stroke-width="1.7" stroke-linejoin="round"/>
<line x1="420.90" y1="210.70" x2="420.90" y2="315.80" stroke="#888" stroke-width="0.8" stroke-dasharray="1,1"/>
<rect x="358.00" y="210.70" width="126.40" height="105.10" fill="none" stroke="#333" stroke-width="0.8"/>
<line x1="362.05" y1="315.80" x2="362.05" y2="318.80" stroke="#333" stroke-width="0.8"/>
<text x="363.05" y="330.20" font-size="8.6" fill="#111" stroke="#111" stroke-width="0.22" text-anchor="middle">-40</text>
<line x1="391.47" y1="315.80" x2="391.47" y2="318.80" stroke="#333" stroke-width="0.8"/>
<text x="392.47" y="330.20" font-size="8.6" fill="#111" stroke="#111" stroke-width="0.22" text-anchor="middle">-20</text>
<line x1="420.90" y1="315.80" x2="420.90" y2="318.80" stroke="#333" stroke-width="0.8"/>
<text x="420.90" y="330.20" font-size="8.6" fill="#111" stroke="#111" stroke-width="0.22" text-anchor="middle">0</text>
<line x1="450.33" y1="315.80" x2="450.33" y2="318.80" stroke="#333" stroke-width="0.8"/>
<text x="450.33" y="330.20" font-size="8.6" fill="#111" stroke="#111" stroke-width="0.22" text-anchor="middle">20</text>
<line x1="479.75" y1="315.80" x2="479.75" y2="318.80" stroke="#333" stroke-width="0.8"/>
<text x="479.75" y="330.20" font-size="8.6" fill="#111" stroke="#111" stroke-width="0.22" text-anchor="middle">40</text>
<line x1="358.00" y1="312.00" x2="354.50" y2="312.00" stroke="#333" stroke-width="0.8"/>
<text x="353.00" y="312.00" font-size="8.6" fill="#111" stroke="#111" stroke-width="0.22" text-anchor="middle" transform="rotate(-90 353.00 312.00)">0.0</text>
<line x1="358.00" y1="279.50" x2="354.50" y2="279.50" stroke="#333" stroke-width="0.8"/>
<text x="353.00" y="279.50" font-size="8.6" fill="#111" stroke="#111" stroke-width="0.22" text-anchor="middle" transform="rotate(-90 353.00 279.50)">0.4</text>
<line x1="358.00" y1="247.00" x2="354.50" y2="247.00" stroke="#333" stroke-width="0.8"/>
<text x="353.00" y="247.00" font-size="8.6" fill="#111" stroke="#111" stroke-width="0.22" text-anchor="middle" transform="rotate(-90 353.00 247.00)">0.8</text>
<line x1="358.00" y1="214.50" x2="354.50" y2="214.50" stroke="#333" stroke-width="0.8"/>
<text x="353.00" y="214.50" font-size="8.6" fill="#111" stroke="#111" stroke-width="0.22" text-anchor="middle" transform="rotate(-90 353.00 214.50)">1.2</text>
<line x1="358.00" y1="295.75" x2="356.00" y2="295.75" stroke="#333" stroke-width="0.8"/>
<line x1="358.00" y1="263.25" x2="356.00" y2="263.25" stroke="#333" stroke-width="0.8"/>
<line x1="358.00" y1="230.75" x2="356.00" y2="230.75" stroke="#333" stroke-width="0.8"/>
<text x="342.00" y="265.80" font-size="8.6" fill="#111" stroke="#111" stroke-width="0.22" text-anchor="middle" transform="rotate(-90 342.00 265.80)">Normalized reads</text>
<text x="420.40" y="344.20" font-size="8.6" fill="#111" stroke="#111" stroke-width="0.22" text-anchor="middle">Distance from summit [RE frags]</text>
<text x="360.80" y="222.70" font-size="8.6" fill="#111" stroke="#111" stroke-width="0.22">N_ints = 151</text>
<text x="360.80" y="231.60" font-size="8.6" fill="#111" stroke="#111" stroke-width="0.22">N_prom = 34</text>
<line x1="429.30" y1="218.50" x2="442.10" y2="218.50" stroke="#e3231f" stroke-width="1.8"/>
<text x="444.50" y="221.20" font-size="7.3" fill="#111" stroke="#111" stroke-width="0.22">G1</text>
<line x1="429.30" y1="225.00" x2="442.10" y2="225.00" stroke="#1d6cc8" stroke-width="1.8"/>
<text x="444.50" y="227.70" font-size="7.3" fill="#111" stroke="#111" stroke-width="0.22">G2</text>
<line x1="429.30" y1="232.60" x2="442.10" y2="232.60" stroke="#e3231f" stroke-width="1.2" stroke-dasharray="1.6,1.6"/>
<text x="444.50" y="235.30" font-size="7.3" fill="#111" stroke="#111" stroke-width="0.22">Control G1</text>
<line x1="429.30" y1="239.40" x2="442.10" y2="239.40" stroke="#2a4de0" stroke-width="1.2" stroke-dasharray="1.6,1.6"/>
<text x="444.50" y="242.10" font-size="7.3" fill="#111" stroke="#111" stroke-width="0.22">Control G2</text>
<text x="507.60" y="183.30" font-size="12" fill="#000" stroke="#000" stroke-width="0.22" font-weight="bold">f</text>
<line x1="550.90" y1="204.10" x2="550.90" y2="302.60" stroke="#111" stroke-width="1.0"/>
<line x1="550.90" y1="302.60" x2="653.70" y2="302.60" stroke="#111" stroke-width="1.0"/>
<line x1="546.90" y1="302.60" x2="550.90" y2="302.60" stroke="#111" stroke-width="1.0"/>
<text x="543.40" y="305.70" font-size="8.6" fill="#111" stroke="#111" stroke-width="0.22" text-anchor="end">0</text>
<line x1="546.90" y1="282.98" x2="550.90" y2="282.98" stroke="#111" stroke-width="1.0"/>
<text x="543.40" y="286.08" font-size="8.6" fill="#111" stroke="#111" stroke-width="0.22" text-anchor="end">50</text>
<line x1="546.90" y1="263.36" x2="550.90" y2="263.36" stroke="#111" stroke-width="1.0"/>
<text x="543.40" y="266.46" font-size="8.6" fill="#111" stroke="#111" stroke-width="0.22" text-anchor="end">100</text>
<line x1="546.90" y1="243.74" x2="550.90" y2="243.74" stroke="#111" stroke-width="1.0"/>
<text x="543.40" y="246.84" font-size="8.6" fill="#111" stroke="#111" stroke-width="0.22" text-anchor="end">150</text>
<line x1="546.90" y1="224.12" x2="550.90" y2="224.12" stroke="#111" stroke-width="1.0"/>
<text x="543.40" y="227.22" font-size="8.6" fill="#111" stroke="#111" stroke-width="0.22" text-anchor="end">200</text>
<line x1="546.90" y1="204.50" x2="550.90" y2="204.50" stroke="#111" stroke-width="1.0"/>
<text x="543.40" y="207.60" font-size="8.6" fill="#111" stroke="#111" stroke-width="0.22" text-anchor="end">250</text>
<line x1="575.90" y1="302.60" x2="575.90" y2="306.10" stroke="#111" stroke-width="1.0"/>
<line x1="630.10" y1="302.60" x2="630.10" y2="306.10" stroke="#111" stroke-width="1.0"/>
<line x1="565.40" y1="250.41" x2="565.40" y2="246.29" stroke="#111" stroke-width="1.0"/>
<line x1="561.90" y1="246.29" x2="568.90" y2="246.29" stroke="#111" stroke-width="1.0"/>
<rect x="558.40" y="250.41" width="14.00" height="52.19" fill="#f20d0d" stroke="#111" stroke-width="0.9"/>
<line x1="587.60" y1="220.59" x2="587.60" y2="213.53" stroke="#111" stroke-width="1.0"/>
<line x1="584.10" y1="213.53" x2="591.10" y2="213.53" stroke="#111" stroke-width="1.0"/>
<rect x="580.60" y="220.59" width="14.00" height="82.01" fill="#1565c8" stroke="#111" stroke-width="0.9"/>
<line x1="618.70" y1="271.99" x2="618.70" y2="269.64" stroke="#111" stroke-width="1.0"/>
<line x1="615.20" y1="269.64" x2="622.20" y2="269.64" stroke="#111" stroke-width="1.0"/>
<rect x="611.70" y="271.99" width="14.00" height="30.61" fill="#f20d0d" stroke="#111" stroke-width="0.9"/>
<line x1="640.60" y1="265.32" x2="640.60" y2="262.77" stroke="#111" stroke-width="1.0"/>
<line x1="637.10" y1="262.77" x2="644.10" y2="262.77" stroke="#111" stroke-width="1.0"/>
<rect x="633.60" y="265.32" width="14.00" height="37.28" fill="#1565c8" stroke="#111" stroke-width="0.9"/>
<path d="M 563.5 210.2 L 563.5 205.9 L 587.1 205.9 L 587.1 210.2" fill="none" stroke="#111" stroke-width="0.8"/>
<text x="574.30" y="207.00" font-size="8.3" fill="#111" stroke="#111" stroke-width="0.22" text-anchor="middle">****</text>
<text x="573.10" y="315.00" font-size="8.6" fill="#111" stroke="#111" stroke-width="0.22" text-anchor="middle">RING1B+CBX7</text>
<text x="631.40" y="315.00" font-size="8.6" fill="#111" stroke="#111" stroke-width="0.22" text-anchor="middle">Control</text>
<line x1="549.50" y1="321.50" x2="656.00" y2="321.50" stroke="#888" stroke-width="0.8"/>
<text x="604.80" y="333.00" font-size="8.6" fill="#111" stroke="#111" stroke-width="0.22" text-anchor="middle">Promoters</text>
<text x="523.00" y="253.60" font-size="8.6" fill="#111" stroke="#111" stroke-width="0.22" text-anchor="middle" transform="rotate(-90 523.00 253.60)">Normalized reads</text>
<rect x="645.00" y="208.00" width="10.90" height="5.80" fill="#f20d0d" stroke="#111" stroke-width="0.8"/>
<rect x="645.00" y="223.40" width="10.90" height="5.80" fill="#1565c8" stroke="#111" stroke-width="0.8"/>
<text x="660.00" y="214.00" font-size="8.6" fill="#111" stroke="#111" stroke-width="0.22">G1</text>
<text x="660.00" y="229.40" font-size="8.6" fill="#111" stroke="#111" stroke-width="0.22">G2</text>
<text x="296.2" y="378.9" font-size="12" font-weight="bold" fill="#000">g</text>
<text x="444.40" y="370.40" font-size="8.6" fill="#111" stroke="#111" stroke-width="0.22">1 Mb</text>
<line x1="465.70" y1="368.30" x2="617.80" y2="368.30" stroke="#111" stroke-width="1.0"/>
<line x1="465.70" y1="365.20" x2="465.70" y2="371.40" stroke="#111" stroke-width="1.0"/>
<line x1="617.80" y1="365.20" x2="617.80" y2="371.40" stroke="#111" stroke-width="1.0"/>
<text x="522.0" y="379.7" font-size="8.6" fill="#111" stroke="#111" stroke-width="0.22"><tspan font-style="italic">Nkx2-2</tspan> VP</text>
<polygon points="534.4,382.6 541.8,382.6 538.1,393.3" fill="#000"/>
<text x="592.90" y="380.90" font-size="6.15" fill="#111" stroke="#111" stroke-width="0.22">chr2:146,036,077-148,278,426</text>
<path d="M 394 398.4 C 430 385.7, 500 385.7, 537.7 396.9" fill="none" stroke="#777" stroke-width="0.7"/>
<path d="M 488 398.6 C 495 386, 520 380, 537.7 396.9" fill="none" stroke="#777" stroke-width="0.7"/>
<path d="M 522.3 395.5 C 524 381, 535 381, 537.7 396.9" fill="none" stroke="#777" stroke-width="0.7"/>
<path d="M 537.7 396.9 C 545 383, 558 384, 564.3 398.6" fill="none" stroke="#777" stroke-width="0.7"/>
<path d="M 537.7 396.9 C 580 385.5, 640 383.9, 663.8 398.8" fill="none" stroke="#777" stroke-width="0.7"/>
<text x="360.80" y="393.20" font-size="8.6" fill="#8a8a8a" stroke="#8a8a8a" stroke-width="0.22">[0-6.5]</text>
<text x="360.80" y="416.60" font-size="8.6" fill="#8a8a8a" stroke="#8a8a8a" stroke-width="0.22">[0-6.5]</text>
<text x="360.80" y="436.20" font-size="8.6" fill="#8a8a8a" stroke="#8a8a8a" stroke-width="0.22">[0-200]</text>
<text x="360.80" y="454.90" font-size="8.6" fill="#8a8a8a" stroke="#8a8a8a" stroke-width="0.22">[0-200]</text>
<text x="347.40" y="401.00" font-size="8.6" fill="#e8151b" stroke="#e8151b" stroke-width="0.22">G1</text>
<text x="347.40" y="420.30" font-size="8.6" fill="#2f6fe4" stroke="#2f6fe4" stroke-width="0.22">G2</text>
<text x="347.40" y="440.10" font-size="8.6" fill="#e8151b" stroke="#e8151b" stroke-width="0.22">G1</text>
<text x="347.40" y="459.40" font-size="8.6" fill="#2f6fe4" stroke="#2f6fe4" stroke-width="0.22">G2</text>
<text x="338.50" y="411.30" font-size="8.6" fill="#111" stroke="#111" stroke-width="0.22" text-anchor="end">CBX7</text>
<text x="339.80" y="448.90" font-size="8.6" fill="#111" stroke="#111" stroke-width="0.22" text-anchor="end">Capture-C</text>
<line x1="342.60" y1="395.30" x2="342.60" y2="418.10" stroke="#111" stroke-width="1.2"/>
<line x1="342.60" y1="434.20" x2="342.60" y2="457.40" stroke="#111" stroke-width="1.2"/>
<path d="M 363.00 406.90 L 363.00 406.90 L 363.50 406.90 L 364.00 406.90 L 364.50 406.90 L 365.00 406.90 L 365.50 406.90 L 366.00 406.90 L 366.50 406.90 L 367.00 406.90 L 367.50 406.90 L 368.00 406.90 L 368.50 406.90 L 369.00 406.90 L 369.50 406.90 L 370.00 406.90 L 370.50 406.90 L 371.00 406.90 L 371.50 406.90 L 372.00 406.90 L 372.50 406.90 L 373.00 406.90 L 373.50 406.90 L 374.00 406.90 L 374.50 406.90 L 375.00 406.90 L 375.50 406.90 L 376.00 406.90 L 376.50 406.90 L 377.00 406.90 L 377.50 406.90 L 378.00 406.90 L 378.50 406.90 L 379.00 406.90 L 379.50 406.90 L 380.00 406.90 L 380.50 406.90 L 381.00 406.90 L 381.50 406.90 L 382.00 406.90 L 382.50 406.90 L 383.00 406.90 L 383.50 406.90 L 384.00 406.90 L 384.50 406.90 L 385.00 406.90 L 385.50 406.90 L 386.00 406.90 L 386.50 406.90 L 387.00 406.90 L 387.50 406.90 L 388.00 406.90 L 388.50 406.90 L 389.00 406.90 L 389.50 406.90 L 390.00 406.89 L 390.50 406.79 L 391.00 406.33 L 391.50 405.09 L 392.00 404.11 L 392.50 405.22 L 393.00 406.22 L 393.50 406.78 L 394.00 406.89 L 394.50 406.90 L 395.00 406.90 L 395.50 406.90 L 396.00 406.90 L 396.50 406.90 L 397.00 406.90 L 397.50 406.90 L 398.00 406.90 L 398.50 406.90 L 399.00 406.90 L 399.50 406.90 L 400.00 406.90 L 400.50 406.90 L 401.00 406.90 L 401.50 406.90 L 402.00 406.90 L 402.50 406.90 L 403.00 406.90 L 403.50 406.90 L 404.00 406.90 L 404.50 406.90 L 405.00 406.90 L 405.50 406.90 L 406.00 406.90 L 406.50 406.90 L 407.00 406.90 L 407.50 406.90 L 408.00 406.90 L 408.50 406.90 L 409.00 406.90 L 409.50 406.90 L 410.00 406.90 L 410.50 406.90 L 411.00 406.90 L 411.50 406.90 L 412.00 406.90 L 412.50 406.90 L 413.00 406.90 L 413.50 406.90 L 414.00 406.90 L 414.50 406.90 L 415.00 406.90 L 415.50 406.90 L 416.00 406.90 L 416.50 406.90 L 417.00 406.90 L 417.50 406.90 L 418.00 406.90 L 418.50 406.90 L 419.00 406.90 L 419.50 406.90 L 420.00 406.90 L 420.50 406.90 L 421.00 406.90 L 421.50 406.90 L 422.00 406.90 L 422.50 406.90 L 423.00 406.90 L 423.50 406.90 L 424.00 406.90 L 424.50 406.90 L 425.00 406.90 L 425.50 406.90 L 426.00 406.90 L 426.50 406.90 L 427.00 406.90 L 427.50 406.90 L 428.00 406.90 L 428.50 406.90 L 429.00 406.90 L 429.50 406.90 L 430.00 406.90 L 430.50 406.90 L 431.00 406.90 L 431.50 406.90 L 432.00 406.90 L 432.50 406.90 L 433.00 406.90 L 433.50 406.90 L 434.00 406.90 L 434.50 406.90 L 435.00 406.90 L 435.50 406.90 L 436.00 406.90 L 436.50 406.90 L 437.00 406.90 L 437.50 406.90 L 438.00 406.90 L 438.50 406.90 L 439.00 406.90 L 439.50 406.90 L 440.00 406.90 L 440.50 406.90 L 441.00 406.90 L 441.50 406.90 L 442.00 406.90 L 442.50 406.90 L 443.00 406.90 L 443.50 406.90 L 444.00 406.90 L 444.50 406.90 L 445.00 406.90 L 445.50 406.90 L 446.00 406.90 L 446.50 406.90 L 447.00 406.90 L 447.50 406.90 L 448.00 406.90 L 448.50 406.90 L 449.00 406.90 L 449.50 406.90 L 450.00 406.90 L 450.50 406.90 L 451.00 406.90 L 451.50 406.90 L 452.00 406.90 L 452.50 406.90 L 453.00 406.90 L 453.50 406.90 L 454.00 406.90 L 454.50 406.90 L 455.00 406.90 L 455.50 406.90 L 456.00 406.90 L 456.50 406.90 L 457.00 406.90 L 457.50 406.90 L 458.00 406.90 L 458.50 406.90 L 459.00 406.90 L 459.50 406.90 L 460.00 406.90 L 460.50 406.90 L 461.00 406.90 L 461.50 406.90 L 462.00 406.90 L 462.50 406.90 L 463.00 406.90 L 463.50 406.90 L 464.00 406.90 L 464.50 406.90 L 465.00 406.90 L 465.50 406.90 L 466.00 406.90 L 466.50 406.90 L 467.00 406.90 L 467.50 406.90 L 468.00 406.90 L 468.50 406.90 L 469.00 406.90 L 469.50 406.90 L 470.00 406.90 L 470.50 406.90 L 471.00 406.90 L 471.50 406.90 L 472.00 406.90 L 472.50 406.90 L 473.00 406.90 L 473.50 406.90 L 474.00 406.90 L 474.50 406.90 L 475.00 406.90 L 475.50 406.90 L 476.00 406.90 L 476.50 406.90 L 477.00 406.90 L 477.50 406.90 L 478.00 406.90 L 478.50 406.90 L 479.00 406.90 L 479.50 406.90 L 480.00 406.90 L 480.50 406.90 L 481.00 406.90 L 481.50 406.90 L 482.00 406.90 L 482.50 406.90 L 483.00 406.90 L 483.50 406.89 L 484.00 406.77 L 484.50 405.85 L 485.00 404.00 L 485.50 402.77 L 486.00 405.21 L 486.50 406.65 L 487.00 406.89 L 487.50 406.90 L 488.00 406.90 L 488.50 406.90 L 489.00 406.90 L 489.50 406.90 L 490.00 406.90 L 490.50 406.90 L 491.00 406.90 L 491.50 406.90 L 492.00 406.90 L 492.50 406.90 L 493.00 406.90 L 493.50 406.90 L 494.00 406.90 L 494.50 406.90 L 495.00 406.90 L 495.50 406.90 L 496.00 406.90 L 496.50 406.90 L 497.00 406.90 L 497.50 406.90 L 498.00 406.90 L 498.50 406.90 L 499.00 406.90 L 499.50 406.90 L 500.00 406.90 L 500.50 406.90 L 501.00 406.90 L 501.50 406.90 L 502.00 406.90 L 502.50 406.90 L 503.00 406.90 L 503.50 406.90 L 504.00 406.90 L 504.50 406.90 L 505.00 406.90 L 505.50 406.90 L 506.00 406.90 L 506.50 406.90 L 507.00 406.90 L 507.50 406.90 L 508.00 406.90 L 508.50 406.90 L 509.00 406.90 L 509.50 406.90 L 510.00 406.90 L 510.50 406.90 L 511.00 406.90 L 511.50 406.90 L 512.00 406.90 L 512.50 406.90 L 513.00 406.90 L 513.50 406.90 L 514.00 406.90 L 514.50 406.90 L 515.00 406.90 L 515.50 406.90 L 516.00 406.90 L 516.50 406.90 L 517.00 406.90 L 517.50 406.90 L 518.00 406.90 L 518.50 406.90 L 519.00 406.90 L 519.50 406.90 L 520.00 406.90 L 520.50 406.88 L 521.00 406.48 L 521.50 404.19 L 522.00 399.92 L 522.50 401.03 L 523.00 405.05 L 523.50 406.65 L 524.00 406.89 L 524.50 406.90 L 525.00 406.90 L 525.50 406.90 L 526.00 406.90 L 526.50 406.90 L 527.00 406.90 L 527.50 406.90 L 528.00 406.90 L 528.50 406.90 L 529.00 406.90 L 529.50 406.90 L 530.00 406.90 L 530.50 406.90 L 531.00 406.90 L 531.50 406.90 L 532.00 406.90 L 532.50 406.90 L 533.00 406.90 L 533.50 406.90 L 534.00 406.90 L 534.50 406.90 L 535.00 406.90 L 535.50 406.90 L 536.00 406.90 L 536.50 400.02 L 537.00 400.32 L 537.50 400.52 L 538.00 400.15 L 538.50 399.16 L 539.00 399.78 L 539.50 398.94 L 540.00 399.50 L 540.50 406.90 L 541.00 406.90 L 541.50 406.90 L 542.00 406.90 L 542.50 406.90 L 543.00 406.90 L 543.50 406.90 L 544.00 406.90 L 544.50 406.90 L 545.00 406.90 L 545.50 406.90 L 546.00 406.90 L 546.50 406.90 L 547.00 406.90 L 547.50 406.90 L 548.00 406.90 L 548.50 406.90 L 549.00 406.90 L 549.50 406.90 L 550.00 406.90 L 550.50 406.90 L 551.00 406.90 L 551.50 406.90 L 552.00 406.90 L 552.50 406.90 L 553.00 406.90 L 553.50 406.90 L 554.00 406.90 L 554.50 406.90 L 555.00 406.90 L 555.50 406.90 L 556.00 406.90 L 556.50 406.90 L 557.00 406.90 L 557.50 406.90 L 558.00 406.90 L 558.50 406.90 L 559.00 406.90 L 559.50 406.90 L 560.00 406.90 L 560.50 406.90 L 561.00 406.90 L 561.50 406.90 L 562.00 406.90 L 562.50 406.90 L 563.00 406.90 L 563.50 406.90 L 564.00 406.90 L 564.50 406.87 L 565.00 406.64 L 565.50 405.77 L 566.00 404.00 L 566.50 402.63 L 567.00 404.43 L 567.50 406.07 L 568.00 406.77 L 568.50 406.89 L 569.00 406.90 L 569.50 406.90 L 570.00 406.90 L 570.50 406.90 L 571.00 406.90 L 571.50 406.90 L 572.00 406.90 L 572.50 406.90 L 573.00 406.90 L 573.50 406.90 L 574.00 406.90 L 574.50 406.90 L 575.00 406.90 L 575.50 406.90 L 576.00 406.90 L 576.50 406.90 L 577.00 406.90 L 577.50 406.90 L 578.00 406.90 L 578.50 406.90 L 579.00 406.90 L 579.50 406.90 L 580.00 406.90 L 580.50 406.90 L 581.00 406.90 L 581.50 406.90 L 582.00 406.90 L 582.50 406.90 L 583.00 406.90 L 583.50 406.90 L 584.00 406.90 L 584.50 406.90 L 585.00 406.90 L 585.50 406.90 L 586.00 406.90 L 586.50 406.90 L 587.00 406.90 L 587.50 406.90 L 588.00 406.90 L 588.50 406.90 L 589.00 406.90 L 589.50 406.90 L 590.00 406.90 L 590.50 406.90 L 591.00 406.90 L 591.50 406.90 L 592.00 406.90 L 592.50 406.90 L 593.00 406.90 L 593.50 406.90 L 594.00 406.90 L 594.50 406.90 L 595.00 406.90 L 595.50 406.90 L 596.00 406.90 L 596.50 406.90 L 597.00 406.90 L 597.50 406.90 L 598.00 406.90 L 598.50 406.90 L 599.00 406.90 L 599.50 406.90 L 600.00 406.90 L 600.50 406.90 L 601.00 406.90 L 601.50 406.90 L 602.00 406.90 L 602.50 406.90 L 603.00 406.90 L 603.50 406.90 L 604.00 406.90 L 604.50 406.90 L 605.00 406.90 L 605.50 406.90 L 606.00 406.90 L 606.50 406.90 L 607.00 406.90 L 607.50 406.90 L 608.00 406.90 L 608.50 406.90 L 609.00 406.90 L 609.50 406.90 L 610.00 406.90 L 610.50 406.90 L 611.00 406.90 L 611.50 406.90 L 612.00 406.90 L 612.50 406.90 L 613.00 406.90 L 613.50 406.90 L 614.00 406.90 L 614.50 406.90 L 615.00 406.90 L 615.50 406.90 L 616.00 406.90 L 616.50 406.90 L 617.00 406.90 L 617.50 406.90 L 618.00 406.90 L 618.50 406.90 L 619.00 406.90 L 619.50 406.90 L 620.00 406.90 L 620.50 406.90 L 621.00 406.90 L 621.50 406.90 L 622.00 406.90 L 622.50 406.90 L 623.00 406.90 L 623.50 406.90 L 624.00 406.90 L 624.50 406.90 L 625.00 406.90 L 625.50 406.90 L 626.00 406.90 L 626.50 406.90 L 627.00 406.90 L 627.50 406.90 L 628.00 406.90 L 628.50 406.90 L 629.00 406.90 L 629.50 406.90 L 630.00 406.90 L 630.50 406.90 L 631.00 406.90 L 631.50 406.90 L 632.00 406.90 L 632.50 406.90 L 633.00 406.90 L 633.50 406.90 L 634.00 406.90 L 634.50 406.90 L 635.00 406.90 L 635.50 406.90 L 636.00 406.90 L 636.50 406.90 L 637.00 406.90 L 637.50 406.90 L 638.00 406.90 L 638.50 406.90 L 639.00 406.90 L 639.50 406.90 L 640.00 406.90 L 640.50 406.90 L 641.00 406.90 L 641.50 406.90 L 642.00 406.90 L 642.50 406.90 L 643.00 406.90 L 643.50 406.90 L 644.00 406.90 L 644.50 406.90 L 645.00 406.90 L 645.50 406.90 L 646.00 406.90 L 646.50 406.90 L 647.00 406.90 L 647.50 406.90 L 648.00 406.90 L 648.50 406.90 L 649.00 406.90 L 649.50 406.90 L 650.00 406.90 L 650.50 406.90 L 651.00 406.90 L 651.50 406.90 L 652.00 406.90 L 652.50 406.90 L 653.00 406.90 L 653.50 406.90 L 654.00 406.90 L 654.50 406.90 L 655.00 406.90 L 655.50 406.90 L 656.00 406.90 L 656.50 406.90 L 657.00 406.90 L 657.50 406.90 L 658.00 406.90 L 658.50 406.90 L 659.00 406.90 L 659.50 406.90 L 660.00 406.90 L 660.50 406.90 L 661.00 406.90 L 661.50 406.90 L 662.00 406.90 L 662.50 406.90 L 663.00 406.90 L 663.50 406.90 L 664.00 406.90 L 664.50 406.90 L 665.00 406.90 L 665.50 406.90 L 666.00 406.90 L 666.50 406.90 L 667.00 406.87 L 667.50 406.72 L 668.00 406.08 L 668.50 404.54 L 669.00 402.26 L 669.50 400.79 L 670.00 402.04 L 670.50 404.08 L 671.00 405.67 L 671.50 406.49 L 672.00 406.83 L 672.50 406.89 L 673.00 406.90 L 673.50 406.90 L 674.00 406.90 L 674.50 406.90 L 675.00 406.90 L 675.50 406.90 L 676.00 406.90 L 676.50 406.90 L 677.00 406.90 L 677.50 406.90 L 678.00 406.90 L 678.50 406.90 L 679.00 406.90 L 679.50 406.90 L 680.00 406.90 L 680.50 406.90 L 681.00 406.90 L 681.50 406.90 L 682.00 406.90 L 682.50 406.90 L 683.00 406.90 L 683.50 406.90 L 684.00 406.90 L 684.50 406.90 L 685.00 406.90 L 685.00 406.90 Z" fill="#000" stroke="none"/>
<path d="M 363.00 426.50 L 363.00 426.50 L 363.50 426.50 L 364.00 426.50 L 364.50 426.50 L 365.00 426.50 L 365.50 426.50 L 366.00 426.50 L 366.50 426.50 L 367.00 426.50 L 367.50 426.50 L 368.00 426.50 L 368.50 426.50 L 369.00 426.50 L 369.50 426.50 L 370.00 426.50 L 370.50 426.50 L 371.00 426.50 L 371.50 426.50 L 372.00 426.50 L 372.50 426.50 L 373.00 426.50 L 373.50 426.50 L 374.00 426.50 L 374.50 426.50 L 375.00 426.50 L 375.50 426.50 L 376.00 426.50 L 376.50 426.50 L 377.00 426.50 L 377.50 426.50 L 378.00 426.50 L 378.50 426.50 L 379.00 426.50 L 379.50 426.50 L 380.00 426.50 L 380.50 426.50 L 381.00 426.50 L 381.50 426.50 L 382.00 426.50 L 382.50 426.50 L 383.00 426.50 L 383.50 426.50 L 384.00 426.50 L 384.50 426.50 L 385.00 426.50 L 385.50 426.50 L 386.00 426.50 L 386.50 426.50 L 387.00 426.50 L 387.50 426.50 L 388.00 426.50 L 388.50 426.50 L 389.00 426.50 L 389.50 426.50 L 390.00 426.48 L 390.50 426.14 L 391.00 423.95 L 391.50 418.98 L 392.00 417.16 L 392.50 422.96 L 393.00 425.87 L 393.50 426.47 L 394.00 426.50 L 394.50 426.50 L 395.00 426.50 L 395.50 426.50 L 396.00 426.50 L 396.50 426.50 L 397.00 426.50 L 397.50 426.50 L 398.00 426.50 L 398.50 426.50 L 399.00 426.50 L 399.50 426.50 L 400.00 426.50 L 400.50 426.50 L 401.00 426.50 L 401.50 426.50 L 402.00 426.50 L 402.50 426.50 L 403.00 426.50 L 403.50 426.50 L 404.00 426.50 L 404.50 426.50 L 405.00 426.50 L 405.50 426.50 L 406.00 426.50 L 406.50 426.50 L 407.00 426.50 L 407.50 426.50 L 408.00 426.50 L 408.50 426.50 L 409.00 426.50 L 409.50 426.50 L 410.00 426.50 L 410.50 426.50 L 411.00 426.50 L 411.50 426.50 L 412.00 426.50 L 412.50 426.50 L 413.00 426.50 L 413.50 426.50 L 414.00 426.50 L 414.50 426.50 L 415.00 426.50 L 415.50 426.50 L 416.00 426.50 L 416.50 426.50 L 417.00 426.50 L 417.50 426.50 L 418.00 426.50 L 418.50 426.50 L 419.00 426.50 L 419.50 426.50 L 420.00 426.50 L 420.50 426.50 L 421.00 426.50 L 421.50 426.50 L 422.00 426.50 L 422.50 426.50 L 423.00 426.50 L 423.50 426.50 L 424.00 426.50 L 424.50 426.50 L 425.00 426.50 L 425.50 426.50 L 426.00 426.50 L 426.50 426.50 L 427.00 426.50 L 427.50 426.50 L 428.00 426.50 L 428.50 426.50 L 429.00 426.50 L 429.50 426.50 L 430.00 426.50 L 430.50 426.50 L 431.00 426.50 L 431.50 426.50 L 432.00 426.50 L 432.50 426.50 L 433.00 426.50 L 433.50 426.50 L 434.00 426.50 L 434.50 426.50 L 435.00 426.50 L 435.50 426.50 L 436.00 426.50 L 436.50 426.50 L 437.00 426.50 L 437.50 426.50 L 438.00 426.50 L 438.50 426.50 L 439.00 426.50 L 439.50 426.50 L 440.00 426.50 L 440.50 426.50 L 441.00 426.50 L 441.50 426.50 L 442.00 426.50 L 442.50 426.50 L 443.00 426.50 L 443.50 426.50 L 444.00 426.50 L 444.50 426.50 L 445.00 426.50 L 445.50 426.50 L 446.00 426.50 L 446.50 426.50 L 447.00 426.50 L 447.50 426.50 L 448.00 426.50 L 448.50 426.50 L 449.00 426.50 L 449.50 426.50 L 450.00 426.50 L 450.50 426.50 L 451.00 426.50 L 451.50 426.50 L 452.00 426.50 L 452.50 426.50 L 453.00 426.50 L 453.50 426.50 L 454.00 426.50 L 454.50 426.50 L 455.00 426.50 L 455.50 426.50 L 456.00 426.50 L 456.50 426.50 L 457.00 426.50 L 457.50 426.50 L 458.00 426.50 L 458.50 426.50 L 459.00 426.50 L 459.50 426.50 L 460.00 426.50 L 460.50 426.50 L 461.00 426.50 L 461.50 426.50 L 462.00 426.50 L 462.50 426.50 L 463.00 426.50 L 463.50 426.50 L 464.00 426.50 L 464.50 426.50 L 465.00 426.50 L 465.50 426.50 L 466.00 426.50 L 466.50 426.50 L 467.00 426.50 L 467.50 426.50 L 468.00 426.50 L 468.50 426.50 L 469.00 426.50 L 469.50 426.50 L 470.00 426.50 L 470.50 426.50 L 471.00 426.50 L 471.50 426.50 L 472.00 426.50 L 472.50 426.50 L 473.00 426.50 L 473.50 426.50 L 474.00 426.50 L 474.50 426.50 L 475.00 426.50 L 475.50 426.50 L 476.00 426.50 L 476.50 426.50 L 477.00 426.50 L 477.50 426.50 L 478.00 426.50 L 478.50 426.50 L 479.00 426.50 L 479.50 426.50 L 480.00 426.50 L 480.50 426.50 L 481.00 426.50 L 481.50 426.50 L 482.00 426.50 L 482.50 426.50 L 483.00 426.50 L 483.50 426.50 L 484.00 426.41 L 484.50 425.64 L 485.00 424.23 L 485.50 423.35 L 486.00 425.45 L 486.50 426.33 L 487.00 426.49 L 487.50 426.50 L 488.00 426.50 L 488.50 426.50 L 489.00 426.50 L 489.50 426.50 L 490.00 426.50 L 490.50 426.50 L 491.00 426.50 L 491.50 426.50 L 492.00 426.50 L 492.50 426.50 L 493.00 426.50 L 493.50 426.50 L 494.00 426.50 L 494.50 426.50 L 495.00 426.50 L 495.50 426.50 L 496.00 426.50 L 496.50 426.50 L 497.00 426.50 L 497.50 426.50 L 498.00 426.50 L 498.50 426.50 L 499.00 426.50 L 499.50 426.50 L 500.00 426.50 L 500.50 426.50 L 501.00 426.50 L 501.50 426.50 L 502.00 426.50 L 502.50 426.50 L 503.00 426.50 L 503.50 426.50 L 504.00 426.50 L 504.50 426.50 L 505.00 426.50 L 505.50 426.50 L 506.00 426.50 L 506.50 426.50 L 507.00 426.50 L 507.50 426.50 L 508.00 426.50 L 508.50 426.50 L 509.00 426.50 L 509.50 426.50 L 510.00 426.50 L 510.50 426.50 L 511.00 426.50 L 511.50 426.50 L 512.00 426.50 L 512.50 426.50 L 513.00 426.50 L 513.50 426.50 L 514.00 426.50 L 514.50 426.50 L 515.00 426.50 L 515.50 426.50 L 516.00 426.50 L 516.50 426.50 L 517.00 426.50 L 517.50 426.50 L 518.00 426.50 L 518.50 426.50 L 519.00 426.50 L 519.50 426.50 L 520.00 426.50 L 520.50 426.50 L 521.00 426.50 L 521.50 426.49 L 522.00 426.24 L 522.50 423.90 L 523.00 415.41 L 523.50 413.02 L 524.00 419.51 L 524.50 425.23 L 525.00 426.42 L 525.50 426.50 L 526.00 426.50 L 526.50 426.50 L 527.00 426.50 L 527.50 426.50 L 528.00 426.50 L 528.50 426.50 L 529.00 426.50 L 529.50 426.50 L 530.00 426.50 L 530.50 426.50 L 531.00 426.50 L 531.50 426.50 L 532.00 426.50 L 532.50 426.50 L 533.00 426.50 L 533.50 426.50 L 534.00 426.50 L 534.50 426.50 L 535.00 426.50 L 535.50 426.50 L 536.00 426.50 L 536.50 426.50 L 537.00 426.50 L 537.50 415.18 L 538.00 415.93 L 538.50 416.47 L 539.00 416.46 L 539.50 416.25 L 540.00 416.08 L 540.50 416.52 L 541.00 426.50 L 541.50 426.50 L 542.00 426.50 L 542.50 426.50 L 543.00 426.50 L 543.50 426.50 L 544.00 426.50 L 544.50 426.50 L 545.00 426.50 L 545.50 426.50 L 546.00 426.50 L 546.50 426.50 L 547.00 426.50 L 547.50 426.50 L 548.00 426.50 L 548.50 426.50 L 549.00 426.50 L 549.50 426.50 L 550.00 426.50 L 550.50 426.50 L 551.00 426.50 L 551.50 426.50 L 552.00 426.50 L 552.50 426.50 L 553.00 426.50 L 553.50 426.50 L 554.00 426.50 L 554.50 426.50 L 555.00 426.50 L 555.50 426.50 L 556.00 426.50 L 556.50 426.50 L 557.00 426.50 L 557.50 426.50 L 558.00 426.50 L 558.50 426.50 L 559.00 426.50 L 559.50 426.50 L 560.00 426.50 L 560.50 426.50 L 561.00 426.50 L 561.50 426.50 L 562.00 426.50 L 562.50 426.50 L 563.00 426.50 L 563.50 426.50 L 564.00 426.50 L 564.50 426.45 L 565.00 425.99 L 565.50 424.08 L 566.00 419.12 L 566.50 416.94 L 567.00 422.05 L 567.50 424.67 L 568.00 426.27 L 568.50 426.48 L 569.00 426.50 L 569.50 426.50 L 570.00 426.50 L 570.50 426.50 L 571.00 426.50 L 571.50 426.50 L 572.00 426.50 L 572.50 426.50 L 573.00 426.50 L 573.50 426.50 L 574.00 426.50 L 574.50 426.50 L 575.00 426.50 L 575.50 426.50 L 576.00 426.50 L 576.50 426.50 L 577.00 426.50 L 577.50 426.50 L 578.00 426.50 L 578.50 426.50 L 579.00 426.50 L 579.50 426.50 L 580.00 426.50 L 580.50 426.50 L 581.00 426.50 L 581.50 426.50 L 582.00 426.50 L 582.50 426.50 L 583.00 426.50 L 583.50 426.50 L 584.00 426.50 L 584.50 426.50 L 585.00 426.50 L 585.50 426.50 L 586.00 426.50 L 586.50 426.50 L 587.00 426.50 L 587.50 426.50 L 588.00 426.50 L 588.50 426.50 L 589.00 426.50 L 589.50 426.50 L 590.00 426.50 L 590.50 426.50 L 591.00 426.50 L 591.50 426.50 L 592.00 426.50 L 592.50 426.50 L 593.00 426.50 L 593.50 426.50 L 594.00 426.50 L 594.50 426.50 L 595.00 426.50 L 595.50 426.50 L 596.00 426.50 L 596.50 426.50 L 597.00 426.50 L 597.50 426.50 L 598.00 426.50 L 598.50 426.50 L 599.00 426.50 L 599.50 426.50 L 600.00 426.50 L 600.50 426.50 L 601.00 426.50 L 601.50 426.50 L 602.00 426.50 L 602.50 426.50 L 603.00 426.50 L 603.50 426.50 L 604.00 426.50 L 604.50 426.50 L 605.00 426.50 L 605.50 426.50 L 606.00 426.50 L 606.50 426.50 L 607.00 426.50 L 607.50 426.50 L 608.00 426.50 L 608.50 426.50 L 609.00 426.50 L 609.50 426.50 L 610.00 426.50 L 610.50 426.50 L 611.00 426.50 L 611.50 426.50 L 612.00 426.50 L 612.50 426.50 L 613.00 426.50 L 613.50 426.50 L 614.00 426.50 L 614.50 426.50 L 615.00 426.50 L 615.50 426.50 L 616.00 426.50 L 616.50 426.50 L 617.00 426.50 L 617.50 426.50 L 618.00 426.50 L 618.50 426.50 L 619.00 426.50 L 619.50 426.50 L 620.00 426.50 L 620.50 426.50 L 621.00 426.50 L 621.50 426.50 L 622.00 426.50 L 622.50 426.50 L 623.00 426.50 L 623.50 426.50 L 624.00 426.50 L 624.50 426.50 L 625.00 426.50 L 625.50 426.50 L 626.00 426.50 L 626.50 426.50 L 627.00 426.50 L 627.50 426.50 L 628.00 426.50 L 628.50 426.50 L 629.00 426.50 L 629.50 426.50 L 630.00 426.50 L 630.50 426.50 L 631.00 426.50 L 631.50 426.50 L 632.00 426.50 L 632.50 426.50 L 633.00 426.50 L 633.50 426.50 L 634.00 426.50 L 634.50 426.50 L 635.00 426.50 L 635.50 426.50 L 636.00 426.50 L 636.50 426.50 L 637.00 426.50 L 637.50 426.50 L 638.00 426.50 L 638.50 426.50 L 639.00 426.50 L 639.50 426.50 L 640.00 426.50 L 640.50 426.50 L 641.00 426.50 L 641.50 426.50 L 642.00 426.50 L 642.50 426.50 L 643.00 426.50 L 643.50 426.50 L 644.00 426.50 L 644.50 426.50 L 645.00 426.50 L 645.50 426.50 L 646.00 426.50 L 646.50 426.50 L 647.00 426.50 L 647.50 426.50 L 648.00 426.50 L 648.50 426.50 L 649.00 426.50 L 649.50 426.50 L 650.00 426.50 L 650.50 426.50 L 651.00 426.50 L 651.50 426.50 L 652.00 426.50 L 652.50 426.50 L 653.00 426.50 L 653.50 426.50 L 654.00 426.50 L 654.50 426.50 L 655.00 426.50 L 655.50 426.50 L 656.00 426.50 L 656.50 426.50 L 657.00 426.50 L 657.50 426.50 L 658.00 426.50 L 658.50 426.50 L 659.00 426.50 L 659.50 426.50 L 660.00 426.50 L 660.50 426.50 L 661.00 426.50 L 661.50 426.50 L 662.00 426.50 L 662.50 426.50 L 663.00 426.50 L 663.50 426.50 L 664.00 426.50 L 664.50 426.50 L 665.00 426.50 L 665.50 426.50 L 666.00 426.50 L 666.50 426.50 L 667.00 426.49 L 667.50 426.39 L 668.00 425.80 L 668.50 423.44 L 669.00 418.97 L 669.50 415.49 L 670.00 418.55 L 670.50 422.62 L 671.00 425.16 L 671.50 426.22 L 672.00 426.48 L 672.50 426.50 L 673.00 426.50 L 673.50 426.50 L 674.00 426.50 L 674.50 426.50 L 675.00 426.50 L 675.50 426.50 L 676.00 426.50 L 676.50 426.50 L 677.00 426.50 L 677.50 426.50 L 678.00 426.50 L 678.50 426.50 L 679.00 426.50 L 679.50 426.50 L 680.00 426.50 L 680.50 426.50 L 681.00 426.50 L 681.50 426.50 L 682.00 426.50 L 682.50 426.50 L 683.00 426.50 L 683.50 426.50 L 684.00 426.50 L 684.50 426.50 L 685.00 426.50 L 685.00 426.50 Z" fill="#000" stroke="none"/>
<line x1="363.00" y1="406.90" x2="685.00" y2="406.90" stroke="#3a3a3a" stroke-width="1.3"/>
<line x1="363.00" y1="426.50" x2="685.00" y2="426.50" stroke="#111" stroke-width="1.3"/>
<path d="M 363.00 445.90 L 363.00 445.28 L 363.50 445.14 L 364.00 445.20 L 364.50 445.35 L 365.00 445.37 L 365.50 445.22 L 366.00 445.38 L 366.50 445.31 L 367.00 445.24 L 367.50 445.30 L 368.00 445.43 L 368.50 445.16 L 369.00 445.15 L 369.50 445.34 L 370.00 445.25 L 370.50 445.12 L 371.00 445.16 L 371.50 445.41 L 372.00 445.33 L 372.50 445.34 L 373.00 445.17 L 373.50 445.23 L 374.00 445.39 L 374.50 445.42 L 375.00 445.12 L 375.50 445.38 L 376.00 445.29 L 376.50 445.31 L 377.00 445.14 L 377.50 445.28 L 378.00 445.15 L 378.50 445.19 L 379.00 445.38 L 379.50 445.22 L 380.00 445.37 L 380.50 445.39 L 381.00 445.14 L 381.50 445.26 L 382.00 445.36 L 382.50 445.23 L 383.00 445.21 L 383.50 445.15 L 384.00 445.19 L 384.50 445.21 L 385.00 445.34 L 385.50 445.31 L 386.00 445.21 L 386.50 445.24 L 387.00 445.19 L 387.50 444.99 L 388.00 444.96 L 388.50 445.06 L 389.00 444.83 L 389.50 444.67 L 390.00 444.82 L 390.50 444.68 L 391.00 443.94 L 391.50 442.73 L 392.00 442.86 L 392.50 443.59 L 393.00 443.48 L 393.50 444.63 L 394.00 444.37 L 394.50 444.97 L 395.00 444.90 L 395.50 444.84 L 396.00 445.18 L 396.50 445.14 L 397.00 444.96 L 397.50 445.25 L 398.00 445.27 L 398.50 445.10 L 399.00 445.04 L 399.50 445.18 L 400.00 445.31 L 400.50 445.12 L 401.00 445.32 L 401.50 445.33 L 402.00 445.22 L 402.50 445.00 L 403.00 445.04 L 403.50 445.19 L 404.00 445.30 L 404.50 445.28 L 405.00 445.13 L 405.50 445.13 L 406.00 445.13 L 406.50 445.27 L 407.00 445.01 L 407.50 445.09 L 408.00 445.02 L 408.50 445.13 L 409.00 445.28 L 409.50 445.07 L 410.00 445.13 L 410.50 445.30 L 411.00 445.28 L 411.50 445.13 L 412.00 444.94 L 412.50 445.11 L 413.00 445.02 L 413.50 445.05 L 414.00 445.18 L 414.50 445.16 L 415.00 445.27 L 415.50 445.22 L 416.00 445.05 L 416.50 444.99 L 417.00 445.20 L 417.50 444.96 L 418.00 445.00 L 418.50 444.84 L 419.00 444.89 L 419.50 445.02 L 420.00 444.98 L 420.50 445.20 L 421.00 444.82 L 421.50 444.84 L 422.00 444.98 L 422.50 445.10 L 423.00 444.94 L 423.50 445.03 L 424.00 444.93 L 424.50 445.03 L 425.00 445.07 L 425.50 445.02 L 426.00 444.81 L 426.50 444.81 L 427.00 445.06 L 427.50 445.03 L 428.00 444.96 L 428.50 445.00 L 429.00 445.03 L 429.50 444.93 L 430.00 445.13 L 430.50 445.16 L 431.00 445.08 L 431.50 444.70 L 432.00 444.79 L 432.50 444.90 L 433.00 445.10 L 433.50 444.66 L 434.00 444.71 L 434.50 444.66 L 435.00 444.86 L 435.50 444.99 L 436.00 445.04 L 436.50 444.73 L 437.00 445.05 L 437.50 444.81 L 438.00 444.74 L 438.50 444.82 L 439.00 444.69 L 439.50 444.61 L 440.00 445.06 L 440.50 445.03 L 441.00 445.02 L 441.50 444.90 L 442.00 444.73 L 442.50 444.76 L 443.00 444.72 L 443.50 444.51 L 444.00 444.80 L 444.50 444.75 L 445.00 444.65 L 445.50 443.98 L 446.00 444.23 L 446.50 443.84 L 447.00 443.32 L 447.50 443.92 L 448.00 443.90 L 448.50 443.41 L 449.00 443.01 L 449.50 442.51 L 450.00 442.85 L 450.50 441.61 L 451.00 441.65 L 451.50 441.13 L 452.00 442.24 L 452.50 442.05 L 453.00 441.14 L 453.50 441.69 L 454.00 440.52 L 454.50 441.08 L 455.00 442.47 L 455.50 442.73 L 456.00 442.51 L 456.50 441.92 L 457.00 442.51 L 457.50 443.35 L 458.00 443.81 L 458.50 443.38 L 459.00 443.11 L 459.50 443.72 L 460.00 443.54 L 460.50 444.14 L 461.00 443.84 L 461.50 444.35 L 462.00 444.19 L 462.50 444.66 L 463.00 444.85 L 463.50 444.45 L 464.00 444.87 L 464.50 444.46 L 465.00 444.40 L 465.50 444.77 L 466.00 444.80 L 466.50 444.63 L 467.00 444.58 L 467.50 444.97 L 468.00 444.62 L 468.50 444.89 L 469.00 444.95 L 469.50 444.81 L 470.00 444.75 L 470.50 444.76 L 471.00 444.57 L 471.50 444.69 L 472.00 444.79 L 472.50 444.72 L 473.00 444.67 L 473.50 444.50 L 474.00 444.79 L 474.50 444.53 L 475.00 444.61 L 475.50 444.47 L 476.00 444.75 L 476.50 444.88 L 477.00 444.93 L 477.50 444.64 L 478.00 444.37 L 478.50 444.78 L 479.00 444.69 L 479.50 444.38 L 480.00 444.62 L 480.50 444.20 L 481.00 444.74 L 481.50 443.93 L 482.00 444.27 L 482.50 443.33 L 483.00 443.14 L 483.50 442.53 L 484.00 442.34 L 484.50 441.79 L 485.00 440.52 L 485.50 436.62 L 486.00 440.20 L 486.50 442.47 L 487.00 442.08 L 487.50 442.78 L 488.00 443.35 L 488.50 444.26 L 489.00 444.36 L 489.50 444.03 L 490.00 444.31 L 490.50 444.33 L 491.00 444.81 L 491.50 444.51 L 492.00 444.74 L 492.50 444.77 L 493.00 444.84 L 493.50 444.84 L 494.00 444.73 L 494.50 444.36 L 495.00 444.43 L 495.50 444.42 L 496.00 444.49 L 496.50 444.54 L 497.00 444.18 L 497.50 443.86 L 498.00 444.07 L 498.50 444.33 L 499.00 443.31 L 499.50 443.61 L 500.00 443.85 L 500.50 442.65 L 501.00 443.01 L 501.50 443.14 L 502.00 441.18 L 502.50 441.91 L 503.00 441.69 L 503.50 440.42 L 504.00 442.14 L 504.50 442.09 L 505.00 441.71 L 505.50 442.69 L 506.00 443.50 L 506.50 443.35 L 507.00 442.65 L 507.50 443.20 L 508.00 443.49 L 508.50 444.25 L 509.00 443.38 L 509.50 443.91 L 510.00 444.02 L 510.50 443.80 L 511.00 443.94 L 511.50 443.87 L 512.00 444.49 L 512.50 444.12 L 513.00 443.91 L 513.50 444.33 L 514.00 444.49 L 514.50 444.44 L 515.00 444.44 L 515.50 444.17 L 516.00 443.96 L 516.50 444.38 L 517.00 444.38 L 517.50 444.23 L 518.00 443.90 L 518.50 443.64 L 519.00 442.79 L 519.50 442.41 L 520.00 442.97 L 520.50 441.57 L 521.00 440.07 L 521.50 437.82 L 522.00 437.42 L 522.50 435.05 L 523.00 430.41 L 523.50 431.08 L 524.00 433.79 L 524.50 434.94 L 525.00 438.43 L 525.50 439.84 L 526.00 441.01 L 526.50 441.99 L 527.00 441.39 L 527.50 442.92 L 528.00 442.02 L 528.50 442.12 L 529.00 443.33 L 529.50 442.64 L 530.00 442.16 L 530.50 442.31 L 531.00 442.54 L 531.50 442.51 L 532.00 442.68 L 532.50 442.21 L 533.00 439.19 L 533.50 439.06 L 534.00 436.90 L 534.50 438.52 L 535.00 436.12 L 535.50 431.83 L 536.00 427.40 L 536.50 427.40 L 537.00 427.40 L 537.50 427.40 L 538.00 427.40 L 538.50 427.40 L 539.00 427.40 L 539.50 427.40 L 540.00 427.40 L 540.50 427.40 L 541.00 428.03 L 541.50 431.94 L 542.00 430.46 L 542.50 435.10 L 543.00 438.97 L 543.50 438.94 L 544.00 439.62 L 544.50 439.83 L 545.00 441.30 L 545.50 442.22 L 546.00 440.90 L 546.50 440.35 L 547.00 441.72 L 547.50 440.51 L 548.00 439.99 L 548.50 438.98 L 549.00 441.14 L 549.50 438.83 L 550.00 439.81 L 550.50 441.40 L 551.00 441.01 L 551.50 442.39 L 552.00 442.57 L 552.50 442.73 L 553.00 442.04 L 553.50 441.81 L 554.00 442.30 L 554.50 441.57 L 555.00 441.29 L 555.50 441.20 L 556.00 440.05 L 556.50 438.54 L 557.00 436.84 L 557.50 439.84 L 558.00 438.96 L 558.50 440.19 L 559.00 442.20 L 559.50 442.43 L 560.00 442.47 L 560.50 443.70 L 561.00 442.87 L 561.50 443.14 L 562.00 442.81 L 562.50 443.40 L 563.00 443.48 L 563.50 443.34 L 564.00 441.68 L 564.50 441.25 L 565.00 440.98 L 565.50 440.19 L 566.00 436.21 L 566.50 432.16 L 567.00 434.74 L 567.50 439.63 L 568.00 440.04 L 568.50 441.60 L 569.00 443.21 L 569.50 443.07 L 570.00 443.20 L 570.50 444.43 L 571.00 444.59 L 571.50 444.59 L 572.00 444.93 L 572.50 444.91 L 573.00 444.61 L 573.50 445.04 L 574.00 444.87 L 574.50 444.92 L 575.00 445.16 L 575.50 444.99 L 576.00 445.22 L 576.50 445.02 L 577.00 444.94 L 577.50 445.20 L 578.00 445.30 L 578.50 445.31 L 579.00 445.10 L 579.50 445.18 L 580.00 445.36 L 580.50 445.21 L 581.00 445.07 L 581.50 445.25 L 582.00 445.24 L 582.50 445.30 L 583.00 445.26 L 583.50 445.34 L 584.00 445.37 L 584.50 445.10 L 585.00 445.26 L 585.50 445.32 L 586.00 445.34 L 586.50 445.18 L 587.00 445.33 L 587.50 445.19 L 588.00 445.36 L 588.50 445.29 L 589.00 445.18 L 589.50 445.16 L 590.00 445.14 L 590.50 445.28 L 591.00 445.21 L 591.50 445.31 L 592.00 445.41 L 592.50 445.28 L 593.00 445.34 L 593.50 445.42 L 594.00 445.33 L 594.50 445.34 L 595.00 445.27 L 595.50 445.21 L 596.00 445.26 L 596.50 445.28 L 597.00 445.39 L 597.50 445.41 L 598.00 445.39 L 598.50 445.23 L 599.00 445.37 L 599.50 445.21 L 600.00 445.25 L 600.50 445.21 L 601.00 445.35 L 601.50 445.22 L 602.00 445.28 L 602.50 445.36 L 603.00 445.29 L 603.50 445.17 L 604.00 445.20 L 604.50 445.43 L 605.00 445.41 L 605.50 445.44 L 606.00 445.39 L 606.50 445.40 L 607.00 445.19 L 607.50 445.38 L 608.00 445.32 L 608.50 445.39 L 609.00 445.31 L 609.50 445.16 L 610.00 445.21 L 610.50 445.45 L 611.00 445.17 L 611.50 445.40 L 612.00 445.39 L 612.50 445.40 L 613.00 445.18 L 613.50 445.24 L 614.00 445.28 L 614.50 445.32 L 615.00 445.34 L 615.50 445.16 L 616.00 445.35 L 616.50 445.37 L 617.00 445.24 L 617.50 445.18 L 618.00 445.32 L 618.50 445.34 L 619.00 445.40 L 619.50 445.33 L 620.00 445.27 L 620.50 445.25 L 621.00 445.37 L 621.50 445.44 L 622.00 445.36 L 622.50 445.32 L 623.00 445.45 L 623.50 445.44 L 624.00 445.19 L 624.50 445.45 L 625.00 445.44 L 625.50 445.30 L 626.00 445.38 L 626.50 445.34 L 627.00 445.34 L 627.50 445.17 L 628.00 445.24 L 628.50 445.21 L 629.00 445.30 L 629.50 445.44 L 630.00 445.30 L 630.50 445.43 L 631.00 445.26 L 631.50 445.39 L 632.00 445.30 L 632.50 445.34 L 633.00 445.34 L 633.50 445.15 L 634.00 445.17 L 634.50 445.34 L 635.00 445.30 L 635.50 445.41 L 636.00 445.35 L 636.50 445.17 L 637.00 445.45 L 637.50 445.28 L 638.00 445.40 L 638.50 445.38 L 639.00 445.29 L 639.50 445.38 L 640.00 445.21 L 640.50 445.31 L 641.00 445.24 L 641.50 445.34 L 642.00 445.33 L 642.50 445.29 L 643.00 445.20 L 643.50 445.31 L 644.00 445.17 L 644.50 445.32 L 645.00 445.37 L 645.50 445.22 L 646.00 445.37 L 646.50 445.18 L 647.00 445.32 L 647.50 445.29 L 648.00 445.39 L 648.50 445.33 L 649.00 445.18 L 649.50 445.39 L 650.00 445.45 L 650.50 445.25 L 651.00 445.19 L 651.50 445.42 L 652.00 445.16 L 652.50 445.42 L 653.00 445.40 L 653.50 445.19 L 654.00 445.38 L 654.50 445.23 L 655.00 445.30 L 655.50 445.17 L 656.00 445.29 L 656.50 445.40 L 657.00 445.28 L 657.50 445.15 L 658.00 445.31 L 658.50 445.40 L 659.00 445.16 L 659.50 445.24 L 660.00 445.28 L 660.50 445.28 L 661.00 445.33 L 661.50 445.41 L 662.00 445.43 L 662.50 445.39 L 663.00 445.37 L 663.50 445.32 L 664.00 445.30 L 664.50 445.36 L 665.00 445.20 L 665.50 445.15 L 666.00 445.14 L 666.50 445.09 L 667.00 445.22 L 667.50 444.90 L 668.00 444.61 L 668.50 444.34 L 669.00 443.19 L 669.50 442.17 L 670.00 442.01 L 670.50 443.57 L 671.00 444.44 L 671.50 444.85 L 672.00 445.11 L 672.50 445.21 L 673.00 445.15 L 673.50 445.30 L 674.00 445.35 L 674.50 445.37 L 675.00 445.33 L 675.50 445.41 L 676.00 445.34 L 676.50 445.42 L 677.00 445.32 L 677.50 445.19 L 678.00 445.35 L 678.50 445.16 L 679.00 445.32 L 679.50 445.32 L 680.00 445.41 L 680.50 445.25 L 681.00 445.17 L 681.50 445.39 L 682.00 445.41 L 682.50 445.35 L 683.00 445.26 L 683.50 445.35 L 684.00 445.29 L 684.50 445.28 L 685.00 445.15 L 685.00 445.90 Z" fill="#f01010" stroke="none"/>
<path d="M 363.00 465.40 L 363.00 464.63 L 363.50 464.71 L 364.00 464.61 L 364.50 464.86 L 365.00 464.81 L 365.50 464.69 L 366.00 464.61 L 366.50 464.82 L 367.00 464.88 L 367.50 464.80 L 368.00 464.82 L 368.50 464.80 L 369.00 464.69 L 369.50 464.63 L 370.00 464.75 L 370.50 464.84 L 371.00 464.70 L 371.50 464.73 L 372.00 464.74 L 372.50 464.62 L 373.00 464.64 L 373.50 464.81 L 374.00 464.70 L 374.50 464.68 L 375.00 464.59 L 375.50 464.61 L 376.00 464.59 L 376.50 464.69 L 377.00 464.69 L 377.50 464.82 L 378.00 464.73 L 378.50 464.62 L 379.00 464.61 L 379.50 464.71 L 380.00 464.63 L 380.50 464.72 L 381.00 464.60 L 381.50 464.67 L 382.00 464.59 L 382.50 464.80 L 383.00 464.74 L 383.50 464.66 L 384.00 464.82 L 384.50 464.83 L 385.00 464.72 L 385.50 464.66 L 386.00 464.52 L 386.50 464.70 L 387.00 464.56 L 387.50 464.43 L 388.00 464.42 L 388.50 464.74 L 389.00 464.19 L 389.50 464.04 L 390.00 463.85 L 390.50 463.92 L 391.00 462.72 L 391.50 461.02 L 392.00 459.48 L 392.50 461.90 L 393.00 462.75 L 393.50 463.17 L 394.00 464.24 L 394.50 464.50 L 395.00 464.15 L 395.50 464.57 L 396.00 464.55 L 396.50 464.66 L 397.00 464.54 L 397.50 464.52 L 398.00 464.68 L 398.50 464.45 L 399.00 464.43 L 399.50 464.67 L 400.00 464.52 L 400.50 464.38 L 401.00 464.45 L 401.50 464.70 L 402.00 464.45 L 402.50 464.36 L 403.00 464.61 L 403.50 464.72 L 404.00 464.61 L 404.50 464.51 L 405.00 464.68 L 405.50 464.47 L 406.00 464.71 L 406.50 464.33 L 407.00 464.69 L 407.50 464.64 L 408.00 464.51 L 408.50 464.52 L 409.00 464.37 L 409.50 464.71 L 410.00 464.39 L 410.50 464.57 L 411.00 464.41 L 411.50 464.44 L 412.00 464.59 L 412.50 464.62 L 413.00 464.31 L 413.50 464.44 L 414.00 464.42 L 414.50 464.20 L 415.00 464.34 L 415.50 464.44 L 416.00 464.42 L 416.50 464.52 L 417.00 464.51 L 417.50 464.62 L 418.00 464.15 L 418.50 464.42 L 419.00 464.28 L 419.50 464.42 L 420.00 464.55 L 420.50 464.36 L 421.00 464.34 L 421.50 464.56 L 422.00 464.14 L 422.50 464.42 L 423.00 464.22 L 423.50 464.48 L 424.00 464.27 L 424.50 464.17 L 425.00 464.15 L 425.50 464.12 L 426.00 464.21 L 426.50 464.32 L 427.00 464.08 L 427.50 464.49 L 428.00 463.98 L 428.50 464.25 L 429.00 464.13 L 429.50 464.01 L 430.00 464.39 L 430.50 464.15 L 431.00 464.15 L 431.50 463.91 L 432.00 463.96 L 432.50 464.06 L 433.00 464.03 L 433.50 464.28 L 434.00 463.88 L 434.50 464.41 L 435.00 464.17 L 435.50 463.93 L 436.00 463.83 L 436.50 464.32 L 437.00 464.05 L 437.50 464.11 L 438.00 463.91 L 438.50 463.84 L 439.00 464.36 L 439.50 464.05 L 440.00 463.98 L 440.50 464.33 L 441.00 464.35 L 441.50 463.94 L 442.00 463.82 L 442.50 464.31 L 443.00 463.57 L 443.50 464.23 L 444.00 463.77 L 444.50 464.07 L 445.00 463.77 L 445.50 463.60 L 446.00 463.44 L 446.50 463.22 L 447.00 462.31 L 447.50 461.93 L 448.00 462.72 L 448.50 461.41 L 449.00 461.05 L 449.50 460.13 L 450.00 460.34 L 450.50 459.59 L 451.00 460.44 L 451.50 458.46 L 452.00 458.94 L 452.50 459.57 L 453.00 459.30 L 453.50 457.87 L 454.00 457.75 L 454.50 457.97 L 455.00 460.34 L 455.50 460.87 L 456.00 459.64 L 456.50 461.13 L 457.00 460.27 L 457.50 461.77 L 458.00 462.52 L 458.50 462.94 L 459.00 463.15 L 459.50 462.73 L 460.00 463.14 L 460.50 463.08 L 461.00 463.82 L 461.50 463.92 L 462.00 463.42 L 462.50 463.79 L 463.00 463.90 L 463.50 463.44 L 464.00 464.15 L 464.50 464.17 L 465.00 463.94 L 465.50 463.90 L 466.00 463.40 L 466.50 463.55 L 467.00 463.69 L 467.50 464.08 L 468.00 463.61 L 468.50 463.97 L 469.00 463.90 L 469.50 464.19 L 470.00 463.52 L 470.50 463.95 L 471.00 463.75 L 471.50 464.13 L 472.00 463.57 L 472.50 464.18 L 473.00 464.16 L 473.50 463.63 L 474.00 464.18 L 474.50 463.82 L 475.00 463.63 L 475.50 463.82 L 476.00 463.56 L 476.50 463.76 L 477.00 463.71 L 477.50 463.58 L 478.00 464.18 L 478.50 463.41 L 479.00 463.64 L 479.50 463.45 L 480.00 464.07 L 480.50 463.51 L 481.00 463.73 L 481.50 463.51 L 482.00 463.14 L 482.50 461.90 L 483.00 461.19 L 483.50 460.61 L 484.00 461.09 L 484.50 456.33 L 485.00 452.91 L 485.50 453.19 L 486.00 455.35 L 486.50 457.36 L 487.00 460.57 L 487.50 460.21 L 488.00 461.38 L 488.50 462.60 L 489.00 463.02 L 489.50 463.37 L 490.00 463.96 L 490.50 463.30 L 491.00 463.54 L 491.50 463.37 L 492.00 463.99 L 492.50 464.09 L 493.00 463.67 L 493.50 463.70 L 494.00 463.71 L 494.50 463.44 L 495.00 464.12 L 495.50 463.54 L 496.00 463.28 L 496.50 464.02 L 497.00 463.49 L 497.50 463.82 L 498.00 462.90 L 498.50 462.90 L 499.00 463.29 L 499.50 462.35 L 500.00 462.97 L 500.50 462.58 L 501.00 462.88 L 501.50 461.98 L 502.00 461.95 L 502.50 461.47 L 503.00 460.27 L 503.50 459.92 L 504.00 458.74 L 504.50 457.01 L 505.00 456.24 L 505.50 460.26 L 506.00 460.56 L 506.50 459.07 L 507.00 461.94 L 507.50 462.40 L 508.00 461.15 L 508.50 462.77 L 509.00 461.81 L 509.50 462.38 L 510.00 463.19 L 510.50 463.49 L 511.00 463.40 L 511.50 463.43 L 512.00 462.63 L 512.50 463.45 L 513.00 463.15 L 513.50 463.50 L 514.00 463.44 L 514.50 463.22 L 515.00 463.44 L 515.50 463.05 L 516.00 462.39 L 516.50 463.02 L 517.00 462.69 L 517.50 462.07 L 518.00 461.92 L 518.50 462.20 L 519.00 462.29 L 519.50 462.01 L 520.00 460.08 L 520.50 460.47 L 521.00 459.04 L 521.50 454.48 L 522.00 452.63 L 522.50 448.08 L 523.00 446.90 L 523.50 447.74 L 524.00 453.88 L 524.50 454.85 L 525.00 457.04 L 525.50 456.06 L 526.00 458.90 L 526.50 460.77 L 527.00 459.57 L 527.50 461.04 L 528.00 459.67 L 528.50 461.55 L 529.00 460.02 L 529.50 460.40 L 530.00 461.06 L 530.50 459.58 L 531.00 461.01 L 531.50 459.82 L 532.00 459.72 L 532.50 459.11 L 533.00 455.55 L 533.50 454.70 L 534.00 452.75 L 534.50 454.72 L 535.00 453.32 L 535.50 447.50 L 536.00 446.90 L 536.50 446.90 L 537.00 446.90 L 537.50 446.90 L 538.00 446.90 L 538.50 446.90 L 539.00 446.90 L 539.50 446.90 L 540.00 446.90 L 540.50 446.90 L 541.00 446.90 L 541.50 446.90 L 542.00 449.09 L 542.50 447.76 L 543.00 451.50 L 543.50 451.74 L 544.00 455.68 L 544.50 456.01 L 545.00 456.78 L 545.50 459.72 L 546.00 459.74 L 546.50 458.66 L 547.00 459.74 L 547.50 459.35 L 548.00 459.11 L 548.50 458.80 L 549.00 457.03 L 549.50 459.35 L 550.00 455.89 L 550.50 454.12 L 551.00 457.32 L 551.50 456.54 L 552.00 458.56 L 552.50 456.73 L 553.00 459.66 L 553.50 460.00 L 554.00 459.05 L 554.50 457.94 L 555.00 458.49 L 555.50 457.53 L 556.00 455.95 L 556.50 454.91 L 557.00 450.02 L 557.50 450.08 L 558.00 452.64 L 558.50 455.08 L 559.00 455.28 L 559.50 456.85 L 560.00 459.05 L 560.50 459.34 L 561.00 460.65 L 561.50 461.30 L 562.00 461.58 L 562.50 462.28 L 563.00 460.55 L 563.50 461.82 L 564.00 459.54 L 564.50 458.40 L 565.00 456.10 L 565.50 456.52 L 566.00 454.38 L 566.50 447.22 L 567.00 451.31 L 567.50 452.06 L 568.00 458.24 L 568.50 460.07 L 569.00 460.76 L 569.50 461.23 L 570.00 461.47 L 570.50 463.26 L 571.00 463.65 L 571.50 463.37 L 572.00 463.85 L 572.50 464.14 L 573.00 464.13 L 573.50 464.49 L 574.00 464.25 L 574.50 464.54 L 575.00 464.55 L 575.50 464.48 L 576.00 464.34 L 576.50 464.69 L 577.00 464.37 L 577.50 464.42 L 578.00 464.41 L 578.50 464.68 L 579.00 464.56 L 579.50 464.70 L 580.00 464.67 L 580.50 464.66 L 581.00 464.79 L 581.50 464.84 L 582.00 464.82 L 582.50 464.72 L 583.00 464.67 L 583.50 464.79 L 584.00 464.86 L 584.50 464.82 L 585.00 464.57 L 585.50 464.83 L 586.00 464.84 L 586.50 464.63 L 587.00 464.78 L 587.50 464.84 L 588.00 464.77 L 588.50 464.66 L 589.00 464.81 L 589.50 464.64 L 590.00 464.62 L 590.50 464.72 L 591.00 464.81 L 591.50 464.81 L 592.00 464.69 L 592.50 464.68 L 593.00 464.93 L 593.50 464.83 L 594.00 464.76 L 594.50 464.74 L 595.00 464.68 L 595.50 464.80 L 596.00 464.80 L 596.50 464.82 L 597.00 464.82 L 597.50 464.80 L 598.00 464.90 L 598.50 464.79 L 599.00 464.67 L 599.50 464.81 L 600.00 464.94 L 600.50 464.89 L 601.00 464.85 L 601.50 464.89 L 602.00 464.87 L 602.50 464.75 L 603.00 464.80 L 603.50 464.69 L 604.00 464.81 L 604.50 464.87 L 605.00 464.85 L 605.50 464.73 L 606.00 464.87 L 606.50 464.71 L 607.00 464.68 L 607.50 464.94 L 608.00 464.94 L 608.50 464.94 L 609.00 464.67 L 609.50 464.93 L 610.00 464.79 L 610.50 464.91 L 611.00 464.86 L 611.50 464.73 L 612.00 464.78 L 612.50 464.86 L 613.00 464.74 L 613.50 464.68 L 614.00 464.82 L 614.50 464.67 L 615.00 464.86 L 615.50 464.91 L 616.00 464.81 L 616.50 464.72 L 617.00 464.67 L 617.50 464.76 L 618.00 464.65 L 618.50 464.89 L 619.00 464.86 L 619.50 464.73 L 620.00 464.91 L 620.50 464.85 L 621.00 464.80 L 621.50 464.72 L 622.00 464.90 L 622.50 464.67 L 623.00 464.70 L 623.50 464.84 L 624.00 464.69 L 624.50 464.89 L 625.00 464.77 L 625.50 464.76 L 626.00 464.67 L 626.50 464.90 L 627.00 464.82 L 627.50 464.74 L 628.00 464.85 L 628.50 464.94 L 629.00 464.75 L 629.50 464.93 L 630.00 464.88 L 630.50 464.77 L 631.00 464.92 L 631.50 464.69 L 632.00 464.72 L 632.50 464.81 L 633.00 464.93 L 633.50 464.78 L 634.00 464.89 L 634.50 464.82 L 635.00 464.67 L 635.50 464.88 L 636.00 464.94 L 636.50 464.95 L 637.00 464.75 L 637.50 464.72 L 638.00 464.78 L 638.50 464.86 L 639.00 464.66 L 639.50 464.68 L 640.00 464.73 L 640.50 464.75 L 641.00 464.77 L 641.50 464.83 L 642.00 464.79 L 642.50 464.70 L 643.00 464.92 L 643.50 464.84 L 644.00 464.78 L 644.50 464.84 L 645.00 464.80 L 645.50 464.82 L 646.00 464.79 L 646.50 464.67 L 647.00 464.82 L 647.50 464.67 L 648.00 464.87 L 648.50 464.89 L 649.00 464.83 L 649.50 464.90 L 650.00 464.73 L 650.50 464.86 L 651.00 464.85 L 651.50 464.65 L 652.00 464.81 L 652.50 464.90 L 653.00 464.72 L 653.50 464.68 L 654.00 464.85 L 654.50 464.77 L 655.00 464.85 L 655.50 464.86 L 656.00 464.81 L 656.50 464.68 L 657.00 464.69 L 657.50 464.85 L 658.00 464.87 L 658.50 464.78 L 659.00 464.66 L 659.50 464.84 L 660.00 464.77 L 660.50 464.73 L 661.00 464.71 L 661.50 464.68 L 662.00 464.85 L 662.50 464.83 L 663.00 464.73 L 663.50 464.82 L 664.00 464.90 L 664.50 464.82 L 665.00 464.71 L 665.50 464.68 L 666.00 464.68 L 666.50 464.45 L 667.00 463.99 L 667.50 463.31 L 668.00 462.71 L 668.50 462.33 L 669.00 460.65 L 669.50 456.92 L 670.00 459.38 L 670.50 462.05 L 671.00 462.50 L 671.50 463.89 L 672.00 463.87 L 672.50 464.58 L 673.00 464.44 L 673.50 464.49 L 674.00 464.71 L 674.50 464.77 L 675.00 464.66 L 675.50 464.87 L 676.00 464.75 L 676.50 464.68 L 677.00 464.92 L 677.50 464.71 L 678.00 464.70 L 678.50 464.84 L 679.00 464.83 L 679.50 464.76 L 680.00 464.76 L 680.50 464.93 L 681.00 464.66 L 681.50 464.78 L 682.00 464.66 L 682.50 464.72 L 683.00 464.80 L 683.50 464.69 L 684.00 464.73 L 684.50 464.86 L 685.00 464.68 L 685.00 465.40 Z" fill="#1760d0" stroke="none"/>
<line x1="363.00" y1="445.90" x2="685.00" y2="445.90" stroke="#f01010" stroke-width="1.2"/>
<line x1="363.00" y1="465.40" x2="685.00" y2="465.40" stroke="#1760d0" stroke-width="1.2"/>
<rect x="386.40" y="398.60" width="11.20" height="69.80" fill="none" stroke="#333" stroke-width="0.7" stroke-dasharray="1.2,1.2"/>
<rect x="480.40" y="398.60" width="12.20" height="69.80" fill="none" stroke="#333" stroke-width="0.7" stroke-dasharray="1.2,1.2"/>
<rect x="560.30" y="398.60" width="12.40" height="69.80" fill="none" stroke="#333" stroke-width="0.7" stroke-dasharray="1.2,1.2"/>
<rect x="663.30" y="398.60" width="12.30" height="69.80" fill="none" stroke="#333" stroke-width="0.7" stroke-dasharray="1.2,1.2"/>
<rect x="364.40" y="466.80" width="2.90" height="1.60" fill="#5a5ac8" stroke="none" stroke-width="1" opacity="0.33"/>
<rect x="381.00" y="466.80" width="15.50" height="1.60" fill="#5a5ac8" stroke="none" stroke-width="1" opacity="0.33"/>
<rect x="421.30" y="466.80" width="21.20" height="1.60" fill="#5a5ac8" stroke="none" stroke-width="1" opacity="0.33"/>
<rect x="473.00" y="466.80" width="19.00" height="1.60" fill="#5a5ac8" stroke="none" stroke-width="1" opacity="0.33"/>
<rect x="527.00" y="466.80" width="11.80" height="1.60" fill="#5a5ac8" stroke="none" stroke-width="1" opacity="0.33"/>
<rect x="544.70" y="466.80" width="13.10" height="1.60" fill="#5a5ac8" stroke="none" stroke-width="1" opacity="0.33"/>
<rect x="598.30" y="466.80" width="21.90" height="1.60" fill="#5a5ac8" stroke="none" stroke-width="1" opacity="0.33"/>
<rect x="632.00" y="466.80" width="12.00" height="1.60" fill="#5a5ac8" stroke="none" stroke-width="1" opacity="0.33"/>
<rect x="661.30" y="466.80" width="10.00" height="1.60" fill="#5a5ac8" stroke="none" stroke-width="1" opacity="0.33"/>
<rect x="675.00" y="466.80" width="10.00" height="1.60" fill="#5a5ac8" stroke="none" stroke-width="1" opacity="0.33"/>
<rect x="513.30" y="466.50" width="9.50" height="2.20" fill="#2e2e9e" stroke="none" stroke-width="1"/>
<line x1="364.40" y1="471.00" x2="391.40" y2="471.00" stroke="#4848b8" stroke-width="0.5"/>
<rect x="364.60" y="470.00" width="1.20" height="2.00" fill="#2e2e9e" stroke="none" stroke-width="1"/>
<rect x="366.00" y="470.00" width="1.20" height="2.00" fill="#2e2e9e" stroke="none" stroke-width="1"/>
<rect x="369.50" y="470.00" width="1.20" height="2.00" fill="#2e2e9e" stroke="none" stroke-width="1"/>
<rect x="374.20" y="470.00" width="1.20" height="2.00" fill="#2e2e9e" stroke="none" stroke-width="1"/>
<rect x="377.20" y="470.00" width="1.20" height="2.00" fill="#2e2e9e" stroke="none" stroke-width="1"/>
<rect x="380.80" y="470.00" width="1.20" height="2.00" fill="#2e2e9e" stroke="none" stroke-width="1"/>
<rect x="389.80" y="470.00" width="1.20" height="2.00" fill="#2e2e9e" stroke="none" stroke-width="1"/>
<rect x="484.10" y="470.20" width="4.40" height="1.60" fill="#5a5ac8" stroke="none" stroke-width="1" opacity="0.33"/>
<line x1="489.20" y1="471.00" x2="506.70" y2="471.00" stroke="#4848b8" stroke-width="0.5"/>
<rect x="489.90" y="470.00" width="1.50" height="2.00" fill="#2e2e9e" stroke="none" stroke-width="1"/>
<rect x="494.30" y="470.00" width="0.70" height="2.00" fill="#2e2e9e" stroke="none" stroke-width="1"/>
<rect x="500.90" y="470.00" width="5.80" height="2.00" fill="#2e2e9e" stroke="none" stroke-width="1"/>
<rect x="513.30" y="470.20" width="10.90" height="1.60" fill="#5a5ac8" stroke="none" stroke-width="1" opacity="0.33"/>
<rect x="528.60" y="469.70" width="8.80" height="2.60" fill="#2e2e9e" stroke="none" stroke-width="1"/>
<rect x="547.60" y="470.20" width="10.20" height="1.60" fill="#5a5ac8" stroke="none" stroke-width="1" opacity="0.33"/>
<rect x="633.00" y="469.60" width="23.70" height="1.60" fill="#5a5ac8" stroke="none" stroke-width="1" opacity="0.21"/>
<rect x="384.00" y="473.60" width="9.60" height="1.60" fill="#5a5ac8" stroke="none" stroke-width="1" opacity="0.33"/>
<rect x="525.70" y="473.60" width="11.70" height="1.60" fill="#5a5ac8" stroke="none" stroke-width="1" opacity="0.33"/>
<line x1="538.80" y1="474.40" x2="560.00" y2="474.40" stroke="#4848b8" stroke-width="0.5"/>
<rect x="553.40" y="473.50" width="1.00" height="1.80" fill="#2e2e9e" stroke="none" stroke-width="1"/>
<rect x="556.30" y="473.50" width="1.00" height="1.80" fill="#2e2e9e" stroke="none" stroke-width="1"/>
<rect x="661.30" y="473.10" width="9.10" height="1.60" fill="#5a5ac8" stroke="none" stroke-width="1" opacity="0.33"/>
<rect x="560.00" y="473.20" width="1.50" height="1.60" fill="#5a5ac8" stroke="none" stroke-width="1" opacity="0.33"/>
<rect x="382.00" y="476.50" width="13.80" height="1.60" fill="#5a5ac8" stroke="none" stroke-width="1" opacity="0.3"/>
<line x1="396.50" y1="477.30" x2="437.40" y2="477.30" stroke="#3a3aae" stroke-width="0.6"/>
<rect x="396.60" y="476.30" width="1.00" height="2.00" fill="#2e2e9e" stroke="none" stroke-width="1" opacity="0.85"/>
<rect x="403.80" y="476.30" width="2.90" height="2.00" fill="#2e2e9e" stroke="none" stroke-width="1" opacity="0.85"/>
<rect x="410.40" y="475.90" width="2.90" height="2.80" fill="#2e2e9e" stroke="none" stroke-width="1" opacity="0.85"/>
<rect x="416.20" y="476.10" width="1.40" height="2.40" fill="#2e2e9e" stroke="none" stroke-width="1" opacity="0.85"/>
<rect x="419.10" y="475.90" width="4.40" height="2.80" fill="#2e2e9e" stroke="none" stroke-width="1" opacity="0.85"/>
<rect x="425.70" y="475.90" width="2.90" height="2.80" fill="#2e2e9e" stroke="none" stroke-width="1" opacity="0.85"/>
<rect x="431.50" y="476.30" width="1.50" height="2.00" fill="#2e2e9e" stroke="none" stroke-width="1" opacity="0.85"/>
<rect x="436.00" y="476.30" width="1.40" height="2.00" fill="#2e2e9e" stroke="none" stroke-width="1" opacity="0.85"/>
<rect x="382.00" y="480.20" width="13.80" height="1.60" fill="#5a5ac8" stroke="none" stroke-width="1" opacity="0.3"/>
<line x1="396.50" y1="481.00" x2="437.40" y2="481.00" stroke="#3a3aae" stroke-width="0.6"/>
<rect x="396.60" y="480.00" width="1.00" height="2.00" fill="#2e2e9e" stroke="none" stroke-width="1" opacity="0.85"/>
<rect x="403.80" y="480.00" width="2.90" height="2.00" fill="#2e2e9e" stroke="none" stroke-width="1" opacity="0.85"/>
<rect x="410.40" y="479.60" width="2.90" height="2.80" fill="#2e2e9e" stroke="none" stroke-width="1" opacity="0.85"/>
<rect x="416.20" y="479.80" width="1.40" height="2.40" fill="#2e2e9e" stroke="none" stroke-width="1" opacity="0.85"/>
<rect x="419.10" y="479.60" width="4.40" height="2.80" fill="#2e2e9e" stroke="none" stroke-width="1" opacity="0.85"/>
<rect x="425.70" y="479.60" width="2.90" height="2.80" fill="#2e2e9e" stroke="none" stroke-width="1" opacity="0.85"/>
<rect x="431.50" y="480.00" width="1.50" height="2.00" fill="#2e2e9e" stroke="none" stroke-width="1" opacity="0.85"/>
<rect x="436.00" y="480.00" width="1.40" height="2.00" fill="#2e2e9e" stroke="none" stroke-width="1" opacity="0.85"/>
<rect x="382.00" y="483.80" width="13.80" height="1.60" fill="#5a5ac8" stroke="none" stroke-width="1" opacity="0.3"/>
<line x1="396.50" y1="484.60" x2="437.40" y2="484.60" stroke="#3a3aae" stroke-width="0.6"/>
<rect x="396.60" y="483.60" width="1.00" height="2.00" fill="#2e2e9e" stroke="none" stroke-width="1" opacity="0.85"/>
<rect x="403.80" y="483.60" width="2.90" height="2.00" fill="#2e2e9e" stroke="none" stroke-width="1" opacity="0.85"/>
<rect x="410.40" y="483.20" width="2.90" height="2.80" fill="#2e2e9e" stroke="none" stroke-width="1" opacity="0.85"/>
<rect x="416.20" y="483.40" width="1.40" height="2.40" fill="#2e2e9e" stroke="none" stroke-width="1" opacity="0.85"/>
<rect x="419.10" y="483.20" width="4.40" height="2.80" fill="#2e2e9e" stroke="none" stroke-width="1" opacity="0.85"/>
<rect x="425.70" y="483.20" width="2.90" height="2.80" fill="#2e2e9e" stroke="none" stroke-width="1" opacity="0.85"/>
<rect x="431.50" y="483.60" width="1.50" height="2.00" fill="#2e2e9e" stroke="none" stroke-width="1" opacity="0.85"/>
<rect x="436.00" y="483.60" width="1.40" height="2.00" fill="#2e2e9e" stroke="none" stroke-width="1" opacity="0.85"/>
<rect x="518.40" y="476.50" width="21.20" height="1.60" fill="#5a5ac8" stroke="none" stroke-width="1" opacity="0.24"/>
<rect x="551.90" y="476.50" width="8.10" height="1.60" fill="#5a5ac8" stroke="none" stroke-width="1" opacity="0.3"/>
<rect x="659.50" y="476.70" width="11.80" height="1.60" fill="#5a5ac8" stroke="none" stroke-width="1" opacity="0.3"/>
<rect x="537.40" y="480.20" width="11.60" height="1.60" fill="#5a5ac8" stroke="none" stroke-width="1" opacity="0.3"/>
<rect x="552.50" y="480.00" width="2.00" height="2.00" fill="#2e2e9e" stroke="none" stroke-width="1"/>
<rect x="555.00" y="480.20" width="5.00" height="1.60" fill="#5a5ac8" stroke="none" stroke-width="1" opacity="0.3"/>
<rect x="560.00" y="479.20" width="6.00" height="1.60" fill="#5a5ac8" stroke="none" stroke-width="1" opacity="0.24"/>
<rect x="560.00" y="483.70" width="5.00" height="1.60" fill="#5a5ac8" stroke="none" stroke-width="1" opacity="0.3"/>
<line x1="539.60" y1="465.50" x2="539.60" y2="487.00" stroke="#9fd0f0" stroke-width="0.5"/>
<text x="21.40" y="521.80" font-size="12" fill="#000" stroke="#000" stroke-width="0.22" font-weight="bold">h</text>
<text x="145.0" y="522.8" font-size="8.6" fill="#111" stroke="#111" stroke-width="0.22"><tspan font-style="italic">Six2</tspan> VP</text>
<polygon points="156.3,532.2 164.3,532.2 160.3,542.8" fill="#000"/>
<text x="83.70" y="533.40" font-size="7.4" fill="#8a8a8a" stroke="#8a8a8a" stroke-width="0.22">[0-18]</text>
<text x="83.70" y="568.40" font-size="7.4" fill="#8a8a8a" stroke="#8a8a8a" stroke-width="0.22">[0-18]</text>
<text x="82.00" y="604.60" font-size="7.4" fill="#8a8a8a" stroke="#8a8a8a" stroke-width="0.22">[0-750]</text>
<text x="82.00" y="642.60" font-size="7.4" fill="#8a8a8a" stroke="#8a8a8a" stroke-width="0.22">[0-750]</text>
<text x="69.20" y="550.90" font-size="8.6" fill="#e8151b" stroke="#e8151b" stroke-width="0.22">G1</text>
<text x="70.20" y="583.60" font-size="8.6" fill="#2f6fe4" stroke="#2f6fe4" stroke-width="0.22">G2</text>
<text x="69.20" y="621.90" font-size="8.6" fill="#e8151b" stroke="#e8151b" stroke-width="0.22">G1</text>
<text x="70.20" y="654.60" font-size="8.6" fill="#2f6fe4" stroke="#2f6fe4" stroke-width="0.22">G2</text>
<text x="56.00" y="562.20" font-size="8.6" fill="#111" stroke="#111" stroke-width="0.22" text-anchor="middle" transform="rotate(-90 56.00 562.20)">CBX7</text>
<text x="56.60" y="635.30" font-size="8.6" fill="#111" stroke="#111" stroke-width="0.22" text-anchor="middle" transform="rotate(-90 56.60 635.30)">4C-seq</text>
<line x1="63.40" y1="539.20" x2="63.40" y2="589.40" stroke="#111" stroke-width="1.1"/>
<line x1="62.90" y1="606.70" x2="62.90" y2="665.00" stroke="#111" stroke-width="1.1"/>
<path d="M 81.50 562.10 L 81.50 562.10 L 81.75 562.10 L 82.00 562.10 L 82.25 562.10 L 82.50 562.10 L 82.75 562.10 L 83.00 562.10 L 83.25 562.10 L 83.50 562.10 L 83.75 562.10 L 84.00 562.10 L 84.25 562.10 L 84.50 562.10 L 84.75 562.10 L 85.00 562.10 L 85.25 562.10 L 85.50 562.10 L 85.75 562.10 L 86.00 562.10 L 86.25 562.10 L 86.50 562.10 L 86.75 562.10 L 87.00 562.10 L 87.25 562.10 L 87.50 562.10 L 87.75 562.10 L 88.00 562.10 L 88.25 562.10 L 88.50 562.10 L 88.75 562.10 L 89.00 562.10 L 89.25 562.10 L 89.50 562.10 L 89.75 562.10 L 90.00 562.10 L 90.25 562.10 L 90.50 562.10 L 90.75 562.10 L 91.00 562.10 L 91.25 562.10 L 91.50 562.10 L 91.75 562.10 L 92.00 562.10 L 92.25 562.10 L 92.50 562.10 L 92.75 562.10 L 93.00 562.10 L 93.25 562.10 L 93.50 562.10 L 93.75 562.10 L 94.00 562.10 L 94.25 562.10 L 94.50 562.10 L 94.75 562.10 L 95.00 562.10 L 95.25 562.10 L 95.50 562.10 L 95.75 562.10 L 96.00 562.10 L 96.25 562.10 L 96.50 562.10 L 96.75 562.10 L 97.00 562.10 L 97.25 562.10 L 97.50 562.10 L 97.75 562.10 L 98.00 562.10 L 98.25 562.10 L 98.50 562.10 L 98.75 562.10 L 99.00 562.10 L 99.25 562.10 L 99.50 562.10 L 99.75 562.10 L 100.00 562.10 L 100.25 562.10 L 100.50 562.10 L 100.75 562.10 L 101.00 562.10 L 101.25 562.10 L 101.50 562.10 L 101.75 562.10 L 102.00 562.10 L 102.25 562.10 L 102.50 562.10 L 102.75 562.10 L 103.00 562.10 L 103.25 562.10 L 103.50 562.10 L 103.75 562.10 L 104.00 562.10 L 104.25 562.10 L 104.50 562.10 L 104.75 562.10 L 105.00 562.10 L 105.25 562.10 L 105.50 562.10 L 105.75 562.10 L 106.00 562.10 L 106.25 562.10 L 106.50 562.10 L 106.75 562.10 L 107.00 562.10 L 107.25 562.10 L 107.50 562.10 L 107.75 561.23 L 108.00 559.77 L 108.25 558.31 L 108.50 556.85 L 108.75 555.39 L 109.00 556.27 L 109.25 557.73 L 109.50 559.18 L 109.75 558.35 L 110.00 557.10 L 110.25 558.35 L 110.50 559.45 L 110.75 557.25 L 111.00 555.05 L 111.25 552.84 L 111.50 554.16 L 111.75 556.37 L 112.00 558.57 L 112.25 556.90 L 112.50 554.90 L 112.75 555.30 L 113.00 553.88 L 113.25 551.31 L 113.50 552.85 L 113.75 555.42 L 114.00 557.99 L 114.25 556.25 L 114.50 554.00 L 114.75 554.23 L 115.00 551.60 L 115.25 554.23 L 115.50 556.85 L 115.75 559.48 L 116.00 556.26 L 116.25 552.61 L 116.50 548.96 L 116.75 549.69 L 117.00 553.34 L 117.25 556.99 L 117.50 554.30 L 117.75 551.05 L 118.00 550.40 L 118.25 553.65 L 118.50 556.90 L 118.75 557.35 L 119.00 556.10 L 119.25 557.35 L 119.50 558.60 L 119.75 559.45 L 120.00 560.02 L 120.25 560.60 L 120.50 561.18 L 120.75 561.75 L 121.00 562.10 L 121.25 562.10 L 121.50 562.10 L 121.75 562.10 L 122.00 562.10 L 122.25 562.10 L 122.50 562.10 L 122.75 562.10 L 123.00 562.10 L 123.25 562.10 L 123.50 562.10 L 123.75 562.10 L 124.00 562.10 L 124.25 562.10 L 124.50 562.10 L 124.75 562.10 L 125.00 562.10 L 125.25 562.10 L 125.50 562.10 L 125.75 562.10 L 126.00 562.10 L 126.25 562.10 L 126.50 562.10 L 126.75 562.10 L 127.00 562.10 L 127.25 562.10 L 127.50 562.10 L 127.75 562.10 L 128.00 562.10 L 128.25 562.10 L 128.50 562.10 L 128.75 562.10 L 129.00 562.10 L 129.25 562.10 L 129.50 562.10 L 129.75 562.10 L 130.00 562.10 L 130.25 562.10 L 130.50 562.10 L 130.75 562.10 L 131.00 562.10 L 131.25 562.10 L 131.50 562.10 L 131.75 562.10 L 132.00 562.10 L 132.25 562.10 L 132.50 562.10 L 132.75 562.10 L 133.00 562.10 L 133.25 562.10 L 133.50 562.10 L 133.75 562.10 L 134.00 562.10 L 134.25 562.10 L 134.50 562.10 L 134.75 562.10 L 135.00 562.10 L 135.25 562.10 L 135.50 562.10 L 135.75 562.10 L 136.00 562.10 L 136.25 562.10 L 136.50 562.10 L 136.75 562.10 L 137.00 562.10 L 137.25 562.10 L 137.50 562.10 L 137.75 562.10 L 138.00 562.10 L 138.25 562.10 L 138.50 562.10 L 138.75 562.10 L 139.00 562.10 L 139.25 562.10 L 139.50 562.10 L 139.75 562.10 L 140.00 562.10 L 140.25 562.10 L 140.50 562.10 L 140.75 562.10 L 141.00 562.10 L 141.25 562.10 L 141.50 562.10 L 141.75 562.10 L 142.00 562.10 L 142.25 562.10 L 142.50 562.10 L 142.75 562.10 L 143.00 562.10 L 143.25 562.10 L 143.50 562.10 L 143.75 562.10 L 144.00 562.10 L 144.25 562.10 L 144.50 562.10 L 144.75 562.10 L 145.00 562.10 L 145.25 562.10 L 145.50 562.10 L 145.75 562.10 L 146.00 562.10 L 146.25 562.10 L 146.50 562.10 L 146.75 562.10 L 147.00 562.10 L 147.25 562.10 L 147.50 562.10 L 147.75 562.10 L 148.00 562.10 L 148.25 562.10 L 148.50 562.10 L 148.75 562.10 L 149.00 562.10 L 149.25 562.10 L 149.50 562.10 L 149.75 562.10 L 150.00 562.10 L 150.25 562.10 L 150.50 562.10 L 150.75 562.10 L 151.00 562.10 L 151.25 562.10 L 151.50 562.10 L 151.75 562.10 L 152.00 562.10 L 152.25 562.10 L 152.50 562.10 L 152.75 562.10 L 153.00 562.10 L 153.25 562.10 L 153.50 562.10 L 153.75 562.10 L 154.00 562.10 L 154.25 562.10 L 154.50 562.10 L 154.75 562.10 L 155.00 562.10 L 155.25 562.10 L 155.50 562.10 L 155.75 562.10 L 156.00 562.10 L 156.25 562.10 L 156.50 562.10 L 156.75 561.60 L 157.00 560.77 L 157.25 559.93 L 157.50 559.10 L 157.75 558.27 L 158.00 558.77 L 158.25 558.05 L 158.50 555.80 L 158.75 553.55 L 159.00 554.90 L 159.25 556.10 L 159.50 552.77 L 159.75 549.43 L 160.00 546.10 L 160.25 549.43 L 160.50 552.77 L 160.75 556.10 L 161.00 555.10 L 161.25 552.60 L 161.50 554.10 L 161.75 556.60 L 162.00 559.10 L 162.25 558.56 L 162.50 557.52 L 162.75 557.73 L 163.00 558.77 L 163.25 559.81 L 163.50 559.60 L 163.75 560.12 L 164.00 560.64 L 164.25 561.16 L 164.50 561.68 L 164.75 562.10 L 165.00 562.10 L 165.25 562.10 L 165.50 562.10 L 165.75 562.10 L 166.00 562.10 L 166.25 562.10 L 166.50 562.10 L 166.75 562.10 L 167.00 562.10 L 167.25 562.10 L 167.50 562.10 L 167.75 562.10 L 168.00 562.10 L 168.25 562.10 L 168.50 562.10 L 168.75 562.10 L 169.00 562.10 L 169.25 562.10 L 169.50 562.10 L 169.75 562.10 L 170.00 562.10 L 170.25 562.10 L 170.50 562.10 L 170.75 562.10 L 171.00 562.10 L 171.25 562.10 L 171.50 562.10 L 171.75 562.10 L 172.00 562.10 L 172.25 562.10 L 172.50 562.10 L 172.75 562.10 L 173.00 562.10 L 173.25 562.10 L 173.50 562.10 L 173.75 562.10 L 174.00 562.10 L 174.25 562.10 L 174.50 562.10 L 174.75 562.10 L 175.00 562.10 L 175.25 562.10 L 175.50 562.10 L 175.75 562.10 L 176.00 562.10 L 176.25 562.10 L 176.50 562.10 L 176.75 562.10 L 177.00 562.10 L 177.25 562.10 L 177.50 562.10 L 177.75 562.10 L 178.00 562.10 L 178.25 562.10 L 178.50 562.10 L 178.75 562.10 L 179.00 562.10 L 179.25 562.10 L 179.50 562.10 L 179.75 562.10 L 180.00 562.10 L 180.25 562.10 L 180.50 562.10 L 180.75 562.10 L 181.00 562.10 L 181.25 562.10 L 181.50 562.10 L 181.75 562.10 L 182.00 562.10 L 182.25 562.10 L 182.50 562.10 L 182.75 562.10 L 183.00 562.10 L 183.25 562.10 L 183.50 562.10 L 183.75 562.10 L 184.00 562.10 L 184.25 562.10 L 184.50 562.10 L 184.75 562.10 L 185.00 562.10 L 185.25 562.10 L 185.50 562.10 L 185.75 562.10 L 186.00 562.10 L 186.25 562.10 L 186.50 562.10 L 186.75 562.10 L 187.00 562.10 L 187.25 562.10 L 187.50 562.10 L 187.75 562.10 L 187.80 562.10 Z" fill="#5a5a5a" stroke="none"/>
<line x1="81.50" y1="562.10" x2="187.80" y2="562.10" stroke="#8a8a8a" stroke-width="0.7"/>
<path d="M 81.50 598.20 L 81.50 598.20 L 81.75 598.20 L 82.00 598.20 L 82.25 598.20 L 82.50 598.20 L 82.75 598.20 L 83.00 598.20 L 83.25 598.20 L 83.50 598.20 L 83.75 598.20 L 84.00 598.20 L 84.25 598.20 L 84.50 598.20 L 84.75 598.20 L 85.00 598.20 L 85.25 598.20 L 85.50 598.20 L 85.75 598.20 L 86.00 598.20 L 86.25 598.20 L 86.50 598.20 L 86.75 598.20 L 87.00 598.20 L 87.25 598.20 L 87.50 598.20 L 87.75 598.20 L 88.00 598.20 L 88.25 598.20 L 88.50 598.20 L 88.75 598.20 L 89.00 598.20 L 89.25 598.20 L 89.50 598.20 L 89.75 598.20 L 90.00 598.20 L 90.25 598.20 L 90.50 598.20 L 90.75 598.20 L 91.00 598.20 L 91.25 598.20 L 91.50 598.20 L 91.75 598.20 L 92.00 598.20 L 92.25 598.20 L 92.50 598.20 L 92.75 598.20 L 93.00 598.20 L 93.25 598.20 L 93.50 598.20 L 93.75 598.20 L 94.00 598.20 L 94.25 598.20 L 94.50 598.20 L 94.75 598.20 L 95.00 598.20 L 95.25 598.20 L 95.50 598.20 L 95.75 598.20 L 96.00 598.20 L 96.25 598.20 L 96.50 598.20 L 96.75 598.20 L 97.00 598.20 L 97.25 598.20 L 97.50 598.20 L 97.75 598.20 L 98.00 598.20 L 98.25 598.20 L 98.50 598.20 L 98.75 598.20 L 99.00 598.20 L 99.25 598.20 L 99.50 598.20 L 99.75 598.20 L 100.00 598.20 L 100.25 598.20 L 100.50 598.20 L 100.75 598.20 L 101.00 598.20 L 101.25 598.20 L 101.50 598.20 L 101.75 598.20 L 102.00 598.20 L 102.25 598.20 L 102.50 598.20 L 102.75 598.20 L 103.00 598.20 L 103.25 598.20 L 103.50 598.20 L 103.75 598.20 L 104.00 598.20 L 104.25 598.20 L 104.50 598.20 L 104.75 598.20 L 105.00 598.20 L 105.25 598.20 L 105.50 598.20 L 105.75 598.20 L 106.00 598.20 L 106.25 598.20 L 106.50 598.20 L 106.75 598.20 L 107.00 598.20 L 107.25 598.20 L 107.50 598.20 L 107.75 593.83 L 108.00 589.45 L 108.25 585.08 L 108.50 580.70 L 108.75 585.08 L 109.00 589.45 L 109.25 590.40 L 109.50 587.40 L 109.75 588.00 L 110.00 590.70 L 110.25 586.95 L 110.50 583.20 L 110.75 586.95 L 111.00 590.70 L 111.25 591.90 L 111.50 588.40 L 111.75 584.90 L 112.00 587.00 L 112.25 588.48 L 112.50 583.08 L 112.75 577.68 L 113.00 580.92 L 113.25 586.32 L 113.50 589.70 L 113.75 585.45 L 114.00 581.20 L 114.25 581.43 L 114.50 574.98 L 114.75 576.27 L 115.00 582.72 L 115.25 589.17 L 115.50 584.20 L 115.75 579.20 L 116.00 582.20 L 116.25 583.65 L 116.50 577.04 L 116.75 570.42 L 117.00 574.39 L 117.25 581.00 L 117.50 587.62 L 117.75 587.20 L 118.00 582.20 L 118.25 579.20 L 118.50 584.20 L 118.75 589.20 L 119.00 588.20 L 119.25 590.28 L 119.50 592.37 L 119.75 594.45 L 120.00 594.20 L 120.25 595.03 L 120.50 595.87 L 120.75 596.70 L 121.00 597.53 L 121.25 598.20 L 121.50 598.20 L 121.75 598.20 L 122.00 598.20 L 122.25 598.20 L 122.50 598.20 L 122.75 598.20 L 123.00 598.20 L 123.25 598.20 L 123.50 598.20 L 123.75 598.20 L 124.00 598.20 L 124.25 598.20 L 124.50 598.20 L 124.75 598.20 L 125.00 598.20 L 125.25 598.20 L 125.50 598.20 L 125.75 598.20 L 126.00 598.20 L 126.25 598.20 L 126.50 598.20 L 126.75 598.20 L 127.00 598.20 L 127.25 598.20 L 127.50 598.20 L 127.75 598.20 L 128.00 598.20 L 128.25 598.20 L 128.50 598.20 L 128.75 598.20 L 129.00 598.20 L 129.25 598.20 L 129.50 598.20 L 129.75 598.20 L 130.00 598.20 L 130.25 598.20 L 130.50 598.20 L 130.75 598.20 L 131.00 598.20 L 131.25 598.20 L 131.50 598.20 L 131.75 598.20 L 132.00 598.20 L 132.25 598.20 L 132.50 598.20 L 132.75 598.20 L 133.00 598.20 L 133.25 598.20 L 133.50 598.20 L 133.75 598.20 L 134.00 598.20 L 134.25 598.20 L 134.50 598.20 L 134.75 598.20 L 135.00 598.20 L 135.25 598.20 L 135.50 598.20 L 135.75 598.20 L 136.00 598.20 L 136.25 598.20 L 136.50 598.20 L 136.75 598.20 L 137.00 598.20 L 137.25 598.20 L 137.50 598.20 L 137.75 598.20 L 138.00 598.20 L 138.25 598.20 L 138.50 598.20 L 138.75 598.20 L 139.00 598.20 L 139.25 598.20 L 139.50 598.20 L 139.75 598.20 L 140.00 598.20 L 140.25 598.20 L 140.50 598.20 L 140.75 598.20 L 141.00 598.20 L 141.25 598.20 L 141.50 598.20 L 141.75 598.20 L 142.00 598.20 L 142.25 598.20 L 142.50 598.20 L 142.75 598.20 L 143.00 598.20 L 143.25 598.20 L 143.50 598.20 L 143.75 598.20 L 144.00 598.20 L 144.25 598.20 L 144.50 598.20 L 144.75 598.20 L 145.00 598.20 L 145.25 598.20 L 145.50 598.20 L 145.75 598.20 L 146.00 598.20 L 146.25 598.20 L 146.50 598.20 L 146.75 598.20 L 147.00 598.20 L 147.25 598.20 L 147.50 598.20 L 147.75 598.20 L 148.00 598.20 L 148.25 598.20 L 148.50 598.20 L 148.75 598.20 L 149.00 598.20 L 149.25 598.20 L 149.50 598.20 L 149.75 598.20 L 150.00 598.20 L 150.25 598.20 L 150.50 598.20 L 150.75 598.20 L 151.00 598.20 L 151.25 598.20 L 151.50 598.20 L 151.75 598.20 L 152.00 598.20 L 152.25 598.20 L 152.50 598.20 L 152.75 598.20 L 153.00 598.20 L 153.25 598.20 L 153.50 598.20 L 153.75 598.20 L 154.00 598.20 L 154.25 598.20 L 154.50 598.20 L 154.75 598.20 L 155.00 598.20 L 155.25 598.20 L 155.50 598.20 L 155.75 598.20 L 156.00 597.53 L 156.25 596.70 L 156.50 595.87 L 156.75 595.03 L 157.00 594.20 L 157.25 595.03 L 157.50 595.87 L 157.75 594.45 L 158.00 592.37 L 158.25 590.28 L 158.50 588.20 L 158.75 589.95 L 159.00 585.37 L 159.25 580.78 L 159.50 576.20 L 159.75 580.78 L 160.00 576.05 L 160.25 569.89 L 160.50 568.66 L 160.75 574.82 L 161.00 580.97 L 161.25 586.95 L 161.50 583.20 L 161.75 586.95 L 162.00 590.70 L 162.25 590.60 L 162.50 591.80 L 162.75 593.80 L 163.00 594.87 L 163.25 593.83 L 163.50 593.62 L 163.75 594.66 L 164.00 595.70 L 164.25 596.74 L 164.50 597.78 L 164.75 598.20 L 165.00 598.20 L 165.25 598.20 L 165.50 598.20 L 165.75 598.20 L 166.00 598.20 L 166.25 598.20 L 166.50 598.20 L 166.75 598.20 L 167.00 598.20 L 167.25 598.20 L 167.50 598.20 L 167.75 598.20 L 168.00 598.20 L 168.25 598.20 L 168.50 598.20 L 168.75 598.20 L 169.00 598.20 L 169.25 598.20 L 169.50 598.20 L 169.75 598.20 L 170.00 598.20 L 170.25 598.20 L 170.50 598.20 L 170.75 598.20 L 171.00 598.20 L 171.25 598.20 L 171.50 598.20 L 171.75 598.20 L 172.00 598.20 L 172.25 598.20 L 172.50 598.20 L 172.75 598.20 L 173.00 598.20 L 173.25 598.20 L 173.50 598.20 L 173.75 598.20 L 174.00 598.20 L 174.25 598.20 L 174.50 598.20 L 174.75 598.20 L 175.00 598.20 L 175.25 598.20 L 175.50 598.20 L 175.75 598.20 L 176.00 598.20 L 176.25 598.20 L 176.50 598.20 L 176.75 598.20 L 177.00 598.20 L 177.25 598.20 L 177.50 598.20 L 177.75 598.20 L 178.00 598.20 L 178.25 598.20 L 178.50 598.20 L 178.75 598.20 L 179.00 598.20 L 179.25 598.20 L 179.50 598.20 L 179.75 598.20 L 180.00 598.20 L 180.25 598.20 L 180.50 598.20 L 180.75 598.20 L 181.00 598.20 L 181.25 598.20 L 181.50 598.20 L 181.75 598.20 L 182.00 598.20 L 182.25 598.20 L 182.50 598.20 L 182.75 598.20 L 183.00 598.20 L 183.25 598.20 L 183.50 598.20 L 183.75 598.20 L 184.00 598.20 L 184.25 598.20 L 184.50 598.20 L 184.75 598.20 L 185.00 598.20 L 185.25 598.20 L 185.50 598.20 L 185.75 598.20 L 186.00 598.20 L 186.25 598.20 L 186.50 598.20 L 186.75 598.20 L 187.00 598.20 L 187.25 598.20 L 187.50 598.20 L 187.75 598.20 L 187.80 598.20 Z" fill="#000" stroke="none"/>
<line x1="81.50" y1="598.20" x2="187.80" y2="598.20" stroke="#777" stroke-width="0.7"/>
<rect x="126.5" y="561.4" width="1" height="0.8" fill="#777"/>
<rect x="132" y="597.4" width="1" height="0.8" fill="#777"/>
<path d="M 81.50 636.00 L 81.50 636.00 L 82.00 636.00 L 82.50 636.00 L 83.00 636.00 L 83.50 636.00 L 84.00 636.00 L 84.50 636.00 L 85.00 636.00 L 85.50 636.00 L 86.00 636.00 L 86.50 633.75 L 87.00 636.00 L 87.50 636.00 L 88.00 636.00 L 88.50 636.00 L 89.00 636.00 L 89.50 636.00 L 90.00 636.00 L 90.50 636.00 L 91.00 636.00 L 91.50 636.00 L 92.00 636.00 L 92.50 636.00 L 93.00 636.00 L 93.50 636.00 L 94.00 636.00 L 94.50 636.00 L 95.00 636.00 L 95.50 636.00 L 96.00 636.00 L 96.50 633.60 L 97.00 636.00 L 97.50 635.99 L 98.00 635.99 L 98.50 635.61 L 99.00 635.98 L 99.50 633.44 L 100.00 635.95 L 100.50 635.93 L 101.00 635.90 L 101.50 635.87 L 102.00 635.82 L 102.50 635.75 L 103.00 635.67 L 103.50 634.77 L 104.00 635.43 L 104.50 635.28 L 105.00 635.09 L 105.50 634.88 L 106.00 634.64 L 106.50 634.37 L 107.00 633.93 L 107.50 630.13 L 108.00 627.70 L 108.50 628.10 L 109.00 629.17 L 109.50 630.65 L 110.00 632.20 L 110.50 632.09 L 111.00 631.93 L 111.50 631.83 L 112.00 631.80 L 112.50 631.83 L 113.00 631.93 L 113.50 632.09 L 114.00 632.29 L 114.50 632.27 L 115.00 632.12 L 115.50 632.03 L 116.00 632.00 L 116.50 632.06 L 117.00 632.22 L 117.50 632.47 L 118.00 632.80 L 118.50 633.17 L 119.00 633.57 L 119.50 633.97 L 120.00 634.36 L 120.50 634.70 L 121.00 635.00 L 121.50 635.25 L 122.00 633.32 L 122.50 635.62 L 123.00 635.74 L 123.50 634.73 L 124.00 635.89 L 124.50 635.93 L 125.00 635.96 L 125.50 635.97 L 126.00 635.96 L 126.50 635.99 L 127.00 634.25 L 127.50 636.00 L 128.00 636.00 L 128.50 636.00 L 129.00 636.00 L 129.50 636.00 L 130.00 633.81 L 130.50 636.00 L 131.00 636.00 L 131.50 636.00 L 132.00 636.00 L 132.50 635.94 L 133.00 636.00 L 133.50 636.00 L 134.00 636.00 L 134.50 636.00 L 135.00 636.00 L 135.50 636.00 L 136.00 636.00 L 136.50 636.00 L 137.00 636.00 L 137.50 636.00 L 138.00 633.84 L 138.50 636.00 L 139.00 636.00 L 139.50 636.00 L 140.00 636.00 L 140.50 636.00 L 141.00 636.00 L 141.50 636.00 L 142.00 636.00 L 142.50 636.00 L 143.00 636.00 L 143.50 636.00 L 144.00 634.89 L 144.50 636.00 L 145.00 636.00 L 145.50 636.00 L 146.00 636.00 L 146.50 635.41 L 147.00 636.00 L 147.50 636.00 L 148.00 636.00 L 148.50 634.84 L 149.00 636.00 L 149.50 633.47 L 150.00 636.00 L 150.50 636.00 L 151.00 636.00 L 151.50 635.99 L 152.00 635.98 L 152.50 635.94 L 153.00 635.86 L 153.50 633.39 L 154.00 635.33 L 154.50 634.68 L 155.00 633.52 L 155.50 631.60 L 156.00 628.63 L 156.50 624.33 L 157.00 618.54 L 157.50 611.33 L 158.00 603.06 L 158.50 599.00 L 159.00 599.00 L 159.50 599.00 L 160.00 599.00 L 160.50 599.00 L 161.00 599.00 L 161.50 599.00 L 162.00 599.61 L 162.50 610.03 L 163.00 619.00 L 163.50 625.80 L 164.00 625.59 L 164.50 623.08 L 165.00 624.22 L 165.50 628.12 L 166.00 632.12 L 166.50 634.60 L 167.00 635.63 L 167.50 635.93 L 168.00 635.99 L 168.50 636.00 L 169.00 636.00 L 169.50 636.00 L 170.00 636.00 L 170.50 636.00 L 171.00 636.00 L 171.50 636.00 L 172.00 636.00 L 172.50 636.00 L 173.00 636.00 L 173.50 636.00 L 174.00 636.00 L 174.50 636.00 L 175.00 636.00 L 175.50 636.00 L 176.00 636.00 L 176.50 636.00 L 177.00 636.00 L 177.50 636.00 L 178.00 636.00 L 178.50 636.00 L 179.00 636.00 L 179.50 636.00 L 180.00 636.00 L 180.50 636.00 L 181.00 635.66 L 181.50 636.00 L 182.00 634.52 L 182.50 636.00 L 183.00 633.94 L 183.50 636.00 L 184.00 636.00 L 184.50 636.00 L 185.00 636.00 L 185.50 636.00 L 186.00 636.00 L 186.50 636.00 L 187.00 636.00 L 187.50 636.00 L 187.80 636.00 Z" fill="#f00a0a"/>
<line x1="81.50" y1="636.00" x2="187.80" y2="636.00" stroke="#c8c8c8" stroke-width="0.6"/>
<rect x="158.5" y="598.4" width="5.2" height="1.3" fill="#d020d0"/>
<path d="M 81.50 674.00 L 81.50 673.14 L 82.00 673.68 L 82.50 674.00 L 83.00 673.96 L 83.50 673.90 L 84.00 674.00 L 84.50 673.49 L 85.00 673.60 L 85.50 674.00 L 86.00 673.40 L 86.50 673.58 L 87.00 673.29 L 87.50 673.50 L 88.00 673.44 L 88.50 674.00 L 89.00 674.00 L 89.50 674.00 L 90.00 673.60 L 90.50 674.00 L 91.00 674.00 L 91.50 674.00 L 92.00 674.00 L 92.50 673.23 L 93.00 673.29 L 93.50 674.00 L 94.00 674.00 L 94.50 673.88 L 95.00 674.00 L 95.50 673.61 L 96.00 674.00 L 96.50 674.00 L 97.00 674.00 L 97.50 673.75 L 98.00 674.00 L 98.50 674.00 L 99.00 674.00 L 99.50 673.10 L 100.00 673.66 L 100.50 673.76 L 101.00 673.61 L 101.50 673.28 L 102.00 674.00 L 102.50 674.00 L 103.00 673.99 L 103.50 673.55 L 104.00 673.96 L 104.50 673.23 L 105.00 673.82 L 105.50 673.64 L 106.00 673.32 L 106.50 672.02 L 107.00 671.83 L 107.50 670.41 L 108.00 668.32 L 108.50 665.10 L 109.00 660.96 L 109.50 657.07 L 110.00 651.51 L 110.50 645.51 L 111.00 641.03 L 111.50 636.80 L 112.00 636.80 L 112.50 636.80 L 113.00 636.80 L 113.50 636.80 L 114.00 636.80 L 114.50 636.80 L 115.00 637.34 L 115.50 638.78 L 116.00 641.38 L 116.50 644.55 L 117.00 647.42 L 117.50 650.13 L 118.00 652.73 L 118.50 654.66 L 119.00 658.04 L 119.50 660.36 L 120.00 661.83 L 120.50 664.39 L 121.00 665.45 L 121.50 666.73 L 122.00 668.79 L 122.50 666.79 L 123.00 670.74 L 123.50 671.46 L 124.00 672.05 L 124.50 670.41 L 125.00 670.19 L 125.50 671.24 L 126.00 671.52 L 126.50 673.19 L 127.00 673.69 L 127.50 673.12 L 128.00 673.85 L 128.50 673.89 L 129.00 672.92 L 129.50 671.19 L 130.00 672.18 L 130.50 673.98 L 131.00 673.99 L 131.50 673.99 L 132.00 673.11 L 132.50 674.00 L 133.00 672.20 L 133.50 673.14 L 134.00 674.00 L 134.50 674.00 L 135.00 674.00 L 135.50 674.00 L 136.00 674.00 L 136.50 674.00 L 137.00 671.86 L 137.50 674.00 L 138.00 674.00 L 138.50 674.00 L 139.00 672.41 L 139.50 674.00 L 140.00 671.39 L 140.50 673.96 L 141.00 672.24 L 141.50 672.19 L 142.00 674.00 L 142.50 674.00 L 143.00 674.00 L 143.50 674.00 L 144.00 674.00 L 144.50 674.00 L 145.00 671.97 L 145.50 673.60 L 146.00 674.00 L 146.50 673.11 L 147.00 674.00 L 147.50 674.00 L 148.00 674.00 L 148.50 674.00 L 149.00 674.00 L 149.50 673.20 L 150.00 673.98 L 150.50 673.95 L 151.00 673.91 L 151.50 673.36 L 152.00 673.66 L 152.50 672.45 L 153.00 672.93 L 153.50 671.99 L 154.00 671.08 L 154.50 668.87 L 155.00 666.17 L 155.50 663.99 L 156.00 659.31 L 156.50 655.08 L 157.00 649.42 L 157.50 642.96 L 158.00 636.80 L 158.50 636.80 L 159.00 636.80 L 159.50 636.80 L 160.00 636.80 L 160.50 636.80 L 161.00 636.80 L 161.50 636.80 L 162.00 636.80 L 162.50 639.73 L 163.00 648.10 L 163.50 654.56 L 164.00 660.63 L 164.50 665.11 L 165.00 667.54 L 165.50 669.71 L 166.00 671.45 L 166.50 672.01 L 167.00 673.47 L 167.50 670.97 L 168.00 673.88 L 168.50 673.08 L 169.00 672.22 L 169.50 673.99 L 170.00 674.00 L 170.50 672.39 L 171.00 674.00 L 171.50 674.00 L 172.00 671.07 L 172.50 673.23 L 173.00 673.94 L 173.50 674.00 L 174.00 673.13 L 174.50 674.00 L 175.00 673.69 L 175.50 674.00 L 176.00 673.61 L 176.50 673.34 L 177.00 671.62 L 177.50 672.54 L 178.00 673.64 L 178.50 674.00 L 179.00 674.00 L 179.50 673.97 L 180.00 674.00 L 180.50 674.00 L 181.00 674.00 L 181.50 674.00 L 182.00 674.00 L 182.50 674.00 L 183.00 674.00 L 183.50 673.43 L 184.00 674.00 L 184.50 674.00 L 185.00 671.31 L 185.50 672.18 L 186.00 673.73 L 186.50 671.08 L 187.00 672.52 L 187.50 670.98 L 187.80 674.00 Z" fill="#1466cc"/>
<line x1="81.50" y1="674.00" x2="187.80" y2="674.00" stroke="#1466cc" stroke-width="0.7"/>
<rect x="158.5" y="636.6" width="5.2" height="1.2" fill="#b040c0" opacity="0.7"/>
<line x1="103.00" y1="678.70" x2="122.00" y2="678.70" stroke="#3434a4" stroke-width="0.6"/>
<rect x="107.20" y="677.20" width="10.80" height="3.00" fill="#3434a4" stroke="none" stroke-width="1"/>
<rect x="118.60" y="677.20" width="1.20" height="3.00" fill="#3434a4" stroke="none" stroke-width="1"/>
<rect x="120.80" y="677.40" width="0.90" height="2.60" fill="#3434a4" stroke="none" stroke-width="1"/>
<rect x="103.00" y="677.80" width="0.80" height="1.80" fill="#3434a4" stroke="none" stroke-width="1"/>
<rect x="157.90" y="677.00" width="1.60" height="3.20" fill="#3434a4" stroke="none" stroke-width="1"/>
<line x1="159.50" y1="678.70" x2="176.80" y2="678.70" stroke="#7a7ad0" stroke-width="0.6"/>
<line x1="176.80" y1="677.60" x2="176.80" y2="679.80" stroke="#7a7ad0" stroke-width="0.6"/>
<line x1="163.00" y1="677.60" x2="163.00" y2="679.80" stroke="#7a7ad0" stroke-width="0.6"/>
<text x="106.4" y="690.8" font-size="8.6" font-style="italic" fill="#111" stroke="#111" stroke-width="0.22">Six3</text>
<text x="153.9" y="690.8" font-size="8.6" font-style="italic" fill="#111" stroke="#111" stroke-width="0.22">Six2</text>
<text x="74.50" y="699.40" font-size="8.6" fill="#111" stroke="#111" stroke-width="0.22">100 kb</text>
<line x1="105.00" y1="697.00" x2="169.60" y2="697.00" stroke="#111" stroke-width="1.0"/>
<line x1="105.00" y1="694.20" x2="105.00" y2="700.20" stroke="#111" stroke-width="1.0"/>
<line x1="169.60" y1="694.20" x2="169.60" y2="700.20" stroke="#111" stroke-width="1.0"/>
<text x="214.60" y="521.60" font-size="12" fill="#000" stroke="#000" stroke-width="0.22" font-weight="bold">i</text>
<text x="351.60" y="531.30" font-size="8.6" fill="#111" stroke="#111" stroke-width="0.22" text-anchor="middle" font-weight="bold">G1 phase</text>
<text x="601.60" y="530.70" font-size="8.6" fill="#111" stroke="#111" stroke-width="0.22" text-anchor="middle" font-weight="bold">G2 phase</text>
<line x1="225.00" y1="610.60" x2="471.80" y2="610.60" stroke="#000" stroke-width="1.5"/>
<ellipse cx="268.40" cy="605.00" rx="12.1" ry="10.8" fill="url(#gRedC)" stroke="#1a1a1a" stroke-width="0.8"/>
<text x="268.40" y="607.10" font-size="5.9" fill="#111" stroke="#111" stroke-width="0.22" text-anchor="middle">vPRC1</text>
<line x1="298.20" y1="610.60" x2="298.20" y2="598.00" stroke="#222" stroke-width="1.1"/>
<circle cx="297.60" cy="597.5" r="2.6" fill="#f20a0a"/>
<path d="M 301.60 610.6 L 301.60 599.2 L 308.20 599.2" fill="none" stroke="#222" stroke-width="0.9"/>
<polygon points="307.70,597.9 311.80,599.2 307.70,600.5" fill="#222"/>
<rect x="304.20" y="605.80" width="20.00" height="4.60" fill="#000" stroke="none" stroke-width="1"/>
<path d="M 315.20 598.8 q 2.5 -1.6 5 -0.8 t 5 -0.8 t 5 -0.8 t 4.5 -1.4" fill="none" stroke="#222" stroke-width="0.9" stroke-dasharray="1.8,1.4"/>
<ellipse cx="354.40" cy="605.00" rx="12.1" ry="10.8" fill="url(#gBlueC)" stroke="#1a1a1a" stroke-width="0.8"/>
<text x="354.40" y="607.10" font-size="5.9" fill="#111" stroke="#111" stroke-width="0.22" text-anchor="middle">cPRC1</text>
<line x1="380.00" y1="610.60" x2="380.00" y2="598.00" stroke="#222" stroke-width="1.1"/>
<circle cx="379.40" cy="597.5" r="2.6" fill="#f20a0a"/>
<path d="M 383.40 610.6 L 383.40 599.2 L 390.00 599.2" fill="none" stroke="#222" stroke-width="0.9"/>
<polygon points="389.50,597.9 393.60,599.2 389.50,600.5" fill="#222"/>
<rect x="386.00" y="605.80" width="20.00" height="4.60" fill="#000" stroke="none" stroke-width="1"/>
<path d="M 397.00 598.8 q 2.5 -1.6 5 -0.8 t 5 -0.8 t 5 -0.8 t 4.5 -1.4" fill="none" stroke="#222" stroke-width="0.9" stroke-dasharray="1.8,1.4"/>
<ellipse cx="428.60" cy="604.70" rx="12.0" ry="11.0" fill="url(#gBlueC)" stroke="#1a1a1a" stroke-width="0.8"/>
<text x="428.60" y="606.80" font-size="5.9" fill="#111" stroke="#111" stroke-width="0.22" text-anchor="middle">cPRC1</text>
<ellipse cx="454.50" cy="604.80" rx="12.2" ry="11.0" fill="url(#gRedC)" stroke="#1a1a1a" stroke-width="0.8"/>
<text x="454.50" y="606.90" font-size="5.9" fill="#111" stroke="#111" stroke-width="0.22" text-anchor="middle">vPRC1</text>
<text x="350.50" y="626.80" font-size="8.6" fill="#111" stroke="#111" stroke-width="0.22" text-anchor="middle">Developmentally regulated locus</text>
<line x1="479.40" y1="609.40" x2="510.00" y2="609.40" stroke="#222" stroke-width="0.9"/>
<polygon points="507.3,606.3 517.8,609.4 507.3,612.5" fill="#111"/>
<path d="M 523.4 610.6 L 570 610.4 C 582 610 588 606 588.2 599 C 588.5 593 580 590 576 584 C 571.5 577 571 566 575.5 558 C 581 548.5 593 545 606 545 C 621 545 634 549 638.5 557 C 643 566 642 579 635 587 C 628 592.5 618 592 614 596 C 610 601 612 607 620 609.5 C 630 611 650 610.6 683.5 610.6" fill="none" stroke="#000" stroke-width="1.8" stroke-linejoin="round"/>
<ellipse cx="596.60" cy="559.90" rx="12.1" ry="10.7" fill="url(#gBlueC)" stroke="#1a1a1a" stroke-width="0.8"/>
<text x="596.60" y="562.00" font-size="5.9" fill="#111" stroke="#111" stroke-width="0.22" text-anchor="middle">cPRC1</text>
<ellipse cx="621.00" cy="561.80" rx="11.6" ry="10.9" fill="url(#gRedC)" stroke="#1a1a1a" stroke-width="0.8"/>
<text x="621.00" y="563.90" font-size="5.9" fill="#111" stroke="#111" stroke-width="0.22" text-anchor="middle">vPRC1</text>
<ellipse cx="591.60" cy="582.90" rx="11.9" ry="10.8" fill="url(#gRedC)" stroke="#1a1a1a" stroke-width="0.8"/>
<text x="591.60" y="585.00" font-size="5.9" fill="#111" stroke="#111" stroke-width="0.22" text-anchor="middle">vPRC1</text>
<ellipse cx="616.60" cy="583.80" rx="11.9" ry="10.8" fill="url(#gBlueC)" stroke="#1a1a1a" stroke-width="0.8"/>
<text x="616.60" y="585.90" font-size="5.9" fill="#111" stroke="#111" stroke-width="0.22" text-anchor="middle">cPRC1</text>
<polygon points="574.2,559.6 586.3,545.6 589.4,548.9 577.4,563.0" fill="#000"/>
<polygon points="633.4,561.2 637.6,560.3 641.8,578.0 637.6,579.0" fill="#000"/>
<path d="M 576.2 564.3 L 566.6 561.4 L 569.6 553.6" fill="none" stroke="#000" stroke-width="1.0"/>
<line x1="565.20" y1="551.10" x2="574.60" y2="555.50" stroke="#000" stroke-width="1.0"/>
<path d="M 635.2 558.7 L 644.2 553.4 L 649.2 561.0" fill="none" stroke="#000" stroke-width="1.0"/>
<line x1="644.60" y1="563.50" x2="653.90" y2="558.80" stroke="#000" stroke-width="1.0"/>
<line x1="562.40" y1="569.00" x2="575.60" y2="569.00" stroke="#000" stroke-width="1.0"/>
<circle cx="562.4" cy="569.0" r="2.6" fill="#f20a0a"/>
<line x1="562.40" y1="575.40" x2="575.60" y2="575.40" stroke="#000" stroke-width="1.0"/>
<circle cx="562.4" cy="575.4" r="2.6" fill="#f20a0a"/>
<line x1="562.40" y1="581.90" x2="575.60" y2="581.90" stroke="#000" stroke-width="1.0"/>
<circle cx="562.4" cy="581.9" r="2.6" fill="#f20a0a"/>
<line x1="633.00" y1="539.00" x2="625.50" y2="546.50" stroke="#000" stroke-width="1.0"/>
<circle cx="633.0" cy="539.0" r="2.5" fill="#f20a0a"/>
<line x1="637.80" y1="542.70" x2="629.60" y2="550.00" stroke="#000" stroke-width="1.0"/>
<circle cx="637.8" cy="542.7" r="2.5" fill="#f20a0a"/>
<line x1="642.10" y1="547.30" x2="634.20" y2="554.60" stroke="#000" stroke-width="1.0"/>
<circle cx="642.1" cy="547.3" r="2.5" fill="#f20a0a"/>
</svg>
</body></html>
